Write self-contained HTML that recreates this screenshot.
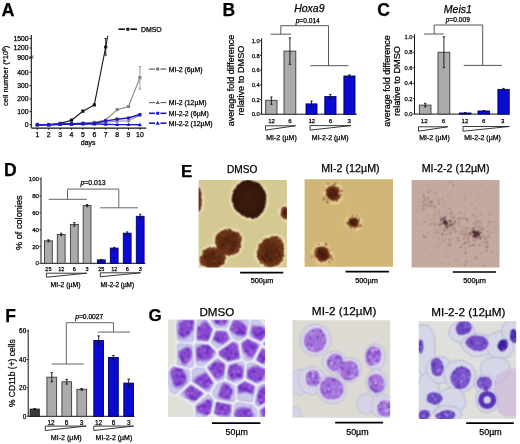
<!DOCTYPE html>
<html><head><meta charset="utf-8"><style>
html,body{margin:0;padding:0;background:#fff;width:520px;height:444px;overflow:hidden}
svg{display:block;will-change:transform}
text{font-family:"Liberation Sans", sans-serif;stroke:#000;stroke-width:0.25px;stroke-linejoin:round}
</style></head><body>
<svg width="520" height="444" viewBox="0 0 520 444" font-family="Liberation Sans, sans-serif">
<rect width="520" height="444" fill="#fff"/>
<defs>
<filter id="soft" x="-5%" y="-5%" width="110%" height="110%" color-interpolation-filters="sRGB"><feConvolveMatrix order="3" kernelMatrix="1 2 1 2 4 2 1 2 1" divisor="16" edgeMode="duplicate"/></filter>
<filter id="halo" x="-20%" y="-20%" width="140%" height="140%"><feGaussianBlur stdDeviation="0.85"/></filter>
<radialGradient id="colA" cx="50%" cy="48%" r="52%"><stop offset="0" stop-color="#3e1c0e"/><stop offset="0.7" stop-color="#36170a"/><stop offset="1" stop-color="#321408"/></radialGradient>
<radialGradient id="colB" cx="50%" cy="50%" r="52%"><stop offset="0" stop-color="#54260f"/><stop offset="0.65" stop-color="#5e2c14"/><stop offset="1" stop-color="#7a4020"/></radialGradient>
<radialGradient id="colC" cx="50%" cy="50%" r="52%"><stop offset="0" stop-color="#40160a"/><stop offset="0.55" stop-color="#5a2410"/><stop offset="1" stop-color="#9a5a2c"/></radialGradient>
<clipPath id="clip0"><rect x="198.6" y="179.9" width="88.3" height="87.5"/></clipPath>
<clipPath id="clip1"><rect x="304.6" y="179.2" width="88.4" height="87.5"/></clipPath>
<clipPath id="clip2"><rect x="411.6" y="179.9" width="87.9" height="87.5"/></clipPath>
<clipPath id="clip3"><rect x="168.0" y="319.4" width="97.1" height="97.7"/></clipPath>
<clipPath id="clip4"><rect x="292.4" y="320.2" width="97.8" height="97.5"/></clipPath>
<clipPath id="clip5"><rect x="418.7" y="321.2" width="97.5" height="97.9"/></clipPath>
</defs>
<g clip-path="url(#clip0)"><g filter="url(#soft)">
<rect x="196.6" y="177.9" width="92.3" height="91.5" fill="#d4c893"/>
<g filter="url(#halo)">
<path d="M268.2,199.0 L267.9,202.8 L267.2,206.6 L265.4,210.0 L263.4,213.4 L261.0,216.8 L257.5,219.1 L253.4,219.9 L249.4,220.2 L245.5,219.1 L242.1,217.2 L238.8,215.3 L236.2,212.6 L233.4,210.0 L231.3,206.7 L230.4,202.9 L230.2,199.0 L230.9,195.2 L231.7,191.4 L233.2,187.8 L235.3,184.5 L238.2,181.7 L241.7,179.9 L245.4,178.2 L249.4,178.3 L253.4,178.4 L257.0,180.1 L259.9,182.7 L263.0,185.0 L265.0,188.2 L267.1,191.5 L268.0,195.2 Z" fill="#f8ebbe"/>
<path d="M203.5,199.2 L203.4,202.0 L203.4,205.0 L202.8,207.6 L202.1,210.1 L201.0,211.3 L199.9,212.6 L198.7,213.0 L197.6,212.1 L196.5,212.1 L195.5,211.4 L194.6,210.1 L193.6,208.9 L192.6,207.3 L191.9,204.9 L191.7,202.0 L191.7,199.2 L191.6,196.3 L192.0,193.6 L192.5,191.0 L193.3,188.8 L194.3,187.4 L195.5,186.7 L196.5,186.2 L197.6,185.8 L198.7,185.6 L199.8,186.4 L200.8,187.8 L201.8,189.2 L202.4,191.5 L203.0,193.9 L203.2,196.5 Z" fill="#f8ebbe"/>
<path d="M292.1,213.2 L292.7,214.9 L292.7,216.7 L291.8,218.2 L290.9,219.6 L289.6,220.4 L288.3,221.2 L286.9,221.7 L285.5,221.5 L284.2,220.7 L283.2,219.8 L282.3,218.9 L281.6,217.8 L280.8,216.9 L279.8,216.0 L279.3,214.6 L279.0,213.2 L278.6,211.6 L279.0,210.0 L279.5,208.5 L280.5,207.3 L281.7,206.4 L282.8,205.4 L284.1,205.1 L285.5,204.6 L287.0,204.4 L288.2,205.6 L288.9,207.3 L289.7,208.3 L289.9,209.7 L290.4,210.8 L291.3,211.8 Z" fill="#f8ebbe"/>
<path d="M243.5,242.2 L242.7,245.3 L242.5,248.6 L240.5,251.1 L239.0,253.8 L236.3,255.1 L233.8,256.2 L231.1,256.0 L228.6,256.8 L226.0,257.0 L223.5,256.0 L220.9,255.0 L218.8,253.1 L217.5,250.5 L215.0,248.5 L213.6,245.5 L213.1,242.2 L213.6,238.9 L214.0,235.5 L216.5,233.2 L218.6,231.1 L220.9,229.3 L223.4,228.2 L225.9,227.2 L228.6,227.9 L231.1,227.9 L233.4,229.2 L236.2,229.5 L238.9,230.8 L240.7,233.2 L242.6,235.7 L243.6,238.9 Z" fill="#f8ebbe"/>
<path d="M228.1,258.5 L227.0,261.3 L225.8,263.8 L223.6,265.7 L221.6,267.3 L219.7,268.8 L217.7,270.3 L215.3,271.9 L212.6,271.7 L210.0,271.0 L207.6,270.1 L205.6,268.7 L202.9,267.9 L200.3,266.5 L198.5,264.2 L197.8,261.4 L198.2,258.5 L199.9,256.1 L200.3,253.6 L201.3,251.2 L202.9,249.1 L205.1,247.5 L207.3,246.0 L210.0,245.8 L212.6,244.8 L215.3,245.4 L217.6,246.7 L219.6,248.3 L222.0,249.4 L223.6,251.3 L225.9,253.2 L227.5,255.6 Z" fill="#f8ebbe"/>
<path d="M285.8,252.0 L285.4,254.9 L285.2,257.9 L283.5,260.3 L282.2,263.2 L279.9,265.4 L277.4,267.6 L274.4,268.9 L271.0,268.8 L267.7,268.6 L264.6,267.5 L261.5,266.3 L259.0,264.0 L257.5,261.1 L255.2,258.5 L255.2,255.1 L254.8,252.0 L256.2,249.1 L257.6,246.4 L258.2,243.4 L260.6,241.6 L262.6,239.5 L264.8,237.0 L267.8,235.8 L271.0,235.5 L274.5,234.2 L278.1,235.0 L281.5,236.3 L283.7,239.3 L285.7,242.2 L285.8,245.9 L286.0,249.0 Z" fill="#f8ebbe"/>
</g>
<g>
<path d="M265.6,199.0 L265.4,201.6 L265.1,204.3 L264.0,206.7 L262.8,209.1 L261.7,211.7 L259.8,213.9 L257.5,215.5 L255.1,217.1 L252.3,217.7 L249.4,217.3 L246.7,216.6 L244.4,215.1 L242.0,214.1 L239.8,212.7 L237.9,211.0 L236.2,209.0 L234.9,206.6 L233.7,204.3 L232.9,201.7 L232.6,199.0 L232.8,196.3 L233.7,193.7 L234.4,191.1 L236.0,188.9 L237.3,186.5 L239.3,184.7 L241.7,183.4 L244.0,181.7 L246.7,181.2 L249.4,180.6 L252.1,181.1 L254.6,182.4 L257.1,183.4 L259.3,184.9 L260.9,187.1 L262.5,189.2 L264.1,191.2 L264.6,193.9 L265.5,196.4 Z" fill="url(#colA)"/>
<circle cx="265.4" cy="199.0" r="1.1" fill="#33140a"/>
<circle cx="265.6" cy="201.2" r="0.9" fill="#33140a"/>
<circle cx="265.0" cy="203.5" r="1.1" fill="#33140a"/>
<circle cx="264.3" cy="205.6" r="1.2" fill="#33140a"/>
<circle cx="263.8" cy="207.3" r="1.3" fill="#33140a"/>
<circle cx="262.7" cy="209.6" r="1.4" fill="#33140a"/>
<circle cx="261.8" cy="211.5" r="1.3" fill="#33140a"/>
<circle cx="260.0" cy="213.2" r="1.3" fill="#33140a"/>
<circle cx="258.7" cy="214.8" r="1.4" fill="#33140a"/>
<circle cx="256.8" cy="216.6" r="1.4" fill="#33140a"/>
<circle cx="254.7" cy="217.4" r="1.1" fill="#33140a"/>
<circle cx="252.5" cy="217.6" r="1.5" fill="#33140a"/>
<circle cx="250.2" cy="216.8" r="1.0" fill="#33140a"/>
<circle cx="247.6" cy="217.1" r="1.2" fill="#33140a"/>
<circle cx="245.7" cy="216.0" r="1.2" fill="#33140a"/>
<circle cx="243.6" cy="214.9" r="1.3" fill="#33140a"/>
<circle cx="242.0" cy="214.1" r="1.3" fill="#33140a"/>
<circle cx="240.6" cy="212.6" r="1.5" fill="#33140a"/>
<circle cx="238.7" cy="211.1" r="1.4" fill="#33140a"/>
<circle cx="237.2" cy="210.2" r="1.2" fill="#33140a"/>
<circle cx="235.5" cy="208.3" r="1.4" fill="#33140a"/>
<circle cx="234.2" cy="206.4" r="0.9" fill="#33140a"/>
<circle cx="233.9" cy="204.7" r="1.0" fill="#33140a"/>
<circle cx="233.0" cy="202.3" r="1.0" fill="#33140a"/>
<circle cx="232.9" cy="200.2" r="1.4" fill="#33140a"/>
<circle cx="232.4" cy="198.0" r="0.9" fill="#33140a"/>
<circle cx="233.3" cy="195.6" r="1.4" fill="#33140a"/>
<circle cx="234.3" cy="193.7" r="1.5" fill="#33140a"/>
<circle cx="234.2" cy="191.2" r="1.3" fill="#33140a"/>
<circle cx="235.2" cy="189.4" r="1.1" fill="#33140a"/>
<circle cx="236.5" cy="187.3" r="0.9" fill="#33140a"/>
<circle cx="238.1" cy="185.8" r="1.5" fill="#33140a"/>
<circle cx="240.1" cy="184.7" r="1.2" fill="#33140a"/>
<circle cx="241.4" cy="183.3" r="1.3" fill="#33140a"/>
<circle cx="243.4" cy="182.0" r="1.5" fill="#33140a"/>
<circle cx="245.6" cy="181.5" r="1.3" fill="#33140a"/>
<circle cx="247.6" cy="181.0" r="1.5" fill="#33140a"/>
<circle cx="250.0" cy="180.6" r="0.9" fill="#33140a"/>
<circle cx="252.1" cy="181.5" r="0.9" fill="#33140a"/>
<circle cx="254.4" cy="181.9" r="0.9" fill="#33140a"/>
<circle cx="256.3" cy="183.0" r="1.3" fill="#33140a"/>
<circle cx="258.2" cy="184.0" r="1.3" fill="#33140a"/>
<circle cx="259.6" cy="185.2" r="1.3" fill="#33140a"/>
<circle cx="261.4" cy="187.1" r="1.2" fill="#33140a"/>
<circle cx="262.3" cy="189.0" r="1.1" fill="#33140a"/>
<circle cx="263.3" cy="190.7" r="1.3" fill="#33140a"/>
<circle cx="264.3" cy="192.6" r="1.4" fill="#33140a"/>
<circle cx="265.1" cy="194.7" r="1.3" fill="#33140a"/>
<circle cx="265.1" cy="196.7" r="1.4" fill="#33140a"/>
</g>
<g>
<path d="M200.8,199.2 L200.8,200.7 L200.8,202.3 L200.7,203.8 L200.6,205.4 L200.2,206.5 L200.1,208.1 L199.6,208.8 L199.3,209.6 L198.9,210.2 L198.4,210.5 L198.0,209.6 L197.6,209.7 L197.2,209.3 L196.8,209.4 L196.5,208.5 L196.1,208.7 L195.7,208.0 L195.4,207.0 L195.0,206.3 L194.8,205.0 L194.5,203.8 L194.6,202.1 L194.3,200.7 L194.4,199.2 L194.3,197.6 L194.3,196.0 L194.5,194.5 L194.7,193.1 L194.9,191.7 L195.3,190.9 L195.7,190.3 L196.0,189.4 L196.4,188.9 L196.9,189.2 L197.2,188.2 L197.6,188.2 L198.0,187.8 L198.4,188.0 L198.8,189.0 L199.2,189.3 L199.5,190.2 L199.8,191.3 L200.0,192.5 L200.4,193.5 L200.6,194.7 L200.7,196.2 L200.7,197.7 Z" fill="url(#colB)"/>
<path d="M199.1,190.1 L198.3,190.2 L197.9,190.9 L198.0,191.3 L198.8,191.8 L199.2,191.7 L199.6,191.2 Z M196.0,191.8 L195.5,191.9 L195.2,192.2 L195.0,192.7 L195.2,193.2 L195.5,193.5 L196.0,193.7 L196.5,193.5 L196.8,193.2 L196.9,192.7 L196.8,192.2 L196.5,191.9 Z M196.6,205.3 L196.1,205.5 L195.7,205.8 L195.6,206.3 L195.7,206.8 L196.1,207.1 L196.6,207.2 L197.0,207.1 L197.4,206.8 L197.5,206.3 L197.4,205.8 L197.0,205.5 Z" fill="#42190a"/>
<path d="M199.7,191.7 L199.4,191.8 L199.1,192.3 L199.2,192.7 L199.7,193.0 L200.0,192.9 Z" fill="#84482a"/>
<circle cx="200.9" cy="199.4" r="1.2" fill="#6a3018"/>
<circle cx="200.6" cy="201.2" r="1.2" fill="#6a3018"/>
<circle cx="200.6" cy="204.1" r="1.4" fill="#6a3018"/>
<circle cx="200.2" cy="205.8" r="1.4" fill="#6a3018"/>
<circle cx="200.1" cy="208.2" r="1.1" fill="#6a3018"/>
<circle cx="199.2" cy="208.9" r="1.4" fill="#6a3018"/>
<circle cx="198.7" cy="210.0" r="1.2" fill="#6a3018"/>
<circle cx="198.2" cy="210.3" r="1.5" fill="#6a3018"/>
<circle cx="197.4" cy="209.4" r="1.5" fill="#6a3018"/>
<circle cx="197.3" cy="209.9" r="1.2" fill="#6a3018"/>
<circle cx="196.7" cy="209.4" r="1.0" fill="#6a3018"/>
<circle cx="196.1" cy="208.2" r="1.3" fill="#6a3018"/>
<circle cx="195.4" cy="206.9" r="1.1" fill="#6a3018"/>
<circle cx="194.7" cy="205.5" r="1.3" fill="#6a3018"/>
<circle cx="194.4" cy="204.0" r="0.9" fill="#6a3018"/>
<circle cx="194.7" cy="201.6" r="1.5" fill="#6a3018"/>
<circle cx="194.6" cy="199.4" r="1.2" fill="#6a3018"/>
<circle cx="194.1" cy="197.0" r="1.0" fill="#6a3018"/>
<circle cx="194.4" cy="194.8" r="1.2" fill="#6a3018"/>
<circle cx="194.8" cy="192.8" r="1.3" fill="#6a3018"/>
<circle cx="195.2" cy="190.6" r="1.4" fill="#6a3018"/>
<circle cx="195.8" cy="189.8" r="1.1" fill="#6a3018"/>
<circle cx="196.3" cy="189.1" r="1.4" fill="#6a3018"/>
<circle cx="196.8" cy="188.8" r="1.5" fill="#6a3018"/>
<circle cx="197.8" cy="188.6" r="0.9" fill="#6a3018"/>
<circle cx="198.3" cy="188.4" r="0.9" fill="#6a3018"/>
<circle cx="198.7" cy="188.7" r="1.2" fill="#6a3018"/>
<circle cx="199.3" cy="190.0" r="1.4" fill="#6a3018"/>
<circle cx="199.6" cy="190.8" r="1.0" fill="#6a3018"/>
<circle cx="200.0" cy="192.7" r="1.5" fill="#6a3018"/>
<circle cx="200.7" cy="194.6" r="1.2" fill="#6a3018"/>
<circle cx="200.5" cy="196.9" r="1.1" fill="#6a3018"/>
</g>
<g>
<path d="M289.5,213.2 L289.6,213.9 L289.9,214.7 L289.7,215.5 L289.4,216.2 L289.3,217.0 L288.9,217.6 L288.4,218.0 L287.8,218.3 L287.2,218.5 L286.6,218.4 L286.0,218.4 L285.5,218.2 L285.0,217.8 L284.5,218.0 L284.1,217.6 L283.7,217.3 L283.2,217.1 L283.0,216.5 L282.6,216.1 L282.5,215.4 L282.3,214.9 L281.8,214.5 L281.7,213.9 L281.7,213.2 L281.2,212.5 L281.4,211.8 L281.8,211.2 L281.8,210.4 L281.9,209.6 L282.4,209.2 L282.7,208.5 L283.3,208.3 L283.8,207.8 L284.4,207.9 L284.9,207.4 L285.5,207.4 L286.0,208.0 L286.7,207.6 L287.1,208.1 L287.4,209.0 L287.7,209.4 L287.9,210.1 L288.1,210.6 L288.2,211.1 L288.6,211.6 L288.6,212.1 L289.3,212.6 Z" fill="url(#colC)"/>
<path d="M283.4,210.7 L282.7,210.7 L282.5,210.9 L282.4,211.3 L282.7,211.9 L283.4,211.9 L283.7,211.6 L283.8,211.3 Z M287.2,213.3 L286.3,213.3 L286.0,213.6 L285.9,214.1 L286.3,214.8 L287.2,214.8 L287.5,214.5 L287.6,214.1 Z" fill="#42190a"/>
<path d="M286.6,215.1 L286.0,214.8 L285.7,214.9 L285.4,215.1 L285.4,215.8 L286.0,216.1 L286.4,216.1 L286.6,215.8 Z" fill="#84482a"/>
<circle cx="289.2" cy="213.0" r="1.1" fill="#6a3018"/>
<circle cx="289.8" cy="216.0" r="1.1" fill="#6a3018"/>
<circle cx="288.5" cy="217.9" r="1.2" fill="#6a3018"/>
<circle cx="286.3" cy="218.3" r="1.3" fill="#6a3018"/>
<circle cx="284.6" cy="218.1" r="1.2" fill="#6a3018"/>
<circle cx="283.2" cy="216.8" r="1.3" fill="#6a3018"/>
<circle cx="281.8" cy="215.3" r="1.2" fill="#6a3018"/>
<circle cx="281.6" cy="213.5" r="1.1" fill="#6a3018"/>
<circle cx="281.8" cy="210.9" r="1.1" fill="#6a3018"/>
<circle cx="282.8" cy="208.6" r="1.4" fill="#6a3018"/>
<circle cx="284.6" cy="208.0" r="1.4" fill="#6a3018"/>
<circle cx="286.5" cy="208.0" r="1.2" fill="#6a3018"/>
<circle cx="287.4" cy="209.8" r="0.9" fill="#6a3018"/>
<circle cx="287.8" cy="211.8" r="0.9" fill="#6a3018"/>
</g>
<g>
<path d="M240.6,242.2 L240.2,243.9 L240.2,245.8 L239.1,247.2 L239.0,249.0 L237.9,250.3 L236.9,251.7 L235.4,252.4 L234.2,253.3 L232.8,253.7 L231.3,253.7 L230.0,254.6 L228.6,254.3 L227.3,253.7 L225.7,254.4 L224.3,253.9 L223.4,252.5 L222.2,251.7 L220.4,251.5 L219.5,250.2 L218.7,248.7 L217.2,247.6 L216.5,245.9 L215.8,244.1 L215.9,242.2 L215.2,240.2 L216.4,238.5 L216.9,236.7 L217.7,235.0 L220.0,234.7 L220.8,233.3 L222.0,232.4 L223.0,231.2 L224.4,230.5 L225.8,230.1 L227.3,230.7 L228.6,230.3 L230.0,230.2 L231.1,231.5 L232.6,231.1 L233.9,231.8 L235.6,231.8 L237.0,232.6 L238.1,233.9 L239.6,235.0 L240.7,236.5 L241.0,238.4 L241.0,240.3 Z" fill="url(#colB)"/>
<path d="M218.1,237.0 L217.3,237.4 L217.2,238.5 L217.6,238.9 L218.1,239.1 L218.6,238.9 L219.0,238.5 L219.1,238.0 L219.0,237.5 L218.6,237.1 Z M225.1,238.6 L225.0,239.0 L225.1,239.5 L225.4,239.8 L225.9,239.9 L226.3,239.8 L226.7,239.5 L226.8,239.0 L226.7,238.6 L226.3,238.2 L225.9,238.1 L225.4,238.2 Z M224.3,239.9 L224.2,240.2 L224.5,240.8 L224.9,240.9 L225.4,240.5 L225.5,240.2 L225.2,239.6 L224.9,239.5 Z M221.5,244.2 L221.3,244.8 L221.5,245.5 L221.9,245.9 L222.5,246.1 L223.1,245.9 L223.6,245.5 L223.7,244.8 L223.6,244.2 L223.1,243.8 L222.5,243.6 L221.9,243.8 Z M218.1,247.1 L220.1,248.9 L220.3,248.6 L220.5,248.0 L220.3,247.3 L219.8,246.8 L219.2,246.6 L218.5,246.8 Z M229.7,248.8 L229.7,249.5 L229.9,249.7 L230.5,249.7 L230.8,249.5 L230.8,248.8 L230.5,248.6 L229.9,248.6 Z M227.6,252.8 L227.5,253.2 L227.7,253.8 L229.2,253.5 L229.2,252.8 L228.9,252.4 L228.4,252.3 L227.9,252.4 Z M235.1,233.2 L235.3,233.9 L235.7,234.3 L236.7,234.4 L236.8,234.9 L237.0,235.1 L237.3,235.2 L237.8,234.9 L236.5,233.2 L235.3,232.6 Z M233.2,233.6 L233.0,234.2 L233.2,234.7 L233.6,235.2 L234.2,235.3 L234.8,235.2 L235.2,234.7 L235.3,234.2 L235.2,233.6 L234.8,233.2 L234.2,233.0 L233.6,233.2 Z M235.4,235.7 L235.4,236.5 L235.7,236.7 L236.4,236.7 L236.7,236.5 L236.7,235.7 L236.4,235.4 L235.7,235.4 Z M233.6,241.8 L233.5,242.4 L233.6,243.0 L234.1,243.4 L234.6,243.6 L235.2,243.4 L235.7,243.0 L235.8,242.4 L235.7,241.8 L235.2,241.4 L234.6,241.2 L234.1,241.4 Z M233.5,245.7 L233.4,246.2 L233.5,246.7 L233.9,247.1 L234.4,247.2 L234.9,247.1 L235.3,246.7 L235.4,246.2 L235.3,245.7 L234.9,245.3 L234.4,245.2 L233.9,245.3 Z M231.3,249.3 L231.1,250.0 L231.3,250.7 L231.8,251.2 L232.4,251.4 L233.1,251.2 L233.6,250.7 L233.8,250.0 L233.6,249.3 L233.1,248.8 L232.4,248.7 L231.8,248.8 Z" fill="#42190a"/>
<path d="M222.9,234.2 L222.2,234.7 L222.2,235.5 L222.5,235.8 L223.1,235.8 L223.3,236.3 L223.6,236.6 L224.0,236.8 L224.5,236.6 L224.8,236.3 L224.9,235.8 L224.8,235.4 L224.5,235.1 L223.7,235.0 L223.3,234.4 Z M238.9,236.5 L238.2,236.9 L238.1,237.3 L238.2,237.8 L238.6,238.1 L239.0,238.3 L239.5,238.1 L239.6,238.0 L239.4,237.1 Z M227.5,244.6 L227.1,245.0 L226.9,245.5 L227.1,246.0 L227.5,246.4 L228.0,246.5 L228.5,246.4 L228.9,246.0 L229.0,245.5 L228.9,245.0 L228.5,244.6 L228.0,244.4 Z M226.8,246.8 L226.5,247.3 L226.6,247.5 L227.0,247.8 L227.3,247.7 L227.6,247.3 L227.5,247.0 L227.0,246.7 Z M225.9,249.7 L225.5,250.4 L225.6,250.8 L226.3,251.3 L226.8,251.1 L227.2,250.4 L227.1,250.0 L226.3,249.6 Z M233.8,251.2 L233.4,251.9 L233.8,252.6 L234.9,252.2 L234.9,251.5 L234.6,251.2 Z" fill="#84482a"/>
<circle cx="240.5" cy="242.0" r="0.9" fill="#6a3018"/>
<circle cx="240.1" cy="244.4" r="1.0" fill="#6a3018"/>
<circle cx="240.0" cy="246.8" r="1.4" fill="#6a3018"/>
<circle cx="238.4" cy="249.1" r="1.2" fill="#6a3018"/>
<circle cx="237.8" cy="250.9" r="1.4" fill="#6a3018"/>
<circle cx="236.2" cy="252.2" r="1.2" fill="#6a3018"/>
<circle cx="234.4" cy="253.6" r="1.1" fill="#6a3018"/>
<circle cx="232.3" cy="253.7" r="1.2" fill="#6a3018"/>
<circle cx="230.3" cy="254.0" r="1.3" fill="#6a3018"/>
<circle cx="228.7" cy="254.8" r="1.4" fill="#6a3018"/>
<circle cx="226.6" cy="253.9" r="1.1" fill="#6a3018"/>
<circle cx="224.6" cy="254.1" r="1.4" fill="#6a3018"/>
<circle cx="223.3" cy="253.0" r="1.4" fill="#6a3018"/>
<circle cx="221.7" cy="251.4" r="1.3" fill="#6a3018"/>
<circle cx="219.6" cy="250.3" r="1.4" fill="#6a3018"/>
<circle cx="218.6" cy="248.6" r="1.2" fill="#6a3018"/>
<circle cx="217.8" cy="246.4" r="1.1" fill="#6a3018"/>
<circle cx="216.9" cy="244.5" r="1.0" fill="#6a3018"/>
<circle cx="215.5" cy="242.5" r="1.1" fill="#6a3018"/>
<circle cx="216.0" cy="239.4" r="1.1" fill="#6a3018"/>
<circle cx="216.7" cy="237.0" r="1.4" fill="#6a3018"/>
<circle cx="218.1" cy="234.9" r="1.5" fill="#6a3018"/>
<circle cx="219.6" cy="233.8" r="1.4" fill="#6a3018"/>
<circle cx="221.1" cy="232.3" r="1.3" fill="#6a3018"/>
<circle cx="223.4" cy="231.5" r="1.4" fill="#6a3018"/>
<circle cx="225.1" cy="230.5" r="1.2" fill="#6a3018"/>
<circle cx="226.5" cy="230.3" r="1.1" fill="#6a3018"/>
<circle cx="228.7" cy="229.8" r="1.2" fill="#6a3018"/>
<circle cx="230.3" cy="230.3" r="1.3" fill="#6a3018"/>
<circle cx="231.8" cy="231.9" r="1.3" fill="#6a3018"/>
<circle cx="233.4" cy="232.5" r="1.0" fill="#6a3018"/>
<circle cx="235.4" cy="232.9" r="1.3" fill="#6a3018"/>
<circle cx="238.0" cy="233.3" r="1.2" fill="#6a3018"/>
<circle cx="239.2" cy="235.0" r="0.9" fill="#6a3018"/>
<circle cx="240.7" cy="237.4" r="1.2" fill="#6a3018"/>
<circle cx="240.9" cy="239.7" r="1.1" fill="#6a3018"/>
</g>
<g>
<path d="M225.0,258.5 L224.3,260.0 L224.2,261.5 L222.9,262.6 L221.9,263.7 L220.5,264.4 L219.8,265.4 L219.3,266.9 L218.1,267.7 L216.7,268.1 L215.5,268.8 L214.0,268.5 L212.6,268.9 L211.2,268.7 L209.8,268.5 L208.7,267.5 L207.4,267.2 L206.3,266.4 L204.9,265.9 L203.4,265.3 L202.2,264.3 L202.1,262.7 L201.2,261.4 L201.8,259.9 L201.2,258.5 L201.2,257.0 L202.3,255.9 L203.1,254.7 L202.8,253.0 L203.7,251.9 L204.7,250.9 L205.6,249.8 L207.1,249.3 L208.3,248.4 L209.7,248.1 L211.1,247.8 L212.6,248.1 L214.0,248.6 L215.4,248.6 L216.5,249.4 L217.7,250.0 L218.8,250.8 L219.9,251.4 L220.7,252.5 L221.8,253.4 L222.9,254.4 L224.0,255.5 L224.2,257.0 Z" fill="url(#colB)"/>
<path d="M207.0,250.5 L207.6,250.9 L207.9,250.8 L208.2,250.2 L208.1,249.8 L207.8,249.5 L206.9,250.2 Z M209.0,254.2 L208.7,254.5 L208.6,254.9 L208.7,255.4 L209.0,255.7 L209.5,255.9 L209.9,255.7 L210.3,255.4 L210.4,254.9 L210.3,254.5 L209.9,254.2 L209.5,254.0 Z M204.0,255.9 L204.0,256.7 L204.6,257.0 L205.1,257.7 L205.7,257.9 L206.3,257.7 L206.7,257.3 L206.9,256.7 L206.7,256.1 L206.3,255.6 L205.7,255.5 L205.1,255.6 L204.7,255.5 Z M206.8,263.6 L206.5,264.2 L206.8,264.7 L207.4,264.7 L207.6,264.5 L207.7,264.2 L207.4,263.6 Z M209.8,265.5 L209.6,265.7 L209.6,266.3 L209.8,266.6 L210.5,266.6 L210.7,266.3 L210.7,265.7 L210.5,265.5 Z M211.9,252.6 L211.7,253.2 L211.9,253.8 L212.4,254.2 L213.0,254.4 L213.6,254.2 L214.0,253.8 L214.2,253.2 L214.0,252.6 L213.6,252.1 L213.0,252.0 L212.4,252.1 Z M212.8,259.4 L212.7,259.8 L213.1,260.4 L213.5,260.5 L214.1,260.2 L214.2,259.8 L213.9,259.1 L213.5,259.0 Z M218.6,262.7 L218.6,263.4 L219.1,263.8 L219.6,264.4 L220.2,264.5 L221.1,263.8 L221.1,263.0 L220.7,262.6 L219.3,262.3 Z M213.4,263.2 L212.9,264.0 L213.4,264.7 L214.3,264.7 L214.6,264.4 L214.7,264.0 L214.3,263.2 Z" fill="#42190a"/>
<path d="M217.2,253.2 L216.6,253.4 L216.3,253.8 L216.1,254.3 L216.3,254.8 L216.6,255.1 L217.2,255.3 L217.7,255.1 L218.0,254.8 L218.2,254.3 L218.0,253.8 L217.7,253.4 Z M223.2,255.2 L222.5,255.6 L222.5,256.4 L222.8,256.7 L223.6,256.7 L223.9,256.3 Z M216.6,257.4 L216.2,257.5 L215.8,258.2 L215.9,258.6 L216.6,259.0 L217.0,258.9 L217.4,258.2 L217.3,257.8 Z M212.0,259.7 L211.7,260.0 L211.6,260.5 L211.7,260.9 L212.0,261.3 L212.5,261.4 L212.9,261.3 L213.3,260.9 L213.4,260.5 L213.3,260.0 L212.9,259.7 L212.5,259.5 Z M214.2,260.2 L213.8,260.6 L213.7,261.1 L213.8,261.7 L214.2,262.1 L214.8,262.2 L215.3,262.1 L215.7,261.7 L215.9,261.1 L215.7,260.6 L215.3,260.2 L214.8,260.0 Z" fill="#84482a"/>
<circle cx="225.0" cy="258.3" r="1.2" fill="#6a3018"/>
<circle cx="223.8" cy="260.8" r="1.3" fill="#6a3018"/>
<circle cx="223.1" cy="262.9" r="1.5" fill="#6a3018"/>
<circle cx="221.5" cy="264.1" r="1.4" fill="#6a3018"/>
<circle cx="219.7" cy="265.4" r="1.1" fill="#6a3018"/>
<circle cx="217.9" cy="266.7" r="1.2" fill="#6a3018"/>
<circle cx="216.5" cy="268.0" r="1.4" fill="#6a3018"/>
<circle cx="214.4" cy="269.0" r="1.4" fill="#6a3018"/>
<circle cx="212.1" cy="269.2" r="1.3" fill="#6a3018"/>
<circle cx="210.1" cy="268.2" r="1.4" fill="#6a3018"/>
<circle cx="208.2" cy="267.8" r="1.2" fill="#6a3018"/>
<circle cx="206.4" cy="266.4" r="1.0" fill="#6a3018"/>
<circle cx="203.8" cy="265.3" r="1.0" fill="#6a3018"/>
<circle cx="201.8" cy="264.2" r="1.3" fill="#6a3018"/>
<circle cx="201.0" cy="262.0" r="1.3" fill="#6a3018"/>
<circle cx="200.7" cy="259.6" r="1.4" fill="#6a3018"/>
<circle cx="201.3" cy="257.2" r="1.4" fill="#6a3018"/>
<circle cx="203.0" cy="255.5" r="1.1" fill="#6a3018"/>
<circle cx="203.2" cy="253.5" r="1.0" fill="#6a3018"/>
<circle cx="203.9" cy="251.4" r="1.4" fill="#6a3018"/>
<circle cx="205.6" cy="250.0" r="1.0" fill="#6a3018"/>
<circle cx="207.6" cy="248.9" r="1.1" fill="#6a3018"/>
<circle cx="209.6" cy="247.8" r="1.0" fill="#6a3018"/>
<circle cx="211.9" cy="248.3" r="0.9" fill="#6a3018"/>
<circle cx="214.0" cy="247.8" r="1.1" fill="#6a3018"/>
<circle cx="216.5" cy="248.4" r="1.1" fill="#6a3018"/>
<circle cx="218.0" cy="249.7" r="1.5" fill="#6a3018"/>
<circle cx="219.4" cy="251.2" r="1.2" fill="#6a3018"/>
<circle cx="221.4" cy="252.6" r="1.1" fill="#6a3018"/>
<circle cx="222.7" cy="254.0" r="1.3" fill="#6a3018"/>
<circle cx="224.4" cy="256.3" r="1.2" fill="#6a3018"/>
</g>
<g>
<path d="M283.3,252.0 L283.5,253.6 L283.2,255.3 L282.3,256.7 L282.0,258.4 L280.9,259.6 L280.6,261.6 L279.5,263.0 L277.5,263.3 L276.3,264.8 L274.7,265.7 L273.0,266.9 L271.0,267.0 L269.1,266.3 L267.3,266.0 L265.7,264.8 L263.8,264.4 L263.0,262.5 L261.9,261.1 L260.0,260.5 L258.9,259.0 L258.5,257.2 L257.3,255.7 L257.4,253.8 L258.2,252.0 L257.1,250.2 L259.0,248.8 L258.8,246.9 L260.4,245.9 L260.9,244.3 L262.3,243.3 L262.8,241.3 L264.4,240.6 L265.9,239.7 L267.7,239.7 L269.2,238.5 L271.0,238.2 L272.9,237.8 L274.8,237.8 L277.0,237.5 L278.5,239.0 L280.4,239.7 L281.4,241.6 L282.5,243.2 L283.5,244.8 L282.8,247.1 L282.7,248.9 L283.4,250.4 Z" fill="url(#colB)"/>
<path d="M265.7,241.0 L266.1,241.5 L266.7,241.6 L267.3,241.5 L267.7,241.0 L267.8,240.5 L267.7,239.9 L267.4,239.6 L266.1,240.1 L265.6,240.7 Z M266.7,248.6 L266.4,249.3 L266.7,250.0 L267.5,250.0 L267.8,249.7 L267.9,249.3 L267.5,248.6 Z M264.5,253.9 L264.3,254.6 L264.5,255.3 L265.3,255.9 L265.1,256.6 L265.3,257.3 L265.8,257.8 L266.4,257.9 L267.1,257.8 L267.6,257.3 L267.8,256.6 L267.6,255.9 L266.8,255.4 L267.1,254.6 L266.9,253.9 L266.4,253.4 L265.7,253.2 L265.0,253.4 Z M258.5,255.1 L258.5,256.7 L258.8,257.0 L259.5,257.2 L260.2,257.0 L260.6,256.6 L260.8,255.9 L260.6,255.2 L260.2,254.7 L259.5,254.6 L258.8,254.7 Z M261.4,257.2 L261.3,257.7 L261.5,258.8 L261.9,259.3 L262.5,259.4 L263.1,259.3 L263.5,258.8 L263.7,258.2 L263.3,257.2 L262.9,256.8 L262.4,256.6 L261.8,256.8 Z M263.6,260.3 L263.8,260.9 L264.2,261.3 L264.7,261.4 L265.3,261.3 L265.7,260.9 L265.8,260.3 L265.7,259.8 L265.3,259.3 L264.7,259.2 L264.2,259.3 L263.8,259.8 Z M278.4,240.6 L278.3,241.0 L278.4,241.5 L278.7,241.8 L279.2,242.0 L279.7,241.8 L280.0,241.5 L280.1,241.0 L280.0,240.6 L279.7,240.3 L279.2,240.1 L278.7,240.3 Z M280.6,245.8 L280.6,246.6 L280.8,246.8 L281.6,246.8 L281.9,246.6 L281.9,245.8 L281.6,245.5 L280.8,245.5 Z M274.9,248.0 L274.8,248.5 L274.9,249.0 L275.3,249.4 L275.7,249.5 L276.2,249.4 L276.6,249.0 L276.7,248.5 L276.6,248.0 L276.2,247.7 L275.7,247.5 L275.3,247.7 Z M276.7,250.7 L276.6,251.1 L277.0,251.8 L277.5,251.9 L278.2,251.5 L278.3,251.1 L277.9,250.4 L277.5,250.3 Z M277.7,252.4 L277.5,253.1 L277.7,253.8 L278.2,254.3 L278.6,254.4 L277.9,254.9 L277.7,255.6 L277.9,256.2 L278.4,256.7 L279.0,256.9 L279.7,256.7 L280.2,256.2 L280.3,255.6 L280.2,254.9 L279.7,254.4 L279.3,254.3 L280.0,253.8 L280.2,253.1 L280.0,252.4 L279.5,252.0 L278.8,251.8 L278.2,252.0 Z M281.6,253.9 L281.6,254.5 L281.8,254.7 L282.4,254.7 L282.5,253.7 L282.1,253.6 Z M268.6,258.8 L268.8,259.4 L268.6,260.0 L268.8,260.7 L269.3,261.2 L270.0,261.3 L270.6,261.2 L271.1,260.7 L271.3,260.0 L271.1,259.3 L270.8,259.0 L270.7,258.2 L270.3,257.8 L269.7,257.6 L269.1,257.8 L268.7,258.2 Z" fill="#42190a"/>
<path d="M271.1,242.6 L270.9,243.1 L270.9,243.3 L271.1,243.5 L271.7,243.5 L272.0,243.1 L271.9,242.8 L271.7,242.6 Z M276.3,246.4 L275.7,246.7 L275.7,247.4 L276.3,247.7 L276.6,247.7 L276.9,247.4 L276.9,246.7 Z M259.3,249.7 L259.9,250.0 L260.5,249.8 L260.9,249.4 L261.0,248.9 L260.9,248.3 L260.5,247.9 L260.2,247.9 Z M279.2,249.4 L278.8,249.7 L278.7,250.3 L278.8,250.8 L279.2,251.2 L279.7,251.3 L280.3,251.2 L280.7,250.8 L280.8,250.3 L280.7,249.7 L280.3,249.4 L279.7,249.2 Z M263.3,252.7 L262.9,253.4 L263.0,253.7 L263.3,254.0 L264.0,254.0 L264.3,253.4 L264.2,253.0 L264.0,252.7 Z M260.5,253.1 L260.3,253.5 L260.3,253.8 L260.8,254.0 L261.0,254.0 L261.3,253.5 L261.2,253.3 L260.8,253.0 Z M273.9,253.6 L273.7,254.2 L274.3,254.4 L274.5,253.8 Z M276.7,254.0 L276.5,254.5 L276.7,255.0 L277.0,255.4 L277.5,255.5 L278.0,255.4 L278.3,255.0 L278.5,254.5 L278.3,254.0 L278.0,253.7 L277.5,253.5 L277.0,253.7 Z M259.9,255.2 L259.6,255.8 L259.9,256.3 L260.5,256.3 L260.7,256.0 L260.8,255.8 L260.5,255.2 Z" fill="#84482a"/>
<circle cx="283.1" cy="252.2" r="1.0" fill="#6a3018"/>
<circle cx="282.7" cy="254.3" r="1.0" fill="#6a3018"/>
<circle cx="283.3" cy="255.9" r="1.2" fill="#6a3018"/>
<circle cx="281.7" cy="258.1" r="1.3" fill="#6a3018"/>
<circle cx="281.4" cy="260.2" r="1.4" fill="#6a3018"/>
<circle cx="279.8" cy="261.7" r="1.2" fill="#6a3018"/>
<circle cx="278.3" cy="263.7" r="1.3" fill="#6a3018"/>
<circle cx="276.8" cy="264.7" r="1.2" fill="#6a3018"/>
<circle cx="274.4" cy="265.5" r="0.9" fill="#6a3018"/>
<circle cx="272.1" cy="266.1" r="0.9" fill="#6a3018"/>
<circle cx="269.9" cy="266.3" r="1.2" fill="#6a3018"/>
<circle cx="267.5" cy="266.4" r="1.0" fill="#6a3018"/>
<circle cx="265.1" cy="265.5" r="1.1" fill="#6a3018"/>
<circle cx="263.5" cy="263.2" r="1.0" fill="#6a3018"/>
<circle cx="261.2" cy="262.7" r="1.3" fill="#6a3018"/>
<circle cx="260.5" cy="260.6" r="1.3" fill="#6a3018"/>
<circle cx="258.9" cy="258.7" r="1.2" fill="#6a3018"/>
<circle cx="258.4" cy="256.6" r="1.5" fill="#6a3018"/>
<circle cx="257.9" cy="254.3" r="1.1" fill="#6a3018"/>
<circle cx="257.5" cy="252.3" r="1.1" fill="#6a3018"/>
<circle cx="258.7" cy="249.7" r="1.0" fill="#6a3018"/>
<circle cx="259.4" cy="247.8" r="1.2" fill="#6a3018"/>
<circle cx="259.7" cy="245.6" r="1.3" fill="#6a3018"/>
<circle cx="260.7" cy="244.1" r="1.1" fill="#6a3018"/>
<circle cx="262.7" cy="243.0" r="1.1" fill="#6a3018"/>
<circle cx="263.5" cy="240.8" r="1.1" fill="#6a3018"/>
<circle cx="265.5" cy="239.8" r="1.4" fill="#6a3018"/>
<circle cx="267.8" cy="239.2" r="1.5" fill="#6a3018"/>
<circle cx="270.1" cy="238.5" r="1.0" fill="#6a3018"/>
<circle cx="272.1" cy="237.3" r="1.2" fill="#6a3018"/>
<circle cx="274.7" cy="237.3" r="1.4" fill="#6a3018"/>
<circle cx="277.2" cy="237.5" r="1.4" fill="#6a3018"/>
<circle cx="279.9" cy="238.5" r="1.0" fill="#6a3018"/>
<circle cx="281.4" cy="240.6" r="1.0" fill="#6a3018"/>
<circle cx="282.5" cy="243.1" r="1.0" fill="#6a3018"/>
<circle cx="282.6" cy="245.4" r="1.4" fill="#6a3018"/>
<circle cx="282.8" cy="248.2" r="1.4" fill="#6a3018"/>
<circle cx="283.0" cy="249.8" r="1.0" fill="#6a3018"/>
</g>
</g></g>
<g clip-path="url(#clip1)"><g filter="url(#soft)">
<rect x="302.6" y="177.2" width="92.4" height="91.5" fill="#d0b677"/>
<g filter="url(#halo)">
<path d="M341.7,193.3 L341.8,194.9 L342.5,196.8 L343.0,199.1 L341.4,200.5 L340.3,202.1 L338.9,203.7 L336.8,203.9 L334.8,203.9 L332.9,204.0 L331.0,204.1 L329.5,202.6 L328.1,201.6 L326.8,200.6 L325.4,199.6 L324.6,198.1 L324.1,196.5 L322.9,195.1 L323.2,193.3 L323.1,191.6 L323.3,189.8 L323.3,187.7 L324.5,186.2 L325.5,184.4 L327.5,183.9 L329.4,183.7 L331.2,183.9 L332.9,183.3 L334.7,183.1 L336.4,183.7 L338.3,184.0 L339.8,185.1 L341.4,186.2 L341.5,188.4 L341.2,190.3 L341.6,191.8 Z" fill="#e9d29a"/>
<path d="M361.9,222.5 L361.3,223.8 L360.9,225.0 L361.0,226.6 L360.7,228.2 L359.6,229.3 L358.6,230.7 L356.8,230.5 L355.3,230.2 L353.9,229.6 L352.6,229.9 L351.4,229.3 L350.1,229.1 L348.9,228.5 L348.1,227.4 L346.9,226.6 L346.0,225.4 L345.7,223.9 L344.6,222.5 L345.1,220.9 L345.6,219.5 L345.9,217.9 L347.6,217.2 L348.4,215.9 L350.0,215.7 L351.3,215.3 L352.6,215.3 L353.9,215.1 L355.2,215.4 L356.4,215.6 L358.0,215.3 L359.1,216.3 L360.7,216.8 L361.3,218.2 L362.4,219.4 L362.5,221.0 Z" fill="#e9d29a"/>
<path d="M333.5,254.0 L333.4,255.9 L334.0,258.2 L332.4,259.7 L331.1,261.3 L329.6,262.6 L327.7,263.2 L326.1,264.3 L324.3,264.7 L322.4,264.4 L320.4,265.2 L318.7,264.2 L317.3,262.9 L316.1,261.5 L314.5,260.6 L313.8,259.0 L312.6,257.6 L312.2,255.8 L311.6,254.0 L312.0,252.2 L312.1,250.2 L312.7,248.4 L313.9,246.9 L314.7,244.9 L316.8,244.4 L318.5,243.3 L320.4,242.7 L322.4,243.0 L324.2,243.8 L326.2,243.7 L327.7,244.8 L328.6,246.6 L329.3,248.2 L330.5,249.3 L330.7,251.0 L332.7,252.2 Z" fill="#e9d29a"/>
</g>
<g>
<path d="M338.5,193.3 L338.7,193.9 L340.2,194.8 L340.2,195.7 L340.5,196.7 L340.6,197.7 L339.5,198.1 L339.6,199.3 L338.2,199.2 L337.7,199.9 L337.1,200.5 L336.0,200.3 L335.2,200.4 L334.7,201.6 L333.7,201.4 L332.9,200.7 L332.1,200.6 L331.2,201.4 L330.6,200.3 L330.1,199.6 L329.2,199.7 L328.7,199.0 L328.3,198.4 L328.1,197.6 L327.5,197.2 L327.3,196.6 L326.7,196.0 L326.0,195.6 L324.7,195.0 L326.5,194.0 L326.0,193.3 L326.5,192.6 L325.6,191.7 L325.2,190.8 L326.0,190.2 L325.6,189.1 L326.8,188.9 L326.5,187.5 L327.9,187.8 L328.1,186.6 L329.0,186.5 L329.7,186.1 L330.6,186.3 L331.3,185.5 L332.0,185.1 L332.9,186.0 L333.6,186.4 L334.6,185.5 L335.4,185.7 L335.7,187.0 L337.0,186.3 L337.3,187.3 L338.8,186.7 L339.4,187.5 L339.3,188.7 L338.3,190.2 L339.9,190.2 L339.5,191.2 L340.1,191.8 L338.8,192.7 Z" fill="url(#colC)"/>
<path d="M330.6,187.7 L330.2,188.5 L330.3,188.9 L330.6,189.2 L331.5,189.2 L332.0,188.5 L331.9,188.0 L331.5,187.7 Z M332.2,188.6 L331.8,189.4 L332.2,190.1 L333.1,190.1 L333.4,189.8 L333.5,189.4 L333.1,188.6 Z M326.2,191.6 L326.8,191.6 L327.1,191.0 L326.8,190.4 L326.4,190.3 L326.2,190.4 Z M332.0,193.7 L331.7,194.3 L332.0,194.8 L332.6,194.8 L332.8,194.6 L332.9,194.3 L332.6,193.7 Z M330.7,194.5 L330.9,195.1 L331.5,195.0 L331.3,194.4 Z M327.6,195.9 L327.6,196.7 L327.9,196.9 L328.6,196.9 L328.9,196.7 L328.9,195.9 L328.6,195.6 L327.9,195.6 Z M332.3,197.8 L332.1,198.3 L332.3,198.7 L332.9,198.7 L333.0,198.5 L333.1,198.3 L332.9,197.8 Z M336.5,189.6 L336.8,190.1 L337.3,190.1 L338.0,190.5 L338.5,190.4 L338.8,189.9 L338.8,189.2 L338.0,188.8 L337.3,189.2 L336.8,189.1 Z M336.6,193.3 L336.5,193.7 L336.9,194.3 L337.2,194.4 L337.8,194.0 L337.9,193.7 L337.6,193.1 L337.2,193.0 Z M333.6,196.6 L333.6,197.1 L333.8,197.3 L334.3,197.3 L334.5,197.1 L334.5,196.6 L334.3,196.4 L333.8,196.4 Z M337.7,196.8 L337.7,197.6 L338.0,198.0 L338.9,198.0 L339.2,197.6 L339.2,196.8 L338.9,196.5 L338.0,196.5 Z M335.6,198.6 L335.5,199.0 L335.9,199.6 L336.6,199.6 L336.9,199.4 L337.0,199.0 L336.6,198.3 L336.3,198.2 Z" fill="#3a1408"/>
<path d="M336.4,188.9 L336.1,188.9 L335.8,189.5 L335.9,189.7 L336.4,190.0 L336.7,190.0 L337.0,189.5 L336.9,189.2 Z M331.7,191.0 L331.4,191.1 L331.1,191.5 L331.2,191.8 L331.7,192.1 L331.9,192.0 L332.2,191.5 L332.1,191.3 Z M332.9,192.8 L332.6,192.9 L332.3,193.4 L332.4,193.7 L332.9,193.9 L333.2,193.9 L333.4,193.4 L333.4,193.1 Z M327.6,196.0 L326.9,196.0 L327.6,197.4 L327.9,197.1 L328.0,196.7 Z" fill="#9a5a30"/>
<circle cx="323.9" cy="190.0" r="0.5" fill="#6a3014"/>
<circle cx="337.0" cy="200.8" r="0.9" fill="#6a3014"/>
<circle cx="327.5" cy="201.1" r="0.6" fill="#6a3014"/>
<circle cx="338.9" cy="197.8" r="0.8" fill="#6a3014"/>
<circle cx="334.4" cy="184.8" r="0.7" fill="#6a3014"/>
<circle cx="328.1" cy="183.8" r="0.9" fill="#6a3014"/>
<circle cx="323.7" cy="199.4" r="0.9" fill="#6a3014"/>
<circle cx="324.0" cy="187.6" r="0.6" fill="#6a3014"/>
<circle cx="327.1" cy="199.0" r="0.8" fill="#6a3014"/>
<circle cx="336.8" cy="199.7" r="0.8" fill="#6a3014"/>
<circle cx="334.3" cy="184.3" r="0.8" fill="#6a3014"/>
<circle cx="340.7" cy="195.9" r="0.5" fill="#6a3014"/>
<circle cx="326.0" cy="197.1" r="0.4" fill="#6a3014"/>
<circle cx="327.3" cy="202.3" r="0.9" fill="#6a3014"/>
<circle cx="332.7" cy="184.3" r="0.5" fill="#6a3014"/>
<circle cx="341.8" cy="190.9" r="0.8" fill="#6a3014"/>
<circle cx="340.8" cy="194.7" r="0.8" fill="#6a3014"/>
<circle cx="335.9" cy="183.2" r="0.7" fill="#6a3014"/>
<circle cx="324.5" cy="197.5" r="0.8" fill="#6a3014"/>
<circle cx="329.6" cy="201.9" r="0.5" fill="#6a3014"/>
<circle cx="333.7" cy="186.1" r="0.7" fill="#6a3014"/>
<circle cx="339.9" cy="191.2" r="0.7" fill="#6a3014"/>
</g>
<g>
<path d="M358.6,222.5 L358.8,223.0 L358.5,223.5 L358.3,223.9 L359.1,224.8 L358.5,225.2 L358.5,225.8 L358.2,226.4 L357.7,226.7 L357.2,227.0 L357.0,227.9 L356.3,228.0 L355.5,227.6 L355.1,228.2 L354.4,227.0 L353.9,227.4 L353.5,226.7 L353.1,226.4 L352.3,227.5 L352.0,226.8 L351.5,226.6 L351.3,226.1 L350.7,226.0 L350.1,225.9 L350.0,225.3 L348.7,225.5 L348.6,224.9 L348.1,224.4 L348.9,223.6 L348.6,223.1 L347.4,222.5 L348.1,221.9 L348.3,221.3 L348.9,220.9 L348.2,220.0 L348.5,219.4 L349.5,219.3 L349.1,218.2 L349.8,218.0 L350.4,217.7 L351.6,218.5 L351.9,218.0 L352.2,217.2 L353.0,218.3 L353.4,217.6 L353.9,217.9 L354.4,217.8 L354.9,217.9 L355.3,218.2 L355.8,218.3 L357.0,217.2 L357.1,218.1 L357.1,218.9 L357.8,219.0 L358.8,219.0 L359.6,219.2 L359.5,220.0 L359.7,220.6 L359.4,221.3 L359.8,221.9 Z" fill="url(#colC)"/>
<path d="M355.4,218.4 L354.8,218.7 L354.7,219.1 L354.8,219.4 L355.4,219.8 L356.0,219.4 L356.1,219.1 L356.0,218.7 Z M357.8,218.9 L357.8,219.4 L358.4,219.5 L358.2,218.9 Z M352.6,218.4 L352.3,218.8 L352.2,219.2 L352.3,219.7 L352.6,220.0 L353.1,220.1 L353.5,220.0 L353.9,219.7 L354.0,219.2 L353.9,218.8 L353.5,218.4 L353.1,218.3 Z M349.3,219.6 L349.6,220.2 L350.0,220.3 L350.3,220.2 L350.6,219.6 L350.5,219.3 L350.0,219.0 L349.4,219.4 Z M350.5,221.0 L350.1,221.3 L350.0,221.8 L350.1,222.3 L350.5,222.7 L351.2,222.7 L351.5,223.1 L352.0,223.1 L352.3,222.7 L351.8,222.2 L351.8,221.3 L351.5,221.0 L351.0,220.8 Z M354.9,225.5 L354.6,225.8 L354.6,226.6 L354.9,226.8 L355.7,226.8 L355.9,226.6 L355.9,225.8 L355.7,225.5 Z" fill="#3a1408"/>
<path d="M356.2,223.0 L355.8,223.1 L355.9,223.5 L356.3,223.4 Z M356.4,225.8 L355.7,225.8 L355.4,226.1 L355.4,226.7 L355.7,227.0 L356.4,227.0 L356.6,226.7 L356.6,226.1 Z" fill="#9a5a30"/>
<circle cx="355.2" cy="217.5" r="0.6" fill="#6a3014"/>
<circle cx="360.5" cy="225.3" r="0.5" fill="#6a3014"/>
<circle cx="352.5" cy="216.9" r="0.7" fill="#6a3014"/>
<circle cx="351.9" cy="227.3" r="0.6" fill="#6a3014"/>
<circle cx="351.1" cy="229.5" r="0.5" fill="#6a3014"/>
<circle cx="347.3" cy="222.4" r="0.9" fill="#6a3014"/>
<circle cx="359.4" cy="226.4" r="0.7" fill="#6a3014"/>
<circle cx="353.2" cy="214.8" r="0.6" fill="#6a3014"/>
<circle cx="351.9" cy="216.3" r="0.7" fill="#6a3014"/>
<circle cx="360.6" cy="225.4" r="0.9" fill="#6a3014"/>
<circle cx="350.2" cy="227.2" r="0.9" fill="#6a3014"/>
<circle cx="358.1" cy="225.8" r="0.4" fill="#6a3014"/>
<circle cx="356.7" cy="215.9" r="0.6" fill="#6a3014"/>
<circle cx="350.2" cy="218.9" r="0.7" fill="#6a3014"/>
<circle cx="347.8" cy="224.8" r="0.6" fill="#6a3014"/>
<circle cx="349.2" cy="225.8" r="0.4" fill="#6a3014"/>
<circle cx="348.6" cy="224.8" r="0.8" fill="#6a3014"/>
<circle cx="356.8" cy="216.0" r="0.6" fill="#6a3014"/>
<circle cx="354.4" cy="228.6" r="0.6" fill="#6a3014"/>
<circle cx="348.7" cy="216.8" r="0.4" fill="#6a3014"/>
<circle cx="347.5" cy="223.3" r="0.8" fill="#6a3014"/>
<circle cx="359.5" cy="217.9" r="0.7" fill="#6a3014"/>
</g>
<g>
<path d="M330.7,254.0 L329.8,254.8 L330.6,255.7 L330.0,256.5 L330.3,257.5 L330.0,258.4 L329.2,259.0 L328.2,259.2 L328.3,260.5 L326.5,259.7 L326.3,260.8 L325.7,261.4 L325.0,261.9 L323.8,260.5 L323.3,262.4 L322.4,261.5 L321.5,262.5 L320.7,261.8 L320.1,261.2 L319.3,261.0 L318.6,260.6 L317.5,260.8 L317.7,259.2 L317.3,258.6 L317.2,257.8 L316.0,257.7 L314.6,257.5 L314.5,256.6 L314.7,255.6 L315.5,254.7 L314.7,254.0 L315.5,253.3 L314.6,252.3 L314.3,251.4 L314.9,250.6 L314.3,249.3 L315.4,248.9 L315.6,247.8 L317.4,248.5 L317.5,247.2 L318.5,247.2 L319.2,246.8 L319.8,246.0 L320.8,246.4 L321.7,247.0 L322.4,246.8 L323.2,246.3 L323.9,246.9 L325.0,246.1 L325.5,247.0 L325.6,248.5 L327.5,247.0 L326.7,249.2 L327.9,249.0 L328.1,249.9 L328.8,250.3 L328.3,251.4 L329.7,251.6 L329.5,252.5 L328.9,253.3 Z" fill="url(#colC)"/>
<path d="M321.6,247.0 L321.2,247.3 L321.1,247.8 L321.2,248.3 L321.6,248.7 L322.1,248.8 L322.6,248.7 L322.9,248.3 L323.1,247.8 L322.9,247.3 L322.6,247.0 L322.1,246.9 Z M318.3,248.6 L318.2,249.1 L318.3,249.6 L318.6,249.9 L319.1,250.1 L319.6,249.9 L320.0,249.6 L320.1,249.1 L320.0,248.6 L319.6,248.2 L319.1,248.1 L318.6,248.2 Z M319.2,250.7 L319.1,251.1 L318.7,251.2 L318.4,251.6 L318.2,252.1 L318.4,252.6 L318.7,252.9 L319.2,253.0 L319.7,252.9 L320.0,252.6 L320.2,252.1 L320.0,251.6 L320.4,251.0 L320.1,250.5 L319.8,250.4 Z M316.8,254.6 L316.9,255.2 L317.5,255.0 L317.4,254.4 Z M318.4,259.1 L318.4,259.4 L318.6,259.8 L318.8,259.9 L319.3,259.6 L319.3,259.4 L319.1,259.0 L318.8,258.9 Z M319.0,260.4 L319.8,261.1 L320.3,261.4 L320.4,260.9 L320.0,260.2 L319.6,260.1 Z M324.8,248.9 L324.8,249.6 L325.1,249.9 L325.9,250.0 L326.4,249.7 L326.4,249.1 L325.9,248.6 L325.1,248.6 Z M321.8,252.3 L321.4,253.0 L321.8,253.6 L322.5,253.6 L322.8,253.4 L322.9,253.0 L322.5,252.3 Z M326.3,255.8 L325.4,256.5 L324.9,256.3 L324.6,256.3 L324.4,256.5 L324.4,257.1 L324.9,257.4 L325.3,257.1 L325.5,257.3 L326.1,257.3 L326.7,257.5 L327.2,257.4 L327.5,257.1 L327.6,256.6 L327.5,256.2 L327.2,255.8 L326.7,255.7 Z M323.6,258.6 L323.5,259.1 L323.6,259.6 L324.0,259.9 L324.5,260.0 L325.0,259.9 L325.3,259.6 L325.4,259.1 L325.3,258.6 L325.0,258.2 L324.5,258.1 L324.0,258.2 Z" fill="#3a1408"/>
<path d="M322.2,246.4 L322.2,247.0 L322.4,247.3 L323.0,247.3 L323.2,247.0 L323.3,246.7 L322.4,246.3 Z M323.4,247.2 L322.9,247.6 L323.4,248.0 L323.8,247.6 Z M325.8,249.6 L325.5,249.9 L325.8,250.2 L326.1,249.9 Z M329.5,256.9 L329.2,257.2 L329.5,257.5 L329.8,257.2 Z" fill="#9a5a30"/>
<circle cx="312.0" cy="257.1" r="0.6" fill="#6a3014"/>
<circle cx="329.3" cy="261.9" r="0.8" fill="#6a3014"/>
<circle cx="314.9" cy="252.6" r="0.5" fill="#6a3014"/>
<circle cx="314.6" cy="259.5" r="0.5" fill="#6a3014"/>
<circle cx="325.9" cy="243.9" r="0.9" fill="#6a3014"/>
<circle cx="328.0" cy="249.0" r="0.7" fill="#6a3014"/>
<circle cx="332.0" cy="259.3" r="0.8" fill="#6a3014"/>
<circle cx="322.9" cy="245.9" r="0.4" fill="#6a3014"/>
<circle cx="326.3" cy="245.0" r="0.7" fill="#6a3014"/>
<circle cx="312.0" cy="255.9" r="0.6" fill="#6a3014"/>
<circle cx="321.3" cy="262.7" r="0.5" fill="#6a3014"/>
<circle cx="314.8" cy="246.2" r="0.4" fill="#6a3014"/>
<circle cx="331.0" cy="257.9" r="0.7" fill="#6a3014"/>
<circle cx="325.5" cy="261.9" r="0.4" fill="#6a3014"/>
<circle cx="331.5" cy="256.2" r="0.7" fill="#6a3014"/>
<circle cx="317.8" cy="247.4" r="0.5" fill="#6a3014"/>
<circle cx="331.0" cy="250.0" r="0.6" fill="#6a3014"/>
<circle cx="318.7" cy="244.5" r="0.7" fill="#6a3014"/>
<circle cx="331.8" cy="259.0" r="0.5" fill="#6a3014"/>
<circle cx="330.9" cy="256.2" r="0.7" fill="#6a3014"/>
<circle cx="316.8" cy="248.2" r="0.8" fill="#6a3014"/>
<circle cx="314.4" cy="254.3" r="0.8" fill="#6a3014"/>
</g>
</g></g>
<g clip-path="url(#clip2)"><g filter="url(#soft)">
<rect x="409.6" y="177.9" width="91.9" height="91.5" fill="#c3a99f"/>
<circle cx="447.1" cy="197.4" r="0.34" fill="#8a6068"/>
<circle cx="433.4" cy="246.4" r="0.36" fill="#8a6068"/>
<circle cx="445.3" cy="239.8" r="0.43" fill="#8a6068"/>
<circle cx="494.1" cy="222.7" r="0.41" fill="#8a6068"/>
<circle cx="465.5" cy="198.9" r="0.53" fill="#8a6068"/>
<circle cx="444.5" cy="213.9" r="0.47" fill="#8a6068"/>
<circle cx="425.0" cy="237.7" r="0.51" fill="#8a6068"/>
<circle cx="441.4" cy="262.8" r="0.43" fill="#8a6068"/>
<circle cx="479.7" cy="220.9" r="0.40" fill="#8a6068"/>
<circle cx="435.3" cy="180.6" r="0.35" fill="#8a6068"/>
<circle cx="498.6" cy="226.7" r="0.42" fill="#8a6068"/>
<circle cx="490.7" cy="232.9" r="0.54" fill="#8a6068"/>
<circle cx="443.0" cy="198.8" r="0.53" fill="#8a6068"/>
<circle cx="425.7" cy="249.2" r="0.45" fill="#8a6068"/>
<circle cx="498.0" cy="262.5" r="0.47" fill="#8a6068"/>
<circle cx="414.9" cy="181.9" r="0.42" fill="#8a6068"/>
<circle cx="483.6" cy="187.0" r="0.41" fill="#8a6068"/>
<circle cx="419.2" cy="207.0" r="0.30" fill="#8a6068"/>
<circle cx="440.6" cy="225.7" r="0.35" fill="#8a6068"/>
<circle cx="480.8" cy="184.7" r="0.35" fill="#8a6068"/>
<circle cx="434.2" cy="215.3" r="0.49" fill="#8a6068"/>
<circle cx="442.7" cy="240.7" r="0.53" fill="#8a6068"/>
<circle cx="423.1" cy="255.5" r="0.45" fill="#8a6068"/>
<circle cx="477.3" cy="233.1" r="0.40" fill="#8a6068"/>
<circle cx="420.1" cy="192.5" r="0.34" fill="#8a6068"/>
<circle cx="427.2" cy="192.6" r="0.35" fill="#8a6068"/>
<circle cx="460.9" cy="247.3" r="0.50" fill="#8a6068"/>
<circle cx="486.0" cy="190.2" r="0.51" fill="#8a6068"/>
<circle cx="427.9" cy="186.2" r="0.37" fill="#8a6068"/>
<circle cx="463.1" cy="184.1" r="0.35" fill="#8a6068"/>
<circle cx="446.7" cy="251.9" r="0.40" fill="#8a6068"/>
<circle cx="448.0" cy="212.4" r="0.32" fill="#8a6068"/>
<circle cx="488.9" cy="260.7" r="0.48" fill="#8a6068"/>
<circle cx="446.6" cy="218.7" r="0.38" fill="#8a6068"/>
<circle cx="469.1" cy="237.1" r="0.38" fill="#8a6068"/>
<circle cx="488.4" cy="243.0" r="0.35" fill="#8a6068"/>
<circle cx="482.7" cy="238.9" r="0.36" fill="#8a6068"/>
<circle cx="437.7" cy="245.7" r="0.32" fill="#8a6068"/>
<circle cx="450.1" cy="264.2" r="0.36" fill="#8a6068"/>
<circle cx="455.8" cy="259.3" r="0.52" fill="#8a6068"/>
<circle cx="480.9" cy="226.6" r="0.53" fill="#8a6068"/>
<circle cx="434.2" cy="257.0" r="0.40" fill="#8a6068"/>
<circle cx="469.5" cy="233.4" r="0.37" fill="#8a6068"/>
<circle cx="471.2" cy="232.8" r="0.55" fill="#8a6068"/>
<circle cx="470.2" cy="218.4" r="0.39" fill="#8a6068"/>
<circle cx="489.6" cy="210.1" r="0.47" fill="#8a6068"/>
<circle cx="472.6" cy="264.3" r="0.35" fill="#8a6068"/>
<circle cx="470.1" cy="194.9" r="0.46" fill="#8a6068"/>
<circle cx="469.4" cy="244.9" r="0.52" fill="#8a6068"/>
<circle cx="431.9" cy="255.2" r="0.39" fill="#8a6068"/>
<circle cx="446.8" cy="189.7" r="0.43" fill="#8a6068"/>
<circle cx="411.7" cy="207.1" r="0.47" fill="#8a6068"/>
<circle cx="477.3" cy="194.5" r="0.50" fill="#8a6068"/>
<circle cx="450.6" cy="197.9" r="0.49" fill="#8a6068"/>
<circle cx="476.6" cy="220.9" r="0.43" fill="#8a6068"/>
<circle cx="466.1" cy="235.2" r="0.49" fill="#8a6068"/>
<circle cx="479.2" cy="197.4" r="0.31" fill="#8a6068"/>
<circle cx="420.8" cy="206.8" r="0.45" fill="#8a6068"/>
<circle cx="496.1" cy="216.4" r="0.39" fill="#8a6068"/>
<circle cx="460.6" cy="262.9" r="0.45" fill="#8a6068"/>
<circle cx="437.5" cy="246.1" r="0.55" fill="#8a6068"/>
<circle cx="481.4" cy="214.8" r="0.34" fill="#8a6068"/>
<circle cx="452.1" cy="191.1" r="0.33" fill="#8a6068"/>
<circle cx="450.9" cy="254.3" r="0.48" fill="#8a6068"/>
<circle cx="448.4" cy="263.4" r="0.34" fill="#8a6068"/>
<circle cx="433.6" cy="203.8" r="0.44" fill="#8a6068"/>
<circle cx="489.8" cy="213.4" r="0.51" fill="#8a6068"/>
<circle cx="494.0" cy="221.8" r="0.52" fill="#8a6068"/>
<circle cx="489.8" cy="221.6" r="0.34" fill="#8a6068"/>
<circle cx="418.2" cy="200.9" r="0.41" fill="#8a6068"/>
<circle cx="454.2" cy="216.4" r="0.45" fill="#6a4048"/>
<circle cx="426.6" cy="237.3" r="0.47" fill="#6a4048"/>
<circle cx="417.8" cy="210.3" r="0.47" fill="#6a4048"/>
<circle cx="431.7" cy="220.0" r="0.48" fill="#6a4048"/>
<circle cx="444.1" cy="216.3" r="0.40" fill="#6a4048"/>
<circle cx="443.4" cy="241.6" r="0.35" fill="#6a4048"/>
<circle cx="417.1" cy="224.2" r="0.43" fill="#6a4048"/>
<circle cx="442.7" cy="207.5" r="0.35" fill="#6a4048"/>
<circle cx="437.6" cy="230.1" r="0.47" fill="#6a4048"/>
<circle cx="446.5" cy="234.4" r="0.51" fill="#6a4048"/>
<circle cx="423.1" cy="190.9" r="0.32" fill="#6a4048"/>
<circle cx="428.7" cy="191.9" r="0.55" fill="#6a4048"/>
<circle cx="444.0" cy="220.5" r="0.53" fill="#6a4048"/>
<circle cx="434.2" cy="207.3" r="0.56" fill="#6a4048"/>
<circle cx="435.4" cy="193.4" r="0.53" fill="#6a4048"/>
<circle cx="428.8" cy="205.6" r="0.32" fill="#6a4048"/>
<circle cx="427.7" cy="233.7" r="0.36" fill="#6a4048"/>
<circle cx="443.3" cy="222.0" r="0.45" fill="#6a4048"/>
<circle cx="465.3" cy="209.6" r="0.30" fill="#6a4048"/>
<circle cx="422.7" cy="231.9" r="0.33" fill="#6a4048"/>
<circle cx="443.3" cy="203.7" r="0.43" fill="#6a4048"/>
<circle cx="448.7" cy="183.6" r="0.32" fill="#6a4048"/>
<circle cx="453.4" cy="185.2" r="0.55" fill="#6a4048"/>
<circle cx="442.3" cy="199.7" r="0.39" fill="#6a4048"/>
<circle cx="455.4" cy="219.5" r="0.39" fill="#6a4048"/>
<circle cx="460.8" cy="247.2" r="0.56" fill="#6a4048"/>
<circle cx="444.9" cy="202.5" r="0.34" fill="#6a4048"/>
<circle cx="434.4" cy="217.7" r="0.41" fill="#6a4048"/>
<circle cx="429.0" cy="206.3" r="0.40" fill="#6a4048"/>
<circle cx="426.0" cy="241.6" r="0.31" fill="#6a4048"/>
<circle cx="448.6" cy="194.8" r="0.46" fill="#6a4048"/>
<circle cx="438.9" cy="212.1" r="0.56" fill="#6a4048"/>
<circle cx="436.1" cy="230.7" r="0.45" fill="#6a4048"/>
<circle cx="449.4" cy="208.3" r="0.46" fill="#6a4048"/>
<circle cx="451.0" cy="214.4" r="0.49" fill="#6a4048"/>
<circle cx="450.7" cy="232.7" r="0.43" fill="#6a4048"/>
<circle cx="436.5" cy="213.5" r="0.36" fill="#6a4048"/>
<circle cx="448.2" cy="209.1" r="0.39" fill="#6a4048"/>
<circle cx="452.2" cy="214.2" r="0.47" fill="#6a4048"/>
<circle cx="438.8" cy="215.5" r="0.49" fill="#6a4048"/>
<circle cx="402.4" cy="214.3" r="0.59" fill="#6a4048"/>
<circle cx="459.1" cy="224.6" r="0.40" fill="#6a4048"/>
<circle cx="464.1" cy="241.3" r="0.33" fill="#6a4048"/>
<circle cx="428.4" cy="214.9" r="0.47" fill="#6a4048"/>
<circle cx="448.1" cy="245.4" r="0.43" fill="#6a4048"/>
<circle cx="448.6" cy="242.4" r="0.34" fill="#6a4048"/>
<circle cx="439.1" cy="202.9" r="0.55" fill="#6a4048"/>
<circle cx="439.0" cy="238.2" r="0.50" fill="#6a4048"/>
<circle cx="407.7" cy="214.1" r="0.46" fill="#6a4048"/>
<circle cx="441.9" cy="234.4" r="0.51" fill="#6a4048"/>
<circle cx="422.8" cy="224.3" r="0.32" fill="#6a4048"/>
<circle cx="439.9" cy="242.3" r="0.40" fill="#6a4048"/>
<circle cx="450.6" cy="241.4" r="0.31" fill="#6a4048"/>
<circle cx="445.6" cy="216.4" r="0.36" fill="#6a4048"/>
<circle cx="452.7" cy="219.1" r="0.38" fill="#6a4048"/>
<circle cx="450.9" cy="209.3" r="0.47" fill="#6a4048"/>
<circle cx="432.8" cy="239.7" r="0.33" fill="#6a4048"/>
<circle cx="435.0" cy="222.3" r="0.39" fill="#6a4048"/>
<circle cx="438.9" cy="232.5" r="0.58" fill="#6a4048"/>
<circle cx="451.4" cy="217.0" r="0.48" fill="#6a4048"/>
<circle cx="479.9" cy="221.5" r="0.41" fill="#6a4048"/>
<circle cx="465.6" cy="249.1" r="0.46" fill="#6a4048"/>
<circle cx="472.6" cy="231.7" r="0.35" fill="#6a4048"/>
<circle cx="475.9" cy="256.9" r="0.53" fill="#6a4048"/>
<circle cx="472.6" cy="235.3" r="0.33" fill="#6a4048"/>
<circle cx="449.4" cy="244.6" r="0.59" fill="#6a4048"/>
<circle cx="460.5" cy="247.3" r="0.56" fill="#6a4048"/>
<circle cx="475.8" cy="200.6" r="0.38" fill="#6a4048"/>
<circle cx="465.1" cy="206.7" r="0.38" fill="#6a4048"/>
<circle cx="473.5" cy="271.9" r="0.37" fill="#6a4048"/>
<circle cx="468.6" cy="241.6" r="0.56" fill="#6a4048"/>
<circle cx="463.4" cy="226.8" r="0.43" fill="#6a4048"/>
<circle cx="469.2" cy="236.0" r="0.52" fill="#6a4048"/>
<circle cx="485.9" cy="242.4" r="0.52" fill="#6a4048"/>
<circle cx="466.5" cy="261.7" r="0.57" fill="#6a4048"/>
<circle cx="467.2" cy="218.8" r="0.58" fill="#6a4048"/>
<circle cx="448.9" cy="283.4" r="0.48" fill="#6a4048"/>
<circle cx="440.3" cy="228.0" r="0.33" fill="#6a4048"/>
<circle cx="465.7" cy="261.9" r="0.32" fill="#6a4048"/>
<circle cx="487.7" cy="227.0" r="0.45" fill="#6a4048"/>
<circle cx="478.7" cy="234.8" r="0.31" fill="#6a4048"/>
<circle cx="451.1" cy="226.2" r="0.56" fill="#6a4048"/>
<circle cx="483.7" cy="266.0" r="0.50" fill="#6a4048"/>
<circle cx="469.2" cy="233.5" r="0.54" fill="#6a4048"/>
<circle cx="476.7" cy="258.3" r="0.60" fill="#6a4048"/>
<circle cx="488.9" cy="236.4" r="0.58" fill="#6a4048"/>
<circle cx="465.0" cy="264.7" r="0.55" fill="#6a4048"/>
<circle cx="451.2" cy="181.7" r="0.51" fill="#6a4048"/>
<circle cx="496.3" cy="253.8" r="0.53" fill="#6a4048"/>
<circle cx="466.6" cy="239.7" r="0.38" fill="#6a4048"/>
<circle cx="460.0" cy="233.0" r="0.60" fill="#6a4048"/>
<circle cx="479.0" cy="245.7" r="0.34" fill="#6a4048"/>
<circle cx="471.7" cy="205.0" r="0.38" fill="#6a4048"/>
<circle cx="446.0" cy="256.2" r="0.48" fill="#6a4048"/>
<circle cx="483.0" cy="288.1" r="0.53" fill="#6a4048"/>
<circle cx="465.9" cy="251.3" r="0.45" fill="#6a4048"/>
<circle cx="460.2" cy="221.7" r="0.34" fill="#6a4048"/>
<circle cx="468.0" cy="242.4" r="0.45" fill="#6a4048"/>
<circle cx="455.6" cy="220.8" r="0.32" fill="#6a4048"/>
<circle cx="445.8" cy="225.4" r="0.47" fill="#6a4048"/>
<circle cx="457.3" cy="258.9" r="0.42" fill="#6a4048"/>
<circle cx="472.6" cy="232.8" r="0.33" fill="#6a4048"/>
<circle cx="465.5" cy="236.7" r="0.36" fill="#6a4048"/>
<circle cx="497.3" cy="223.7" r="0.39" fill="#6a4048"/>
<circle cx="491.5" cy="252.1" r="0.51" fill="#6a4048"/>
<circle cx="481.4" cy="253.0" r="0.49" fill="#6a4048"/>
<circle cx="478.6" cy="239.1" r="0.31" fill="#6a4048"/>
<circle cx="479.0" cy="223.5" r="0.40" fill="#6a4048"/>
<circle cx="494.3" cy="241.2" r="0.38" fill="#6a4048"/>
<circle cx="457.7" cy="231.1" r="0.40" fill="#6a4048"/>
<circle cx="485.7" cy="238.8" r="0.57" fill="#6a4048"/>
<circle cx="505.2" cy="222.6" r="0.56" fill="#6a4048"/>
<circle cx="480.4" cy="214.1" r="0.48" fill="#6a4048"/>
<circle cx="464.0" cy="195.1" r="0.48" fill="#6a4048"/>
<circle cx="447.8" cy="225.9" r="0.55" fill="#6a4048"/>
<circle cx="468.8" cy="234.3" r="0.48" fill="#6a4048"/>
<circle cx="467.3" cy="242.0" r="0.31" fill="#6a4048"/>
<circle cx="433.1" cy="226.6" r="0.47" fill="#6a4048"/>
<circle cx="477.0" cy="226.5" r="0.40" fill="#6a4048"/>
<circle cx="495.5" cy="228.2" r="0.52" fill="#6a4048"/>
<circle cx="425.9" cy="209.6" r="0.45" fill="#5e3038"/>
<circle cx="428.6" cy="205.7" r="0.40" fill="#5e3038"/>
<circle cx="431.5" cy="205.7" r="0.61" fill="#5e3038"/>
<circle cx="423.6" cy="202.0" r="0.54" fill="#5e3038"/>
<circle cx="430.9" cy="201.6" r="0.63" fill="#5e3038"/>
<circle cx="432.0" cy="202.7" r="0.37" fill="#5e3038"/>
<circle cx="423.6" cy="194.0" r="0.46" fill="#5e3038"/>
<circle cx="426.5" cy="206.2" r="0.39" fill="#5e3038"/>
<circle cx="425.9" cy="200.0" r="0.63" fill="#5e3038"/>
<circle cx="425.8" cy="204.5" r="0.55" fill="#5e3038"/>
<circle cx="430.2" cy="202.9" r="0.64" fill="#5e3038"/>
<circle cx="423.7" cy="196.7" r="0.63" fill="#5e3038"/>
<circle cx="422.5" cy="201.5" r="0.39" fill="#5e3038"/>
<circle cx="423.0" cy="206.2" r="0.43" fill="#5e3038"/>
<circle cx="423.7" cy="205.0" r="0.60" fill="#5e3038"/>
<circle cx="422.4" cy="211.1" r="0.42" fill="#5e3038"/>
<circle cx="424.7" cy="198.9" r="0.44" fill="#5e3038"/>
<circle cx="430.3" cy="189.9" r="0.39" fill="#5e3038"/>
<circle cx="428.4" cy="201.6" r="0.46" fill="#5e3038"/>
<circle cx="439.0" cy="200.1" r="0.63" fill="#5e3038"/>
<circle cx="423.3" cy="209.0" r="0.64" fill="#5e3038"/>
<circle cx="435.6" cy="206.5" r="0.57" fill="#5e3038"/>
<circle cx="432.3" cy="201.2" r="0.54" fill="#5e3038"/>
<circle cx="428.2" cy="197.9" r="0.57" fill="#5e3038"/>
<circle cx="428.1" cy="204.5" r="0.42" fill="#5e3038"/>
<circle cx="454.6" cy="221.8" r="0.61" fill="#5e3038"/>
<circle cx="464.2" cy="219.1" r="0.49" fill="#5e3038"/>
<circle cx="442.8" cy="233.9" r="0.57" fill="#5e3038"/>
<circle cx="445.2" cy="220.4" r="0.32" fill="#5e3038"/>
<circle cx="451.9" cy="223.9" r="0.44" fill="#5e3038"/>
<circle cx="435.7" cy="233.0" r="0.57" fill="#5e3038"/>
<circle cx="443.9" cy="230.3" r="0.61" fill="#5e3038"/>
<circle cx="444.8" cy="220.6" r="0.42" fill="#5e3038"/>
<circle cx="450.3" cy="213.2" r="0.37" fill="#5e3038"/>
<circle cx="434.6" cy="229.1" r="0.36" fill="#5e3038"/>
<circle cx="445.2" cy="238.9" r="0.44" fill="#5e3038"/>
<circle cx="423.7" cy="236.0" r="0.64" fill="#5e3038"/>
<circle cx="445.6" cy="222.7" r="0.36" fill="#5e3038"/>
<circle cx="458.7" cy="220.6" r="0.38" fill="#5e3038"/>
<circle cx="459.9" cy="212.8" r="0.55" fill="#5e3038"/>
<circle cx="456.0" cy="223.8" r="0.38" fill="#5e3038"/>
<circle cx="445.3" cy="231.1" r="0.44" fill="#5e3038"/>
<circle cx="451.8" cy="217.1" r="0.36" fill="#5e3038"/>
<circle cx="450.9" cy="230.5" r="0.40" fill="#5e3038"/>
<circle cx="452.0" cy="212.5" r="0.56" fill="#5e3038"/>
<circle cx="450.4" cy="232.5" r="0.54" fill="#5e3038"/>
<circle cx="453.8" cy="225.2" r="0.53" fill="#5e3038"/>
<circle cx="457.8" cy="240.1" r="0.37" fill="#5e3038"/>
<circle cx="455.2" cy="231.3" r="0.64" fill="#5e3038"/>
<circle cx="447.1" cy="212.2" r="0.41" fill="#5e3038"/>
<circle cx="446.3" cy="225.6" r="0.38" fill="#5e3038"/>
<circle cx="441.2" cy="218.0" r="0.65" fill="#5e3038"/>
<circle cx="449.1" cy="227.9" r="0.44" fill="#5e3038"/>
<circle cx="453.0" cy="220.4" r="0.36" fill="#5e3038"/>
<circle cx="445.0" cy="219.0" r="0.46" fill="#5e3038"/>
<circle cx="450.6" cy="245.3" r="0.45" fill="#5e3038"/>
<circle cx="424.4" cy="221.8" r="0.53" fill="#5e3038"/>
<circle cx="454.6" cy="222.2" r="0.61" fill="#5e3038"/>
<circle cx="439.3" cy="225.3" r="0.64" fill="#5e3038"/>
<circle cx="442.2" cy="219.3" r="0.50" fill="#5e3038"/>
<circle cx="443.9" cy="218.3" r="0.47" fill="#5e3038"/>
<circle cx="440.5" cy="224.5" r="0.54" fill="#5e3038"/>
<circle cx="434.2" cy="223.5" r="0.49" fill="#5e3038"/>
<circle cx="434.5" cy="212.9" r="0.47" fill="#5e3038"/>
<circle cx="463.5" cy="218.6" r="0.46" fill="#5e3038"/>
<circle cx="452.7" cy="229.4" r="0.43" fill="#5e3038"/>
<circle cx="451.3" cy="217.8" r="0.32" fill="#5e3038"/>
<circle cx="451.5" cy="239.0" r="0.34" fill="#5e3038"/>
<circle cx="453.2" cy="217.8" r="0.49" fill="#5e3038"/>
<circle cx="446.1" cy="205.5" r="0.34" fill="#5e3038"/>
<circle cx="440.9" cy="219.7" r="0.63" fill="#5e3038"/>
<circle cx="446.5" cy="216.2" r="0.42" fill="#5e3038"/>
<circle cx="466.8" cy="219.4" r="0.57" fill="#5e3038"/>
<circle cx="451.4" cy="224.1" r="0.51" fill="#5e3038"/>
<circle cx="448.4" cy="232.5" r="0.30" fill="#5e3038"/>
<circle cx="436.2" cy="224.9" r="0.59" fill="#5e3038"/>
<circle cx="435.2" cy="237.6" r="0.39" fill="#5e3038"/>
<circle cx="454.9" cy="223.6" r="0.36" fill="#5e3038"/>
<circle cx="460.8" cy="218.2" r="0.63" fill="#5e3038"/>
<circle cx="449.5" cy="239.5" r="0.62" fill="#5e3038"/>
<circle cx="442.4" cy="237.9" r="0.43" fill="#5e3038"/>
<circle cx="450.6" cy="234.4" r="0.42" fill="#5e3038"/>
<circle cx="441.7" cy="234.2" r="0.53" fill="#5e3038"/>
<circle cx="447.6" cy="222.8" r="0.49" fill="#5e3038"/>
<circle cx="449.0" cy="224.8" r="0.63" fill="#5e3038"/>
<circle cx="458.4" cy="218.6" r="0.62" fill="#5e3038"/>
<circle cx="438.5" cy="204.5" r="0.30" fill="#5e3038"/>
<circle cx="440.0" cy="228.4" r="0.42" fill="#5e3038"/>
<circle cx="444.7" cy="230.0" r="0.56" fill="#5e3038"/>
<circle cx="463.8" cy="216.6" r="0.44" fill="#5e3038"/>
<circle cx="440.7" cy="218.9" r="0.41" fill="#5e3038"/>
<circle cx="454.6" cy="217.0" r="0.33" fill="#5e3038"/>
<circle cx="430.7" cy="224.3" r="0.54" fill="#5e3038"/>
<circle cx="452.0" cy="228.0" r="0.41" fill="#5e3038"/>
<circle cx="446.8" cy="228.9" r="0.59" fill="#5e3038"/>
<circle cx="441.3" cy="221.1" r="0.63" fill="#3e1a24"/>
<circle cx="445.8" cy="222.3" r="0.60" fill="#3e1a24"/>
<circle cx="446.3" cy="224.4" r="0.78" fill="#3e1a24"/>
<circle cx="447.8" cy="227.2" r="0.71" fill="#3e1a24"/>
<circle cx="446.0" cy="222.2" r="0.48" fill="#3e1a24"/>
<circle cx="452.8" cy="224.1" r="0.66" fill="#3e1a24"/>
<circle cx="447.5" cy="223.4" r="0.61" fill="#3e1a24"/>
<circle cx="445.5" cy="224.8" r="0.56" fill="#3e1a24"/>
<circle cx="445.6" cy="225.3" r="0.50" fill="#3e1a24"/>
<circle cx="441.9" cy="220.0" r="0.53" fill="#3e1a24"/>
<circle cx="443.1" cy="219.7" r="0.59" fill="#3e1a24"/>
<circle cx="444.6" cy="223.5" r="0.73" fill="#3e1a24"/>
<circle cx="449.9" cy="222.0" r="0.55" fill="#3e1a24"/>
<circle cx="442.9" cy="223.9" r="0.58" fill="#3e1a24"/>
<circle cx="450.6" cy="221.4" r="0.65" fill="#3e1a24"/>
<circle cx="446.2" cy="226.7" r="0.68" fill="#3e1a24"/>
<circle cx="444.5" cy="217.6" r="0.89" fill="#3e1a24"/>
<circle cx="446.0" cy="220.9" r="0.70" fill="#3e1a24"/>
<circle cx="445.3" cy="221.1" r="0.90" fill="#3e1a24"/>
<circle cx="444.9" cy="227.4" r="0.46" fill="#3e1a24"/>
<circle cx="446.0" cy="222.8" r="0.49" fill="#3e1a24"/>
<circle cx="446.5" cy="223.1" r="0.78" fill="#3e1a24"/>
<circle cx="449.5" cy="220.5" r="0.82" fill="#3e1a24"/>
<circle cx="445.9" cy="221.1" r="0.62" fill="#3e1a24"/>
<circle cx="447.1" cy="223.1" r="0.54" fill="#3e1a24"/>
<circle cx="440.1" cy="223.9" r="0.61" fill="#3e1a24"/>
<circle cx="444.2" cy="219.2" r="0.59" fill="#3e1a24"/>
<circle cx="447.3" cy="223.1" r="0.54" fill="#3e1a24"/>
<circle cx="443.4" cy="222.4" r="0.74" fill="#3e1a24"/>
<circle cx="444.7" cy="221.8" r="0.84" fill="#3e1a24"/>
<circle cx="444.1" cy="223.5" r="0.47" fill="#3e1a24"/>
<circle cx="444.3" cy="222.8" r="0.79" fill="#3e1a24"/>
<circle cx="446.1" cy="224.1" r="0.64" fill="#3e1a24"/>
<circle cx="450.4" cy="225.2" r="0.84" fill="#3e1a24"/>
<circle cx="447.2" cy="223.5" r="0.82" fill="#3e1a24"/>
<circle cx="477.3" cy="221.8" r="0.54" fill="#5e3038"/>
<circle cx="463.9" cy="238.2" r="0.52" fill="#5e3038"/>
<circle cx="475.1" cy="208.1" r="0.48" fill="#5e3038"/>
<circle cx="487.2" cy="245.4" r="0.64" fill="#5e3038"/>
<circle cx="454.5" cy="228.4" r="0.56" fill="#5e3038"/>
<circle cx="476.1" cy="216.6" r="0.51" fill="#5e3038"/>
<circle cx="480.0" cy="236.7" r="0.60" fill="#5e3038"/>
<circle cx="472.4" cy="229.0" r="0.38" fill="#5e3038"/>
<circle cx="479.5" cy="230.0" r="0.50" fill="#5e3038"/>
<circle cx="476.5" cy="225.6" r="0.31" fill="#5e3038"/>
<circle cx="465.4" cy="242.9" r="0.61" fill="#5e3038"/>
<circle cx="473.0" cy="231.4" r="0.37" fill="#5e3038"/>
<circle cx="468.8" cy="233.1" r="0.35" fill="#5e3038"/>
<circle cx="485.3" cy="247.2" r="0.42" fill="#5e3038"/>
<circle cx="490.2" cy="214.4" r="0.42" fill="#5e3038"/>
<circle cx="473.0" cy="227.7" r="0.40" fill="#5e3038"/>
<circle cx="478.0" cy="244.6" r="0.34" fill="#5e3038"/>
<circle cx="481.1" cy="219.7" r="0.34" fill="#5e3038"/>
<circle cx="474.7" cy="240.7" r="0.63" fill="#5e3038"/>
<circle cx="481.3" cy="229.6" r="0.52" fill="#5e3038"/>
<circle cx="476.1" cy="222.0" r="0.40" fill="#5e3038"/>
<circle cx="476.9" cy="232.2" r="0.63" fill="#5e3038"/>
<circle cx="476.3" cy="220.3" r="0.40" fill="#5e3038"/>
<circle cx="484.0" cy="238.6" r="0.48" fill="#5e3038"/>
<circle cx="470.6" cy="230.8" r="0.43" fill="#5e3038"/>
<circle cx="477.2" cy="235.2" r="0.48" fill="#5e3038"/>
<circle cx="463.1" cy="235.0" r="0.45" fill="#5e3038"/>
<circle cx="464.4" cy="213.9" r="0.44" fill="#5e3038"/>
<circle cx="466.1" cy="227.7" r="0.47" fill="#5e3038"/>
<circle cx="480.0" cy="233.6" r="0.50" fill="#5e3038"/>
<circle cx="468.2" cy="228.7" r="0.42" fill="#5e3038"/>
<circle cx="487.4" cy="242.1" r="0.53" fill="#5e3038"/>
<circle cx="480.1" cy="237.3" r="0.39" fill="#5e3038"/>
<circle cx="473.4" cy="245.4" r="0.58" fill="#5e3038"/>
<circle cx="460.7" cy="226.7" r="0.41" fill="#5e3038"/>
<circle cx="465.5" cy="243.0" r="0.59" fill="#5e3038"/>
<circle cx="489.0" cy="225.7" r="0.36" fill="#5e3038"/>
<circle cx="472.6" cy="231.4" r="0.36" fill="#5e3038"/>
<circle cx="463.7" cy="238.6" r="0.37" fill="#5e3038"/>
<circle cx="468.8" cy="237.0" r="0.34" fill="#5e3038"/>
<circle cx="489.7" cy="222.1" r="0.57" fill="#5e3038"/>
<circle cx="487.0" cy="247.5" r="0.63" fill="#5e3038"/>
<circle cx="482.5" cy="236.5" r="0.40" fill="#5e3038"/>
<circle cx="479.8" cy="245.1" r="0.56" fill="#5e3038"/>
<circle cx="458.7" cy="223.0" r="0.51" fill="#5e3038"/>
<circle cx="474.9" cy="223.2" r="0.56" fill="#5e3038"/>
<circle cx="482.7" cy="241.8" r="0.39" fill="#5e3038"/>
<circle cx="469.5" cy="240.1" r="0.33" fill="#5e3038"/>
<circle cx="469.4" cy="232.9" r="0.48" fill="#5e3038"/>
<circle cx="466.0" cy="231.3" r="0.61" fill="#5e3038"/>
<circle cx="462.0" cy="230.7" r="0.63" fill="#5e3038"/>
<circle cx="458.3" cy="240.3" r="0.44" fill="#5e3038"/>
<circle cx="482.7" cy="234.3" r="0.39" fill="#5e3038"/>
<circle cx="472.5" cy="228.8" r="0.53" fill="#5e3038"/>
<circle cx="470.7" cy="246.2" r="0.62" fill="#5e3038"/>
<circle cx="468.0" cy="221.2" r="0.50" fill="#5e3038"/>
<circle cx="466.3" cy="228.7" r="0.56" fill="#5e3038"/>
<circle cx="467.8" cy="238.5" r="0.58" fill="#5e3038"/>
<circle cx="476.0" cy="232.1" r="0.41" fill="#5e3038"/>
<circle cx="472.7" cy="240.3" r="0.34" fill="#5e3038"/>
<circle cx="465.6" cy="235.3" r="0.52" fill="#5e3038"/>
<circle cx="463.1" cy="244.1" r="0.56" fill="#5e3038"/>
<circle cx="478.1" cy="232.6" r="0.59" fill="#5e3038"/>
<circle cx="487.2" cy="231.2" r="0.48" fill="#5e3038"/>
<circle cx="482.9" cy="228.9" r="0.59" fill="#5e3038"/>
<circle cx="457.9" cy="237.8" r="0.56" fill="#5e3038"/>
<circle cx="470.5" cy="234.4" r="0.40" fill="#5e3038"/>
<circle cx="470.3" cy="227.2" r="0.37" fill="#5e3038"/>
<circle cx="474.7" cy="244.3" r="0.50" fill="#5e3038"/>
<circle cx="475.7" cy="231.0" r="0.51" fill="#5e3038"/>
<circle cx="486.0" cy="239.6" r="0.38" fill="#5e3038"/>
<circle cx="473.7" cy="223.0" r="0.34" fill="#5e3038"/>
<circle cx="465.6" cy="233.5" r="0.55" fill="#5e3038"/>
<circle cx="504.2" cy="212.9" r="0.64" fill="#5e3038"/>
<circle cx="486.9" cy="237.7" r="0.44" fill="#5e3038"/>
<circle cx="478.9" cy="226.8" r="0.62" fill="#5e3038"/>
<circle cx="479.5" cy="237.5" r="0.39" fill="#5e3038"/>
<circle cx="466.1" cy="247.6" r="0.43" fill="#5e3038"/>
<circle cx="458.9" cy="225.9" r="0.33" fill="#5e3038"/>
<circle cx="462.5" cy="233.5" r="0.55" fill="#5e3038"/>
<circle cx="484.6" cy="236.5" r="0.53" fill="#5e3038"/>
<circle cx="477.0" cy="234.5" r="0.58" fill="#5e3038"/>
<circle cx="483.7" cy="241.9" r="0.42" fill="#5e3038"/>
<circle cx="459.2" cy="240.8" r="0.57" fill="#5e3038"/>
<circle cx="472.5" cy="215.5" r="0.60" fill="#5e3038"/>
<circle cx="476.4" cy="230.0" r="0.50" fill="#5e3038"/>
<circle cx="486.5" cy="251.0" r="0.57" fill="#5e3038"/>
<circle cx="480.4" cy="222.4" r="0.44" fill="#5e3038"/>
<circle cx="465.6" cy="253.3" r="0.61" fill="#5e3038"/>
<circle cx="478.3" cy="236.6" r="0.53" fill="#5e3038"/>
<circle cx="475.3" cy="236.6" r="0.73" fill="#3a1620"/>
<circle cx="474.9" cy="234.0" r="0.68" fill="#3a1620"/>
<circle cx="478.4" cy="231.8" r="0.52" fill="#3a1620"/>
<circle cx="480.4" cy="238.6" r="0.76" fill="#3a1620"/>
<circle cx="474.6" cy="236.3" r="0.85" fill="#3a1620"/>
<circle cx="474.4" cy="234.3" r="0.82" fill="#3a1620"/>
<circle cx="473.4" cy="231.9" r="0.53" fill="#3a1620"/>
<circle cx="474.0" cy="231.0" r="0.57" fill="#3a1620"/>
<circle cx="479.0" cy="233.5" r="0.73" fill="#3a1620"/>
<circle cx="474.8" cy="232.6" r="0.47" fill="#3a1620"/>
<circle cx="477.7" cy="231.8" r="0.65" fill="#3a1620"/>
<circle cx="476.7" cy="236.9" r="0.79" fill="#3a1620"/>
<circle cx="473.9" cy="235.4" r="0.54" fill="#3a1620"/>
<circle cx="474.2" cy="232.1" r="0.80" fill="#3a1620"/>
<circle cx="476.1" cy="233.4" r="0.72" fill="#3a1620"/>
<circle cx="474.9" cy="235.2" r="0.56" fill="#3a1620"/>
<circle cx="475.6" cy="234.6" r="0.51" fill="#3a1620"/>
<circle cx="478.2" cy="234.2" r="0.87" fill="#3a1620"/>
<circle cx="473.3" cy="237.8" r="0.53" fill="#3a1620"/>
<circle cx="474.5" cy="227.2" r="0.54" fill="#3a1620"/>
<circle cx="472.4" cy="231.4" r="0.45" fill="#3a1620"/>
<circle cx="478.7" cy="234.0" r="0.57" fill="#3a1620"/>
<circle cx="473.8" cy="235.8" r="0.80" fill="#3a1620"/>
<circle cx="476.1" cy="238.5" r="0.57" fill="#3a1620"/>
<circle cx="473.3" cy="228.8" r="0.50" fill="#3a1620"/>
<circle cx="476.1" cy="233.5" r="0.49" fill="#3a1620"/>
<circle cx="473.3" cy="231.3" r="0.86" fill="#3a1620"/>
<circle cx="475.1" cy="232.1" r="0.69" fill="#3a1620"/>
<circle cx="480.7" cy="232.5" r="0.77" fill="#3a1620"/>
<circle cx="476.0" cy="236.3" r="0.71" fill="#3a1620"/>
<circle cx="477.9" cy="235.4" r="0.65" fill="#3a1620"/>
<circle cx="472.7" cy="236.5" r="0.57" fill="#3a1620"/>
<circle cx="469.7" cy="233.9" r="0.72" fill="#3a1620"/>
<circle cx="471.8" cy="233.0" r="0.76" fill="#3a1620"/>
<circle cx="473.6" cy="232.7" r="0.71" fill="#3a1620"/>
<circle cx="478.4" cy="232.3" r="0.75" fill="#3a1620"/>
<circle cx="475.7" cy="236.6" r="0.59" fill="#3a1620"/>
<circle cx="475.4" cy="235.1" r="0.53" fill="#3a1620"/>
<circle cx="476.7" cy="234.0" r="0.88" fill="#3a1620"/>
<circle cx="475.2" cy="232.0" r="0.65" fill="#3a1620"/>
<circle cx="476.7" cy="232.4" r="0.53" fill="#3a1620"/>
<circle cx="478.4" cy="235.1" r="0.66" fill="#3a1620"/>
<circle cx="479.2" cy="234.6" r="0.71" fill="#3a1620"/>
<circle cx="474.6" cy="230.2" r="0.47" fill="#3a1620"/>
<circle cx="478.8" cy="234.6" r="0.55" fill="#3a1620"/>
</g></g>
<g clip-path="url(#clip3)"><g filter="url(#soft)">
<rect x="166.0" y="317.4" width="101.1" height="101.7" fill="#e0dfd9"/>
<path d="M169.9,394.0 L170.6,394.5 L171.8,395.1 L174.9,396.0 L175.8,396.0 L176.6,395.8 L177.9,394.7 L178.0,395.7 L178.3,396.5 L178.8,397.1 L179.4,397.7 L187.7,401.4 L191.6,404.6 L192.6,404.9 L193.7,404.9 L193.5,406.2 L194.4,417.8 L194.7,418.7 L195.2,419.4 L196.0,420.0 L196.8,420.4 L197.7,420.5 L202.1,420.5 L203.3,420.3 L211.2,415.5 L212.3,414.4 L212.9,415.2 L213.7,415.8 L222.3,420.1 L223.4,420.5 L229.0,420.5 L229.9,420.4 L231.3,419.6 L232.2,418.3 L233.0,419.1 L233.9,419.5 L238.7,420.5 L255.9,420.5 L256.7,420.3 L257.5,420.0 L258.6,418.8 L259.7,420.0 L261.1,420.5 L265.5,420.5 L266.3,420.3 L267.1,419.9 L268.1,418.8 L268.5,417.5 L268.5,407.7 L268.3,406.7 L267.8,405.8 L267.0,405.1 L266.0,404.6 L267.1,404.0 L267.7,403.4 L268.2,402.6 L268.5,401.6 L268.5,385.1 L268.4,384.2 L268.0,383.3 L267.3,382.6 L266.4,382.0 L267.2,381.6 L267.8,381.0 L268.2,380.3 L268.4,379.4 L268.5,370.4 L268.3,369.3 L267.9,368.4 L267.2,367.7 L266.1,367.1 L266.9,366.7 L267.7,366.1 L268.2,365.2 L268.5,364.4 L268.5,351.3 L268.3,350.2 L267.8,349.3 L265.5,347.3 L266.8,346.9 L267.8,346.0 L268.4,344.8 L268.5,343.5 L268.2,342.2 L267.4,341.1 L266.3,340.4 L265.0,340.2 L267.7,337.3 L268.4,335.8 L268.5,329.1 L268.3,328.2 L268.0,327.5 L260.4,318.5 L259.5,317.9 L258.4,317.5 L252.4,317.6 L251.2,318.1 L250.3,319.2 L249.2,318.1 L247.7,317.5 L233.9,317.5 L232.9,317.7 L232.1,318.1 L231.4,318.8 L231.0,319.6 L230.5,318.8 L229.9,318.2 L229.1,317.7 L228.3,317.5 L212.2,317.5 L211.1,317.8 L210.2,318.3 L209.5,319.3 L209.1,320.3 L207.6,318.3 L206.6,317.7 L205.6,317.5 L198.2,317.6 L197.0,318.1 L195.9,319.1 L194.8,318.0 L193.3,317.5 L178.5,317.5 L177.6,317.7 L176.7,318.1 L175.8,319.1 L175.3,320.1 L174.5,327.9 L175.5,340.0 L176.0,341.4 L177.1,342.4 L176.5,342.9 L176.0,343.6 L175.5,345.1 L175.5,360.8 L174.9,361.8 L174.6,362.9 L174.7,363.9 L175.1,364.9 L173.8,364.5 L172.7,364.5 L171.7,364.8 L170.9,365.4 L167.0,371.1 L166.7,371.8 L166.5,372.6 L166.5,385.0 L169.1,392.7 Z M193.0,343.3 L194.2,342.6 L195.0,341.4 L195.4,341.9 L194.3,342.6 L193.4,343.8 Z M262.3,345.9 L261.5,346.1 L261.6,344.6 L261.1,343.2 L261.6,343.1 L261.6,344.6 Z M195.2,366.0 L195.2,366.0 L195.2,366.0 Z M205.2,367.0 L205.2,367.0 L205.2,367.0 Z M241.7,359.7 L241.7,359.6 L241.8,359.7 Z M254.0,360.8 L254.0,360.7 L254.0,360.9 Z M206.1,393.4 L205.6,393.9 L205.5,393.0 L205.9,393.2 Z M215.1,400.5 L215.1,400.3 L215.3,400.4 L215.3,400.4 Z M233.2,403.7 L233.3,403.7 L233.3,403.8 Z M253.2,403.3 L253.1,403.2 L253.1,403.1 Z M257.9,408.4 L258.0,408.4 L258.0,408.5 Z" fill="#f6f5fa"/>
<path d="M177.3,339.7 L177.7,340.6 L178.6,341.1 L191.8,341.7 L192.4,341.6 L193.0,341.2 L193.4,340.2 L194.6,321.0 L194.5,320.2 L194.0,319.6 L193.0,319.3 L178.6,319.3 L178.0,319.4 L177.4,319.9 L177.0,320.7 L176.3,328.0 Z" fill="#cbcaea" stroke="#9c9ad2" stroke-width="0.6"/>
<path d="M177.7,337.1 L181.8,339.4 L184.7,339.4 L187.3,337.9 L191.1,335.3 L191.5,333.0 L193.4,331.4 L194.0,321.0 L193.9,320.5 L193.6,320.1 L193.0,319.9 L181.4,319.9 L181.2,320.2 L179.1,320.8 L177.8,322.4 L177.4,322.8 L177.2,325.4 L177.5,326.1 L177.2,327.7 L177.3,329.3 L177.1,329.8 Z" fill="#aa90dc"/>
<path d="M183.4,320.5 L182.2,321.9 L180.6,322.4 L178.6,324.8 L179.3,326.4 L179.1,327.7 L179.2,329.0 L178.2,330.8 L178.9,334.7 L182.7,336.8 L185.0,336.8 L187.1,335.7 L190.0,333.6 L190.4,331.8 L193.1,329.4 L193.5,322.3 L192.9,321.1 L191.9,320.3 L183.8,320.3 Z" fill="#8a4ad0"/>
<path d="M191.0,320.8 L191.2,321.2 L190.9,321.5 L190.7,322.2 L191.0,322.9 L190.7,323.2 L190.5,323.8 L190.7,324.3 L191.0,324.7 L191.6,324.8 L192.1,324.7 L192.5,324.3 L192.6,323.8 L192.5,323.4 L193.2,322.8 L193.3,322.2 L192.9,321.1 L191.9,320.3 L191.2,320.3 Z M187.3,321.7 L187.0,322.0 L187.0,322.8 L187.3,323.1 L188.1,323.1 L188.4,322.8 L188.4,322.0 L188.1,321.7 Z M181.3,328.0 L180.7,328.6 L180.5,329.3 L180.7,330.0 L181.3,330.5 L182.0,330.7 L182.7,330.5 L183.2,330.0 L183.4,329.3 L183.2,328.6 L182.7,328.0 L182.0,327.9 Z M186.9,331.1 L186.3,331.7 L186.1,332.6 L186.3,333.4 L186.9,334.0 L187.8,334.2 L188.6,334.0 L189.2,333.4 L189.4,332.6 L189.2,331.7 L188.6,331.1 L187.8,330.9 Z M180.2,332.7 L179.8,333.0 L179.7,333.5 L179.8,334.0 L180.2,334.3 L180.6,334.4 L181.1,334.3 L181.5,334.0 L181.6,333.5 L181.5,333.0 L181.1,332.7 L180.6,332.5 Z M181.1,334.6 L180.8,335.4 L180.9,335.8 L182.7,336.8 L183.9,336.8 L184.1,335.4 L183.9,334.6 L183.3,334.0 L182.5,333.8 L181.7,334.0 Z" fill="#6a2ec0"/>
<path d="M180.2,322.9 L180.4,323.2 L181.0,323.2 L181.4,322.7 L181.3,322.4 L181.1,322.2 L180.6,322.4 Z M188.6,322.2 L187.9,322.4 L187.3,323.0 L187.1,323.7 L187.3,324.4 L187.9,325.0 L188.4,325.1 L187.9,325.5 L187.7,325.9 L188.2,326.6 L188.6,326.7 L189.0,326.6 L189.5,325.9 L189.3,325.5 L188.8,325.1 L189.3,325.0 L189.9,324.4 L190.1,323.7 L189.9,323.0 L189.3,322.4 Z M191.9,324.3 L191.5,324.5 L191.1,324.8 L191.0,325.2 L191.1,325.7 L191.5,326.0 L191.9,326.1 L192.4,326.0 L192.7,325.7 L192.8,325.2 L192.7,324.8 L192.4,324.5 Z M182.5,329.8 L182.3,330.3 L182.3,330.6 L182.5,330.8 L183.1,330.8 L183.4,330.3 L183.3,330.0 L183.1,329.8 Z" fill="#a468de"/>
<path d="M207.3,341.6 L208.2,341.3 L208.9,340.5 L212.9,330.1 L213.0,329.4 L212.9,328.8 L206.7,320.0 L206.3,319.6 L205.4,319.3 L198.8,319.3 L198.2,319.4 L197.6,319.9 L197.2,320.8 L196.1,339.3 L196.2,340.1 L196.7,340.7 L197.5,341.0 Z" fill="#cbcaea" stroke="#9c9ad2" stroke-width="0.6"/>
<path d="M203.5,320.8 L201.7,321.5 L200.3,323.0 L199.7,325.3 L197.6,325.4 L196.7,339.7 L197.0,340.2 L197.5,340.4 L207.6,340.9 L208.1,340.7 L208.4,340.3 L212.3,329.9 L212.4,329.3 L206.1,320.2 L205.6,319.9 L204.6,319.9 Z" fill="#aa90dc"/>
<path d="M197.5,338.1 L198.9,339.4 L201.0,339.2 L202.3,340.0 L203.8,339.8 L205.2,339.9 L206.2,340.5 L207.5,340.5 L208.0,340.2 L212.0,329.4 L207.6,323.0 L206.8,323.0 L205.4,321.7 L203.8,323.1 L202.3,323.7 L201.2,324.8 L200.7,326.7 L198.8,326.8 L197.8,327.4 L197.2,337.7 Z" fill="#8a4ad0"/>
<path d="M197.8,329.4 L198.6,329.6 L199.3,329.4 L199.8,328.8 L200.0,328.1 L199.8,327.4 L199.3,326.8 L198.8,326.8 L197.8,327.4 Z M210.5,327.2 L210.1,327.8 L209.6,327.3 L208.9,327.1 L208.2,327.3 L207.6,327.9 L207.4,328.6 L207.6,329.3 L208.2,329.8 L208.6,329.9 L208.2,330.7 L208.3,331.3 L208.8,331.7 L209.3,331.9 L209.9,331.7 L210.3,331.3 L210.5,330.7 L210.3,330.2 L209.7,329.7 L210.1,329.3 L210.2,328.9 L210.6,329.2 L211.2,329.4 L211.9,329.1 Z M203.9,334.2 L203.5,335.0 L203.6,335.4 L204.2,335.8 L204.1,336.3 L204.2,336.8 L204.5,337.1 L205.0,337.2 L205.4,337.1 L205.8,336.8 L205.9,336.3 L205.8,335.9 L205.1,335.4 L205.2,335.0 L205.1,334.5 L204.8,334.2 Z M199.2,334.4 L198.5,335.0 L198.3,335.9 L198.5,336.9 L199.2,337.5 L200.1,337.8 L201.0,337.5 L201.7,336.9 L201.9,335.9 L201.7,335.0 L201.0,334.4 L200.1,334.1 Z M206.8,335.9 L206.5,336.7 L206.8,337.6 L207.4,338.2 L208.3,338.5 L208.7,338.4 L209.7,335.7 L209.2,335.2 L208.3,335.0 L207.4,335.2 Z" fill="#6a2ec0"/>
<path d="M203.2,325.0 L202.7,325.2 L202.2,325.6 L202.1,326.2 L202.2,326.7 L202.7,327.1 L203.2,327.3 L203.8,327.1 L204.2,326.7 L204.3,326.2 L204.2,325.6 L203.8,325.2 Z M205.3,326.7 L204.5,327.1 L204.4,327.6 L204.8,328.3 L205.3,328.4 L206.0,328.0 L206.1,327.6 L205.7,326.8 Z M210.3,326.8 L209.6,327.4 L209.4,328.1 L209.6,328.8 L210.1,329.3 L210.8,329.5 L211.5,329.3 L211.8,329.0 Z M209.0,329.4 L208.6,329.8 L208.5,330.3 L208.6,330.8 L209.0,331.1 L209.4,331.2 L209.9,331.1 L210.3,330.8 L210.4,330.3 L210.3,329.8 L209.9,329.4 L209.4,329.3 Z M198.7,333.4 L198.1,333.9 L197.9,334.7 L198.1,335.4 L198.7,336.0 L199.4,336.2 L200.2,336.0 L200.7,335.4 L200.9,334.7 L200.7,333.9 L200.2,333.4 L199.4,333.2 Z" fill="#a468de"/>
<path d="M225.5,328.1 L226.3,327.9 L227.0,327.3 L229.3,321.5 L229.4,320.9 L229.3,320.3 L228.6,319.5 L227.8,319.3 L212.5,319.3 L211.7,319.5 L211.1,320.2 L210.9,320.9 L211.1,321.7 L214.9,327.1 L215.4,327.6 L216.2,327.8 Z" fill="#cbcaea" stroke="#9c9ad2" stroke-width="0.6"/>
<path d="M213.1,321.0 L213.0,322.0 L214.1,322.8 L214.2,323.8 L215.3,324.6 L219.6,326.1 L221.3,325.9 L223.1,326.1 L226.5,325.2 L226.7,323.8 L227.8,323.0 L227.5,321.9 L228.4,321.0 L228.6,320.2 L227.8,319.9 L212.3,319.9 Z" fill="#aa90dc"/>
<path d="M214.8,321.0 L214.8,321.7 L215.6,322.3 L215.7,323.0 L216.6,323.5 L219.8,324.6 L221.1,324.5 L222.5,324.6 L225.1,324.0 L225.2,323.0 L226.1,322.4 L225.8,321.7 L226.5,321.0 L226.7,320.3 L214.3,320.3 Z" fill="#8a4ad0"/>
<path d="M223.0,321.4 L223.9,322.3 L224.7,322.5 L225.5,322.3 L225.9,321.9 L225.8,321.7 L226.2,321.3 L226.3,320.9 L226.2,320.3 L222.9,320.3 L222.8,320.8 Z M219.6,320.5 L219.2,320.9 L218.9,320.6 L218.0,320.4 L217.3,320.5 L217.1,320.3 L215.2,320.3 L214.7,320.8 L214.8,321.0 L214.8,321.7 L215.6,322.3 L215.7,323.0 L216.6,323.5 L219.8,324.6 L220.2,324.6 L220.4,323.9 L220.7,323.8 L221.3,323.2 L221.5,322.4 L221.5,321.6 L221.3,320.9 L220.9,320.5 L220.3,320.3 Z" fill="#6a2ec0"/>
<path d="M221.6,320.3 L220.5,320.3 L220.1,320.8 L219.9,321.4 L220.1,322.0 L220.5,322.4 L221.1,322.6 L221.7,322.4 L222.1,322.0 L222.3,321.4 L222.1,320.8 Z M222.9,321.9 L222.3,322.0 L221.8,322.5 L221.6,323.2 L221.8,323.8 L222.3,324.3 L222.9,324.5 L223.6,324.3 L224.0,323.8 L224.2,323.2 L224.0,322.5 L223.6,322.0 Z M218.1,322.9 L218.1,323.8 L218.4,324.1 L219.2,324.1 L219.8,324.6 L221.2,324.5 L221.4,324.2 L221.6,323.6 L221.4,323.0 L220.9,322.6 L220.3,322.4 L219.7,322.6 L219.5,322.8 L218.8,322.5 Z" fill="#a468de"/>
<path d="M245.7,336.5 L246.2,336.1 L246.5,335.4 L248.9,321.2 L248.9,320.6 L248.6,320.0 L248.1,319.5 L247.3,319.3 L234.1,319.3 L233.2,319.6 L232.6,320.3 L229.2,328.7 L229.1,329.3 L229.2,330.1 L233.5,338.4 L234.2,339.0 L238.3,340.4 L239.1,340.4 L239.6,340.2 Z" fill="#cbcaea" stroke="#9c9ad2" stroke-width="0.6"/>
<path d="M231.3,332.8 L232.8,333.7 L234.1,334.8 L237.4,336.6 L241.8,337.4 L243.6,337.1 L245.5,335.9 L245.8,335.5 L247.5,326.0 L246.5,325.2 L244.9,324.2 L244.2,322.7 L243.0,321.3 L241.2,320.8 L240.2,319.9 L233.7,320.0 L233.2,320.5 L229.7,329.2 L229.8,329.8 Z" fill="#aa90dc"/>
<path d="M231.8,330.8 L235.1,333.3 L237.6,334.7 L241.0,335.3 L242.9,335.0 L244.6,334.2 L245.8,333.3 L246.7,328.1 L246.0,326.9 L244.7,325.9 L243.5,325.1 L242.9,324.0 L242.0,322.9 L240.6,322.5 L239.2,321.4 L237.5,320.9 L235.6,320.8 L233.1,321.8 L230.1,329.1 L230.1,329.5 L230.4,330.2 Z" fill="#8a4ad0"/>
<path d="M242.6,324.5 L242.0,325.1 L241.8,325.8 L242.0,326.6 L242.6,327.1 L243.3,327.3 L244.1,327.1 L244.6,326.6 L244.8,326.0 L243.5,325.1 L243.1,324.4 Z M238.2,327.6 L237.8,328.0 L237.7,328.5 L237.8,329.0 L238.2,329.3 L238.7,329.5 L239.2,329.3 L239.5,329.0 L239.7,328.5 L239.5,328.0 L239.2,327.6 L238.7,327.5 Z M239.1,329.4 L238.6,329.8 L238.5,330.5 L238.6,331.1 L239.1,331.5 L239.0,331.8 L238.5,331.4 L237.8,331.1 L237.0,331.4 L236.5,331.9 L236.3,332.7 L236.5,333.4 L237.0,334.0 L237.8,334.2 L238.5,334.0 L239.1,333.4 L239.2,332.9 L239.7,333.3 L240.4,333.6 L241.3,333.3 L241.7,333.9 L242.7,333.9 L242.8,335.0 L244.6,334.2 L245.6,333.4 L245.4,332.7 L244.9,332.1 L244.1,331.9 L243.3,332.1 L243.0,331.9 L243.2,331.2 L243.0,330.4 L242.4,329.9 L241.6,329.6 L240.8,329.8 L240.4,329.4 L239.7,329.2 Z" fill="#6a2ec0"/>
<path d="M235.3,322.7 L234.7,323.0 L234.6,323.4 L234.7,323.8 L235.3,324.2 L236.0,323.8 L236.1,323.4 L236.0,323.0 Z M232.7,326.0 L232.1,326.2 L231.7,326.6 L231.5,327.2 L231.7,327.8 L232.1,328.2 L232.7,328.4 L233.3,328.2 L233.8,327.8 L233.9,327.2 L233.8,326.6 L233.3,326.2 Z M231.0,326.9 L230.4,328.3 L231.2,328.3 L231.4,328.0 L231.4,327.3 Z M235.8,328.7 L235.4,329.1 L235.3,329.7 L235.4,330.2 L235.8,330.7 L236.4,330.8 L237.0,330.7 L237.4,330.2 L237.5,329.7 L237.4,329.1 L237.0,328.7 L236.4,328.6 Z M233.1,329.7 L232.7,330.2 L232.5,330.8 L232.7,331.3 L233.1,331.8 L233.7,331.9 L234.3,331.8 L234.7,331.3 L234.9,330.8 L234.7,330.2 L234.3,329.7 L233.7,329.6 Z" fill="#a468de"/>
<path d="M260.0,341.3 L260.9,341.4 L261.7,341.0 L266.5,335.9 L266.7,335.1 L266.6,328.9 L266.3,328.3 L258.9,319.6 L258.0,319.3 L252.7,319.4 L252.0,319.8 L251.6,320.6 L249.2,335.0 L249.2,335.8 L249.6,336.3 L250.1,336.7 Z" fill="#cbcaea" stroke="#9c9ad2" stroke-width="0.6"/>
<path d="M250.2,332.7 L251.2,335.3 L251.4,336.6 L260.2,340.7 L260.9,340.8 L261.4,340.5 L266.0,335.5 L266.1,329.0 L264.6,327.2 L264.3,327.2 L263.2,325.7 L261.3,325.9 L258.2,324.9 L256.6,325.5 L254.3,324.7 L251.9,325.0 L251.4,325.6 Z" fill="#aa90dc"/>
<path d="M261.0,340.3 L265.7,335.3 L265.7,329.6 L264.9,328.9 L263.1,328.6 L262.2,327.4 L260.8,327.6 L258.4,326.8 L257.1,327.3 L255.4,326.6 L253.5,326.9 L252.4,328.3 L251.6,329.9 L251.6,331.8 L252.5,333.5 L253.2,336.3 L253.9,337.3 L260.1,340.3 Z" fill="#8a4ad0"/>
<path d="M259.1,327.1 L258.8,327.9 L259.0,328.6 L259.5,329.2 L260.2,329.3 L260.9,329.2 L261.5,328.6 L261.6,327.9 L261.5,327.5 L260.8,327.6 Z M260.2,330.9 L259.8,331.2 L259.7,331.7 L259.8,332.2 L260.2,332.5 L260.6,332.7 L261.1,332.5 L261.5,332.2 L261.6,331.7 L261.5,331.2 L261.1,330.9 L260.6,330.7 Z M255.0,331.5 L254.7,331.8 L254.6,332.3 L254.7,332.7 L255.3,333.1 L254.8,333.7 L254.6,334.4 L254.4,333.7 L253.8,333.1 L253.1,332.9 L252.3,333.1 L253.1,335.9 L253.8,335.7 L254.4,335.1 L254.5,334.6 L254.8,335.5 L255.4,336.2 L256.4,336.5 L257.3,336.2 L258.0,335.5 L258.2,334.6 L258.4,335.3 L259.1,336.0 L260.0,336.2 L260.9,336.0 L261.6,335.3 L261.8,334.4 L261.6,333.4 L260.9,332.8 L260.0,332.5 L259.1,332.8 L258.4,333.4 L258.1,334.3 L258.0,333.7 L257.3,333.0 L256.3,332.8 L256.4,332.3 L256.3,331.8 L256.0,331.5 L255.5,331.3 Z M262.3,330.9 L261.7,331.5 L261.4,332.4 L261.7,333.2 L262.3,333.8 L263.1,334.1 L264.0,333.8 L264.6,333.2 L264.8,332.4 L264.6,331.5 L264.0,330.9 L263.1,330.7 Z M264.2,334.4 L264.1,335.0 L264.2,335.6 L265.0,336.1 L265.7,335.3 L265.7,333.9 L265.2,333.8 L264.7,334.0 Z" fill="#6a2ec0"/>
<path d="M258.5,329.5 L258.0,329.7 L257.6,330.1 L257.5,330.6 L257.6,331.1 L258.0,331.4 L258.5,331.6 L259.0,331.4 L259.4,331.1 L259.5,330.6 L259.4,330.1 L259.0,329.7 Z M256.9,331.8 L256.5,331.9 L256.1,332.6 L256.2,332.9 L256.9,333.3 L257.3,333.2 L257.7,332.6 L257.6,332.2 Z M265.7,332.6 L265.0,332.6 L264.6,333.0 L264.5,333.4 L264.7,334.1 L264.1,334.1 L263.8,334.4 L263.7,334.8 L264.1,335.5 L264.9,335.5 L265.3,334.8 L265.1,334.3 L265.7,334.3 Z M253.6,333.9 L252.7,334.2 L253.2,336.3 L253.6,336.7 L254.3,336.5 L254.8,336.0 L255.0,335.3 L254.8,334.6 L254.3,334.0 Z" fill="#a468de"/>
<path d="M227.1,331.6 L226.5,330.9 L225.7,330.7 L216.5,330.4 L215.8,330.7 L215.3,331.2 L211.3,341.7 L211.2,342.4 L211.6,343.4 L216.5,348.2 L217.4,348.4 L218.1,348.2 L229.9,340.2 L230.3,339.8 L230.5,339.1 L230.4,338.3 Z" fill="#cbcaea" stroke="#9c9ad2" stroke-width="0.6"/>
<path d="M229.1,340.0 L229.8,338.3 L226.6,331.9 L226.2,331.5 L225.7,331.3 L216.6,331.0 L216.1,331.2 L215.8,331.6 L212.4,340.3 L214.9,342.1 L216.5,342.9 L217.8,344.3 L219.7,344.3 L221.4,345.3 Z" fill="#aa90dc"/>
<path d="M226.4,341.3 L228.3,336.2 L226.1,331.9 L225.7,331.7 L216.7,331.4 L216.2,331.7 L213.5,338.6 L213.7,338.9 L216.2,340.7 L217.4,341.3 L218.4,342.4 L219.9,342.4 L221.4,343.3 L222.9,343.8 Z" fill="#8a4ad0"/>
<path d="M224.5,333.5 L224.1,333.9 L223.9,334.5 L224.1,335.0 L224.5,335.4 L225.0,335.6 L225.6,335.4 L226.0,335.0 L226.1,334.5 L226.0,333.9 L225.6,333.5 L225.0,333.4 Z M217.2,336.8 L216.7,337.3 L216.5,338.9 L216.4,338.5 L215.9,338.0 L215.3,337.8 L214.6,338.0 L214.2,338.5 L214.0,339.1 L215.6,340.3 L216.4,339.8 L216.6,339.2 L216.8,339.8 L216.3,340.2 L216.2,340.7 L217.4,341.3 L218.4,342.4 L218.8,342.4 L220.1,341.4 L220.3,340.6 L220.1,339.9 L219.5,339.4 L219.1,339.3 L219.2,338.0 L219.0,337.3 L218.5,336.8 L217.9,336.7 Z M226.6,337.4 L225.9,337.8 L225.9,338.6 L226.6,339.0 L227.0,338.9 L227.3,338.6 L227.3,337.8 Z M222.2,337.5 L221.6,338.1 L221.4,338.9 L221.6,339.7 L222.2,340.3 L223.0,340.5 L223.8,340.3 L224.4,339.7 L224.6,338.9 L224.4,338.1 L223.8,337.5 L223.0,337.3 Z" fill="#6a2ec0"/>
<path d="M224.4,332.3 L224.6,332.9 L225.3,333.5 L225.3,334.3 L225.7,334.6 L226.5,334.6 L226.8,334.3 L226.9,333.9 L226.6,333.3 L226.7,333.1 L226.1,331.9 L224.5,331.7 Z M227.0,335.3 L226.5,335.4 L226.2,335.7 L226.0,336.2 L226.2,336.7 L226.5,337.0 L227.0,337.1 L227.4,337.0 L227.8,336.7 L227.9,336.2 L227.8,335.7 L227.4,335.4 Z M224.4,335.8 L224.0,336.2 L223.9,336.7 L224.0,337.3 L224.4,337.7 L225.0,337.8 L225.5,337.7 L226.0,337.3 L226.1,336.7 L226.0,336.2 L225.5,335.8 L225.0,335.6 Z M223.4,338.4 L223.1,338.7 L222.9,339.2 L223.1,339.8 L223.4,340.1 L224.0,340.3 L224.5,340.1 L224.8,339.8 L225.0,339.2 L224.8,338.7 L224.5,338.4 L224.0,338.2 Z" fill="#a468de"/>
<path d="M192.9,366.3 L193.4,365.7 L193.5,364.9 L192.3,345.8 L192.1,345.0 L191.5,344.5 L190.8,344.3 L179.0,343.7 L178.0,344.0 L177.6,344.4 L177.3,345.2 L177.3,361.0 L177.2,361.6 L176.5,362.8 L176.4,363.4 L176.7,363.9 L177.1,364.4 L177.6,364.6 L190.3,367.7 L191.2,367.5 Z" fill="#cbcaea" stroke="#9c9ad2" stroke-width="0.6"/>
<path d="M186.3,365.4 L187.8,364.5 L188.6,362.2 L190.1,362.0 L190.5,360.0 L192.2,359.2 L192.1,357.2 L192.4,356.8 L191.9,348.6 L191.2,347.3 L187.9,346.1 L186.3,346.0 L184.8,347.0 L183.4,347.3 L181.1,349.2 L179.5,349.8 L178.1,351.2 L177.9,351.6 L177.9,357.5 L179.2,359.0 L179.5,361.0 L180.7,362.2 L181.3,364.7 L181.7,365.0 L185.4,365.9 Z" fill="#aa90dc"/>
<path d="M190.6,350.5 L189.8,349.1 L187.3,348.1 L186.1,348.1 L185.0,348.9 L183.9,349.1 L182.2,350.6 L181.0,351.1 L179.9,352.1 L179.2,353.6 L179.0,355.4 L179.7,357.0 L180.7,358.2 L180.9,359.8 L181.9,360.7 L182.3,362.6 L183.5,363.5 L184.8,363.8 L186.1,363.2 L187.2,362.5 L187.8,360.7 L189.0,360.5 L189.3,359.0 L190.6,358.4 L190.5,356.8 L191.5,355.4 L191.7,352.3 L191.7,351.7 Z" fill="#8a4ad0"/>
<path d="M185.9,348.5 L186.1,349.3 L187.0,350.3 L187.1,350.8 L187.5,351.2 L188.1,351.3 L188.6,351.2 L189.0,350.8 L189.1,350.0 L189.4,349.7 L189.6,349.0 L187.3,348.1 L186.1,348.1 Z M184.9,352.5 L184.5,352.8 L184.4,353.3 L184.5,353.8 L184.9,354.1 L185.3,354.3 L185.8,354.1 L186.2,353.8 L186.3,353.3 L186.2,352.8 L185.8,352.5 L185.3,352.3 Z M187.3,353.9 L186.9,354.3 L186.7,354.9 L186.9,355.5 L187.3,355.9 L187.8,356.0 L188.4,355.9 L188.8,355.5 L189.0,354.9 L188.8,354.3 L188.4,353.9 L187.8,353.8 Z M180.1,354.4 L179.6,354.9 L179.4,355.6 L179.6,356.3 L180.1,356.8 L180.6,356.9 L180.1,357.5 L180.7,358.2 L180.9,359.8 L181.9,360.7 L182.3,362.5 L182.8,362.4 L183.4,361.8 L183.6,361.0 L183.4,360.1 L182.9,359.7 L183.4,359.2 L183.6,358.2 L183.4,357.3 L182.7,356.6 L181.9,356.4 L182.2,355.6 L182.0,354.9 L181.5,354.4 L180.8,354.2 Z M185.7,360.4 L185.7,361.3 L186.0,361.6 L186.5,361.7 L187.2,361.3 L187.2,360.4 L186.9,360.1 L186.5,360.0 Z" fill="#6a2ec0"/>
<path d="M186.9,348.1 L186.4,348.5 L186.3,348.8 L186.4,349.1 L186.9,349.5 L187.5,349.1 L187.6,348.8 L187.5,348.5 Z M183.5,349.8 L184.1,349.8 L184.4,349.6 L184.4,349.0 L183.9,349.1 L183.3,349.6 Z M186.8,353.9 L186.2,354.2 L186.1,354.6 L186.2,355.0 L186.8,355.3 L187.4,355.0 L187.5,354.6 L187.4,354.2 Z M180.3,354.1 L180.0,354.5 L180.0,355.3 L180.3,355.6 L181.2,355.6 L181.5,355.3 L181.5,354.5 L181.2,354.1 Z M185.6,358.5 L185.1,359.1 L184.9,359.8 L185.1,360.5 L185.6,361.0 L186.3,361.2 L187.0,361.0 L187.5,360.5 L187.7,359.8 L187.5,359.1 L187.0,358.5 L186.3,358.3 Z" fill="#a468de"/>
<path d="M196.6,343.6 L196.0,343.7 L195.4,344.0 L195.0,344.5 L194.9,345.1 L196.1,364.2 L196.6,364.9 L197.4,365.2 L203.6,365.5 L204.2,365.4 L204.7,365.1 L215.5,355.8 L215.9,354.9 L215.7,351.3 L215.3,350.7 L209.2,344.7 L208.7,344.3 Z" fill="#cbcaea" stroke="#9c9ad2" stroke-width="0.6"/>
<path d="M213.6,355.4 L215.2,352.4 L215.1,351.4 L208.6,344.9 L200.2,344.4 L198.7,345.2 L197.0,346.5 L195.6,347.0 L196.5,360.9 L197.3,361.5 L200.4,361.6 L203.1,362.4 L205.8,361.8 L207.9,361.6 L213.8,356.6 Z" fill="#aa90dc"/>
<path d="M197.1,358.3 L198.8,359.4 L201.3,359.5 L203.4,360.1 L205.6,359.6 L207.7,359.5 L209.7,358.8 L211.1,357.7 L212.0,356.3 L211.7,354.7 L212.9,352.5 L214.4,351.2 L209.6,346.5 L207.8,345.4 L206.6,345.1 L203.2,344.9 L199.9,346.9 L198.6,347.9 L196.7,348.5 L196.6,350.0 L196.3,351.5 L196.7,357.5 Z" fill="#8a4ad0"/>
<path d="M201.7,346.6 L202.3,347.1 L203.1,347.3 L203.8,347.1 L204.4,346.6 L204.6,345.8 L204.4,345.0 L203.2,344.9 L201.6,346.0 Z M207.0,345.2 L206.6,346.2 L206.8,346.9 L206.2,347.0 L205.5,347.7 L205.3,348.6 L205.5,349.4 L206.2,350.1 L207.5,350.3 L208.2,350.1 L208.7,349.6 L208.9,349.0 L209.6,349.2 L210.4,349.0 L211.0,348.4 L211.1,348.0 L209.6,346.5 L207.8,345.4 Z M197.6,348.2 L197.7,349.1 L198.1,349.5 L198.7,349.7 L199.3,349.5 L199.8,349.1 L199.9,348.5 L199.8,347.9 L199.2,347.4 L198.6,347.9 Z M206.2,350.8 L205.6,351.4 L205.3,352.4 L205.6,353.3 L206.2,353.9 L207.2,354.2 L208.1,353.9 L208.7,353.3 L209.0,352.4 L208.7,351.4 L208.1,350.8 L207.2,350.5 Z M197.9,353.8 L197.7,354.5 L197.9,355.2 L198.3,355.7 L199.0,355.9 L199.7,355.7 L199.5,356.3 L199.7,357.0 L200.2,357.5 L200.9,357.7 L201.6,357.5 L202.1,357.0 L202.3,356.3 L202.1,355.6 L201.6,355.1 L200.9,354.9 L200.2,355.1 L200.4,354.5 L200.2,353.8 L199.7,353.3 L199.0,353.2 L198.3,353.3 Z" fill="#6a2ec0"/>
<path d="M199.6,348.0 L200.3,348.2 L201.1,348.0 L201.6,347.4 L201.8,346.7 L201.6,345.9 L199.1,347.5 Z M205.0,348.5 L204.3,348.7 L203.8,349.2 L203.7,349.8 L203.8,350.5 L204.3,351.0 L205.0,351.2 L205.6,351.0 L206.1,350.5 L206.3,349.8 L206.1,349.2 L205.6,348.7 Z M197.1,355.4 L196.5,355.4 L196.6,356.5 L196.8,356.5 L197.1,356.5 L197.4,355.9 Z M208.0,356.8 L207.7,357.0 L207.7,357.7 L208.0,358.0 L208.7,358.0 L208.9,357.7 L208.9,357.0 L208.7,356.8 Z M198.4,358.3 L197.9,358.9 L198.8,359.4 L200.2,359.5 L200.1,358.8 L199.6,358.3 L199.0,358.2 Z" fill="#a468de"/>
<path d="M227.0,361.7 L227.5,361.9 L228.3,361.9 L239.3,359.3 L239.8,359.1 L240.3,358.6 L240.5,357.5 L238.2,343.9 L237.9,343.2 L237.4,342.8 L233.5,341.5 L232.5,341.6 L219.1,350.8 L218.5,351.4 L218.4,352.0 L218.5,354.7 L218.8,355.6 Z" fill="#cbcaea" stroke="#9c9ad2" stroke-width="0.6"/>
<path d="M227.4,361.2 L228.2,361.3 L239.1,358.8 L239.8,358.3 L239.9,357.6 L237.6,344.1 L237.1,343.3 L233.5,342.1 L232.7,342.1 L219.4,351.2 L219.1,351.6 L219.0,352.1 L219.1,354.7 L219.3,355.3 Z" fill="#aa90dc"/>
<path d="M234.5,359.4 L238.6,358.1 L239.3,356.3 L237.5,345.9 L235.9,344.4 L234.4,343.3 L232.7,342.6 L219.6,351.6 L219.4,354.0 L221.2,356.2 L223.3,357.7 L224.9,358.0 L226.3,359.1 L229.1,360.7 Z" fill="#8a4ad0"/>
<path d="M231.3,348.1 L230.9,348.5 L230.8,349.0 L230.9,349.5 L231.3,349.9 L231.8,350.1 L232.3,349.9 L232.7,349.5 L232.9,349.0 L232.7,348.5 L232.3,348.1 L231.8,347.9 Z M226.0,348.0 L225.3,348.7 L225.1,349.6 L225.3,350.5 L226.0,351.1 L227.1,351.3 L227.5,351.8 L227.9,351.9 L228.4,351.8 L228.7,351.5 L228.8,351.0 L228.4,350.3 L228.6,349.6 L228.4,348.7 L227.7,348.0 L226.9,347.8 Z M230.4,351.6 L229.8,352.2 L229.6,353.0 L229.8,353.8 L230.4,354.4 L231.2,354.6 L232.0,354.4 L232.6,353.8 L232.8,353.0 L232.6,352.2 L232.0,351.6 L231.2,351.4 Z M225.4,352.7 L225.0,353.1 L224.8,353.7 L225.0,354.3 L225.4,354.7 L226.0,354.9 L226.6,354.7 L227.1,354.3 L227.2,353.7 L227.1,353.1 L226.6,352.7 L226.0,352.5 Z M235.1,352.9 L234.5,353.5 L234.2,354.3 L234.5,355.2 L235.1,355.8 L235.9,356.0 L236.8,355.8 L237.4,355.2 L237.6,354.3 L237.4,353.5 L236.8,352.9 L235.9,352.6 Z M229.0,355.6 L228.3,356.0 L228.3,356.7 L227.3,356.8 L226.8,357.3 L226.6,358.0 L226.8,358.7 L227.5,359.4 L228.0,360.0 L228.7,360.2 L229.5,360.0 L230.0,359.4 L230.2,358.7 L230.0,358.0 L229.0,357.1 L229.7,356.8 L229.7,356.0 Z" fill="#6a2ec0"/>
<path d="M233.9,344.8 L233.2,345.2 L233.1,345.5 L233.2,345.9 L233.9,346.3 L234.5,345.9 L234.6,345.5 L234.5,345.2 Z M232.7,346.6 L232.1,346.8 L231.6,347.3 L231.5,347.9 L231.6,348.5 L232.1,348.9 L232.7,349.1 L233.3,348.9 L233.7,348.5 L233.9,347.9 L233.7,347.3 L233.3,346.8 Z M237.8,347.8 L237.0,348.0 L236.5,348.5 L236.3,349.3 L236.5,350.0 L237.0,350.5 L237.8,350.7 L238.3,350.6 Z M225.2,350.3 L224.8,351.1 L224.9,351.5 L225.2,351.8 L226.0,351.8 L226.4,351.1 L226.3,350.6 L226.0,350.3 Z M232.6,353.9 L232.2,354.3 L232.1,354.8 L232.2,355.3 L232.6,355.7 L233.1,355.8 L233.6,355.7 L233.9,355.3 L234.1,354.8 L233.9,354.3 L233.6,353.9 L233.1,353.8 Z" fill="#a468de"/>
<path d="M251.7,360.0 L252.4,359.7 L252.8,359.2 L259.7,345.8 L259.8,344.7 L259.5,344.2 L258.9,343.7 L248.4,338.8 L247.5,338.6 L246.9,338.8 L241.5,342.1 L241.1,342.5 L240.8,343.1 L240.8,343.7 L243.3,358.6 L243.8,359.5 L246.1,361.0 L246.7,361.0 Z" fill="#cbcaea" stroke="#9c9ad2" stroke-width="0.6"/>
<path d="M242.9,352.5 L245.2,354.6 L246.1,356.8 L247.6,358.6 L249.6,358.2 L251.5,359.3 L252.2,359.1 L259.1,345.6 L259.2,345.1 L259.1,344.6 L258.7,344.2 L248.1,339.3 L247.7,339.2 L247.2,339.4 L241.9,342.6 L241.4,343.2 Z" fill="#aa90dc"/>
<path d="M242.8,349.9 L246.4,353.0 L247.1,354.8 L248.3,356.2 L249.8,355.9 L251.3,356.7 L252.8,356.3 L253.8,355.2 L258.1,346.6 L256.5,343.7 L248.0,339.7 L247.6,339.6 L245.0,341.2 L243.7,342.6 L242.4,344.3 L242.1,345.7 Z" fill="#8a4ad0"/>
<path d="M247.9,339.7 L247.6,340.1 L247.4,340.6 L247.6,341.2 L247.9,341.6 L248.5,341.7 L249.0,341.6 L249.4,341.2 L249.5,340.4 Z M248.2,344.1 L247.8,344.8 L247.9,345.3 L248.7,345.7 L249.1,345.6 L249.5,344.8 L249.4,344.4 L248.7,344.0 Z M250.0,344.8 L249.7,345.1 L249.5,345.6 L249.7,346.0 L250.0,346.4 L250.7,346.4 L250.6,347.0 L250.8,347.9 L251.5,348.6 L252.5,348.8 L253.4,348.6 L254.1,347.9 L254.2,347.4 L255.0,347.4 L255.3,347.0 L255.3,346.2 L255.0,345.9 L254.6,345.8 L254.1,346.0 L253.4,345.3 L252.5,345.1 L251.3,345.5 L250.9,344.8 L250.4,344.7 Z M244.4,347.2 L243.9,347.7 L243.8,348.3 L243.9,348.9 L244.4,349.4 L245.0,349.5 L244.4,350.2 L244.2,351.0 L246.2,352.9 L246.9,352.7 L247.6,352.0 L247.8,351.1 L247.6,350.2 L246.9,349.5 L246.0,349.3 L245.6,349.3 L246.1,348.9 L246.2,348.3 L246.1,347.7 L245.6,347.2 L245.0,347.1 Z M253.0,351.4 L252.9,351.9 L253.0,352.4 L253.4,352.7 L253.9,352.9 L254.3,352.7 L254.7,352.4 L254.8,351.9 L254.7,351.4 L254.3,351.0 L253.9,350.9 L253.4,351.0 Z M249.2,355.2 L249.2,356.0 L249.8,355.9 L250.5,356.3 L250.7,356.0 L250.9,355.6 L250.4,354.9 L249.6,354.9 Z" fill="#6a2ec0"/>
<path d="M249.9,340.6 L249.8,341.1 L250.2,341.8 L251.1,341.8 L251.4,341.5 L251.4,341.3 Z M243.9,347.4 L243.1,347.6 L242.6,348.3 L242.8,349.8 L243.2,350.1 L243.9,350.3 L244.6,350.1 L245.1,349.6 L245.3,348.9 L245.1,348.1 L244.6,347.6 Z M249.9,348.5 L249.5,348.6 L249.1,348.9 L249.0,349.4 L249.1,349.8 L249.5,350.2 L249.9,350.3 L250.4,350.2 L250.7,349.8 L250.8,349.4 L250.7,348.9 L250.4,348.6 Z M251.4,350.8 L250.9,351.3 L250.7,352.0 L250.9,352.7 L251.4,353.3 L252.1,353.4 L252.9,353.3 L253.4,352.7 L253.6,352.0 L253.4,351.3 L252.9,350.8 L252.1,350.6 Z M251.3,353.6 L251.0,353.9 L251.0,354.6 L251.3,354.9 L252.1,354.9 L252.4,354.6 L252.4,353.9 L252.1,353.6 Z" fill="#a468de"/>
<path d="M255.8,359.1 L255.7,359.7 L255.7,360.3 L256.4,361.1 L264.5,365.3 L265.4,365.4 L266.1,365.1 L266.6,364.5 L266.7,363.8 L266.7,351.3 L266.3,350.2 L263.3,347.9 L262.4,347.7 L261.6,348.1 L261.2,348.6 Z" fill="#cbcaea" stroke="#9c9ad2" stroke-width="0.6"/>
<path d="M264.3,364.5 L265.3,362.9 L265.9,361.0 L266.1,360.9 L266.1,351.2 L265.7,350.5 L263.1,348.5 L262.5,348.3 L262.0,348.5 L261.7,348.9 L256.4,359.3 L256.3,359.9 L256.4,360.4 L256.8,360.7 Z" fill="#aa90dc"/>
<path d="M263.0,363.5 L264.5,361.2 L265.0,359.7 L265.7,359.5 L265.7,351.2 L265.4,350.8 L262.9,348.8 L262.5,348.7 L262.1,349.1 L256.7,359.9 L257.0,360.3 Z" fill="#8a4ad0"/>
<path d="M258.6,356.8 L259.5,357.0 L259.6,357.8 L260.0,358.2 L260.5,358.3 L261.1,358.2 L261.5,357.8 L261.6,357.2 L261.5,356.7 L260.9,356.3 L261.1,355.3 L261.0,354.8 L261.9,354.2 L262.1,353.4 L261.9,352.5 L261.3,351.9 L260.7,351.8 L258.3,356.5 Z M262.9,356.1 L262.4,356.6 L262.2,357.2 L262.4,357.7 L262.1,359.1 L262.3,359.6 L262.8,360.0 L262.5,360.7 L261.7,360.4 L260.9,360.6 L260.4,361.2 L260.2,361.9 L262.5,363.2 L263.0,362.7 L263.2,361.8 L263.6,361.9 L264.2,361.8 L264.7,360.6 L264.5,360.1 L264.9,360.0 L265.0,359.7 L265.4,359.6 L265.7,359.1 L265.6,357.5 L264.2,356.1 L263.5,355.9 Z M256.8,359.8 L257.2,359.9 L258.0,359.5 L258.1,359.1 L257.6,358.3 L257.4,358.2 L256.7,359.6 Z" fill="#6a2ec0"/>
<path d="M262.2,351.2 L261.7,351.3 L261.3,351.7 L261.2,352.1 L261.3,352.6 L261.7,353.0 L262.2,353.1 L262.7,353.0 L263.0,352.6 L263.2,352.1 L263.0,351.7 L262.7,351.3 Z M260.0,353.1 L259.5,354.0 L259.9,354.2 L260.2,354.1 L260.5,353.6 L260.4,353.3 Z M264.0,353.7 L263.7,353.8 L263.3,354.4 L263.4,354.7 L264.0,355.1 L264.3,355.0 L264.7,354.4 L264.6,354.0 Z M258.6,358.0 L258.3,358.3 L258.3,359.1 L258.6,359.4 L259.4,359.4 L259.8,359.1 L259.8,358.3 L259.4,358.0 Z M257.0,358.9 L256.7,359.6 L256.7,360.0 L257.9,360.8 L258.3,360.0 L258.2,359.4 L257.8,359.0 Z" fill="#a468de"/>
<path d="M170.7,392.1 L171.3,392.8 L172.6,393.5 L174.9,394.2 L176.0,394.0 L188.9,382.1 L189.3,381.1 L189.7,371.5 L189.6,370.8 L189.2,370.3 L188.5,369.9 L173.6,366.3 L172.6,366.4 L172.0,366.9 L168.6,372.0 L168.3,372.7 L168.3,384.7 Z" fill="#cbcaea" stroke="#9c9ad2" stroke-width="0.6"/>
<path d="M187.2,382.8 L187.3,380.4 L187.6,378.4 L187.3,374.6 L186.5,373.0 L184.1,370.4 L184.0,369.4 L173.5,366.9 L173.0,366.9 L172.5,367.2 L169.6,371.6 L169.9,376.5 L171.0,378.1 L171.1,379.8 L171.8,381.5 L172.0,383.8 L172.9,386.4 L174.9,387.9 L177.3,388.9 L179.8,388.0 L181.8,387.9 Z" fill="#aa90dc"/>
<path d="M173.9,368.4 L172.4,369.6 L171.3,371.2 L171.8,376.5 L172.7,377.8 L172.8,379.1 L173.3,380.4 L173.5,382.2 L174.1,384.2 L175.7,385.4 L177.6,386.2 L179.5,385.5 L181.5,385.4 L183.2,384.4 L185.3,381.4 L185.7,378.0 L185.4,375.1 L184.8,373.8 L182.9,371.8 L182.7,369.6 L175.2,367.8 Z" fill="#8a4ad0"/>
<path d="M175.5,368.7 L175.7,369.7 L176.4,370.3 L177.4,370.6 L178.4,370.3 L179.0,371.1 L179.9,371.4 L180.7,371.1 L181.4,370.5 L181.6,369.7 L181.5,369.3 L175.7,367.9 Z M176.7,374.5 L176.1,375.1 L175.9,375.9 L176.1,376.7 L176.7,377.3 L177.6,377.5 L178.4,377.3 L179.0,376.7 L179.2,375.9 L179.0,375.1 L178.4,374.5 L177.6,374.3 Z M180.6,374.4 L179.9,375.1 L179.7,376.0 L179.9,376.9 L180.6,377.6 L181.5,377.8 L182.4,377.6 L183.1,376.9 L182.9,377.6 L183.1,378.5 L183.8,379.2 L184.8,379.5 L185.5,379.3 L185.7,378.0 L185.4,375.9 L184.8,375.7 L183.8,376.0 L183.2,376.6 L183.3,376.0 L183.1,375.1 L182.4,374.4 L181.5,374.2 Z M172.7,376.6 L172.1,376.8 L172.7,377.8 L172.7,378.5 L173.2,378.4 L173.6,378.0 L173.7,377.5 L173.6,377.1 L173.2,376.7 Z M178.9,381.6 L178.3,382.2 L178.2,382.8 L177.6,383.0 L177.2,383.4 L177.0,384.0 L176.5,383.5 L175.9,383.3 L175.2,383.5 L174.8,384.0 L174.6,384.6 L175.7,385.4 L176.5,385.8 L177.0,385.3 L177.2,384.7 L177.6,385.1 L178.2,385.3 L178.9,385.1 L179.4,384.5 L179.7,384.6 L180.5,384.4 L181.1,383.8 L181.3,383.0 L181.1,382.2 L180.5,381.6 L179.7,381.4 Z" fill="#6a2ec0"/>
<path d="M174.0,368.4 L172.5,369.6 L172.7,370.2 L173.2,370.7 L173.8,370.8 L174.4,370.7 L174.9,370.2 L175.0,369.6 L174.9,369.0 L174.4,368.5 Z M174.4,372.1 L173.8,372.5 L173.7,372.9 L173.8,373.2 L174.4,373.6 L174.0,374.2 L174.1,374.6 L174.8,375.0 L175.2,374.9 L175.6,374.2 L175.5,373.9 L174.9,373.5 L175.2,372.9 L175.1,372.5 Z M178.8,373.2 L178.3,373.7 L178.1,374.3 L178.3,375.0 L178.8,375.5 L179.4,375.6 L180.0,375.5 L180.5,375.0 L180.7,374.3 L180.5,373.7 L180.0,373.2 L179.4,373.1 Z M183.0,378.3 L182.7,378.7 L182.6,379.2 L182.7,379.6 L183.0,380.0 L183.5,380.1 L184.0,380.0 L184.3,379.6 L184.5,379.2 L184.3,378.7 L184.0,378.3 L183.5,378.2 Z" fill="#a468de"/>
<path d="M191.9,380.7 L192.1,381.5 L192.7,382.1 L206.9,391.7 L207.5,392.0 L209.1,391.9 L209.9,391.4 L214.0,384.1 L214.2,383.5 L213.9,382.4 L204.5,368.8 L204.0,368.3 L203.4,368.1 L195.6,367.8 L194.9,368.1 L192.8,369.6 L192.4,370.7 Z" fill="#cbcaea" stroke="#9c9ad2" stroke-width="0.6"/>
<path d="M208.6,389.8 L210.6,388.1 L211.4,386.1 L212.3,384.8 L213.4,384.0 L213.6,383.1 L205.5,371.4 L202.4,372.8 L200.2,374.4 L198.0,375.1 L196.2,376.1 L194.8,377.3 L193.7,378.5 L193.1,379.8 L192.6,380.3 L192.6,381.0 L193.0,381.6 L206.2,390.6 Z" fill="#aa90dc"/>
<path d="M205.3,388.5 L207.7,387.8 L209.3,386.5 L209.9,385.0 L210.6,383.9 L212.7,382.4 L206.6,373.6 L205.3,373.7 L202.7,374.8 L200.9,376.0 L199.2,376.6 L197.7,377.3 L196.6,378.2 L195.8,379.2 L195.3,380.2 L194.1,381.2 L195.1,382.3 L195.1,382.6 L203.6,388.3 Z" fill="#8a4ad0"/>
<path d="M200.9,377.6 L200.6,378.2 L199.9,378.0 L199.3,378.2 L198.8,378.7 L198.6,379.3 L198.8,380.0 L199.3,380.5 L199.9,380.6 L200.6,380.5 L201.1,380.0 L201.2,379.1 L201.8,379.1 L202.1,378.8 L202.1,377.9 L201.4,377.5 Z M208.1,377.1 L207.5,377.8 L207.2,377.7 L206.2,377.9 L205.6,378.6 L205.3,379.6 L205.6,380.5 L205.8,380.8 L205.6,381.4 L205.8,381.9 L206.3,382.4 L205.8,382.9 L205.6,383.6 L205.8,384.3 L206.3,384.8 L207.0,385.0 L207.7,384.8 L208.2,384.3 L208.4,383.6 L208.2,382.9 L207.4,382.3 L207.7,381.9 L207.8,381.3 L208.1,381.2 L208.8,380.4 L209.7,380.3 L210.2,379.7 L210.4,379.1 L208.9,376.9 Z M203.1,381.5 L202.8,381.8 L202.6,382.3 L202.8,382.8 L203.1,383.2 L203.6,383.3 L204.1,383.2 L204.5,382.8 L204.6,382.3 L204.5,381.8 L204.1,381.5 L203.6,381.3 Z M208.7,382.0 L208.5,382.9 L208.7,383.7 L209.3,384.3 L210.2,384.6 L210.6,383.9 L211.8,383.1 L211.6,382.0 L211.0,381.4 L210.1,381.2 L209.3,381.4 Z" fill="#6a2ec0"/>
<path d="M207.4,376.7 L206.7,376.9 L206.1,377.5 L205.9,378.2 L206.1,378.9 L206.7,379.4 L207.4,379.6 L208.1,379.4 L208.6,378.9 L208.8,378.2 L208.6,377.5 L208.1,376.9 Z M200.7,381.0 L200.1,381.1 L199.6,381.6 L199.4,382.2 L199.6,382.9 L200.1,383.4 L200.7,383.5 L201.4,383.4 L201.9,382.9 L202.0,382.2 L201.9,381.6 L201.4,381.1 Z M208.1,382.1 L207.4,382.3 L206.8,382.8 L206.6,383.6 L206.8,384.3 L207.4,384.9 L208.1,385.1 L208.6,384.9 L209.1,385.6 L209.6,385.7 L210.6,383.9 L210.3,383.6 L209.6,383.5 L209.4,382.8 L208.8,382.3 Z M198.9,383.7 L198.7,383.9 L198.7,384.6 L198.9,384.8 L199.5,384.8 L199.8,384.6 L199.8,383.9 L199.5,383.7 Z" fill="#a468de"/>
<path d="M218.3,358.5 L217.5,358.2 L216.4,358.5 L207.6,366.1 L207.2,366.6 L207.0,367.2 L207.3,368.3 L215.8,380.6 L216.3,381.1 L217.0,381.3 L217.7,381.2 L223.0,379.4 L223.8,378.7 L224.0,378.1 L225.8,364.9 L225.7,364.3 L225.2,363.6 Z" fill="#cbcaea" stroke="#9c9ad2" stroke-width="0.6"/>
<path d="M217.8,380.1 L220.1,379.3 L223.6,376.5 L225.2,364.8 L224.8,364.0 L219.1,359.8 L217.8,359.9 L216.3,359.5 L209.6,365.2 L209.3,365.9 L208.4,366.2 L208.0,366.6 L207.7,367.0 L207.6,367.5 L207.8,367.9 L216.0,379.8 Z" fill="#aa90dc"/>
<path d="M214.9,377.6 L217.5,377.9 L219.3,377.3 L222.0,375.2 L223.5,374.7 L224.6,366.3 L223.8,365.9 L223.3,364.0 L219.7,362.1 L217.5,362.2 L215.4,361.7 L213.6,363.0 L212.0,363.9 L210.8,366.8 L209.0,367.5 L208.5,368.2 Z" fill="#8a4ad0"/>
<path d="M221.6,363.6 L221.4,364.4 L221.6,364.9 L220.8,364.4 L220.1,364.9 L220.0,365.3 L220.4,366.1 L221.3,366.1 L221.6,365.7 L221.6,365.1 L222.2,365.7 L222.9,365.9 L223.8,365.6 L223.3,364.0 L222.0,363.2 Z M214.0,363.2 L213.4,363.8 L213.2,364.6 L212.6,364.7 L212.1,365.3 L211.9,366.0 L212.1,366.7 L212.6,367.3 L213.4,367.5 L214.1,367.3 L214.7,366.7 L214.9,366.0 L215.5,365.9 L216.1,365.3 L216.3,364.6 L216.1,363.8 L215.5,363.2 L214.8,363.0 Z M218.4,367.0 L217.7,367.4 L216.8,367.4 L216.5,367.6 L216.4,368.0 L216.8,368.7 L217.2,368.8 L217.8,368.6 L218.4,368.9 L218.8,368.7 L219.2,368.4 L219.3,367.9 L219.2,367.5 L218.8,367.1 Z M210.9,368.5 L210.3,369.2 L210.0,370.0 L210.2,370.8 L210.9,371.6 L211.8,371.8 L212.7,371.6 L213.4,370.9 L213.6,370.0 L213.4,369.2 L212.7,368.5 L211.8,368.3 Z M218.2,369.9 L218.0,370.6 L218.2,371.4 L218.8,372.0 L219.6,372.2 L220.4,372.0 L220.9,371.4 L221.2,370.6 L220.9,369.9 L220.4,369.3 L219.6,369.1 L218.8,369.3 Z M213.6,375.5 L214.6,377.1 L215.0,377.0 L215.4,376.6 L215.5,376.1 L215.4,375.5 L215.0,375.2 L214.5,375.0 L214.0,375.2 Z" fill="#6a2ec0"/>
<path d="M220.2,367.5 L219.7,367.6 L219.4,367.9 L219.2,368.4 L219.4,368.9 L219.7,369.3 L220.2,369.4 L220.7,369.3 L221.0,368.9 L221.2,368.4 L221.0,367.9 L220.7,367.6 Z M210.3,369.7 L209.6,369.9 L210.9,371.8 L211.3,371.4 L211.5,370.8 L211.3,370.2 L210.9,369.8 Z M213.0,370.0 L212.2,370.2 L211.7,370.7 L211.5,371.5 L211.7,372.2 L212.2,372.8 L213.0,373.0 L213.7,372.8 L214.3,372.2 L214.5,371.5 L214.3,370.7 L213.7,370.2 Z M216.9,373.9 L216.4,374.4 L216.2,375.1 L216.4,375.8 L216.1,376.3 L216.3,376.8 L217.0,377.2 L217.4,377.1 L217.8,376.5 L218.3,376.4 L218.8,375.8 L219.0,375.1 L218.8,374.4 L218.3,373.9 L217.6,373.7 Z" fill="#a468de"/>
<path d="M244.4,364.0 L244.3,363.4 L243.8,362.7 L242.4,361.7 L241.5,361.5 L229.5,364.3 L228.8,364.7 L228.3,365.7 L226.6,378.0 L226.7,378.8 L227.1,379.4 L227.6,379.7 L234.8,382.9 L235.5,383.1 L236.2,382.8 L243.1,378.7 L243.5,378.2 L243.7,377.6 Z" fill="#cbcaea" stroke="#9c9ad2" stroke-width="0.6"/>
<path d="M233.3,381.6 L236.3,380.1 L240.4,379.7 L242.7,378.3 L243.1,377.7 L243.6,366.9 L243.1,366.1 L241.4,365.0 L239.6,364.4 L238.1,363.6 L237.5,363.1 L229.6,364.9 L229.1,365.3 L228.9,365.8 L227.4,376.7 L228.1,377.7 L228.8,379.6 Z" fill="#aa90dc"/>
<path d="M228.2,373.9 L229.7,376.5 L230.3,378.1 L231.6,379.1 L233.1,379.8 L236.1,378.3 L238.8,378.1 L240.4,377.8 L242.1,377.1 L242.8,376.1 L243.0,370.8 L242.8,370.4 L242.3,368.8 L241.4,367.4 L240.1,366.6 L238.7,366.1 L237.5,365.4 L236.3,364.3 L235.3,364.0 L233.6,364.4 L231.8,365.2 L230.6,366.2 L229.0,368.0 Z" fill="#8a4ad0"/>
<path d="M234.8,364.7 L234.4,365.1 L234.3,365.6 L234.4,366.1 L234.8,366.4 L235.3,366.6 L235.8,366.4 L236.2,366.1 L236.3,365.6 L236.2,365.1 L235.8,364.7 L235.3,364.6 Z M229.6,367.4 L230.2,368.2 L230.9,368.4 L231.7,368.2 L232.2,367.7 L232.4,367.0 L232.2,366.3 L231.7,365.7 L231.3,365.6 Z M228.7,370.0 L228.3,373.1 L229.1,373.4 L229.7,373.2 L229.6,373.7 L229.7,374.2 L230.0,374.5 L229.9,375.0 L230.1,375.9 L230.7,376.5 L231.6,376.7 L232.5,376.5 L233.1,375.9 L233.3,375.0 L233.1,374.1 L232.5,373.5 L231.6,373.3 L231.3,373.4 L230.9,372.9 L230.3,372.9 L230.6,372.5 L230.8,371.6 L230.6,370.8 L230.0,370.2 L229.1,369.9 Z M239.9,372.6 L239.2,373.3 L239.0,373.9 L238.6,373.5 L237.8,373.3 L237.0,373.5 L236.4,374.1 L236.2,374.9 L236.4,375.7 L237.0,376.3 L238.0,376.4 L238.6,377.1 L239.5,377.3 L241.0,376.8 L242.4,375.1 L242.6,374.2 L242.4,373.3 L241.7,372.6 L240.8,372.4 Z" fill="#6a2ec0"/>
<path d="M233.8,370.0 L233.2,370.2 L232.7,370.6 L232.6,371.2 L232.7,371.8 L233.3,372.3 L233.4,373.0 L233.7,373.4 L234.2,373.5 L234.7,373.4 L235.0,373.0 L235.1,372.6 L234.8,371.9 L235.0,371.2 L234.8,370.6 L234.4,370.2 Z M238.4,370.3 L237.6,370.5 L237.1,371.1 L236.9,371.8 L237.1,372.6 L237.6,373.1 L238.4,373.3 L239.1,373.1 L239.6,372.6 L239.8,371.8 L239.6,371.1 L239.1,370.5 Z M229.5,372.6 L229.2,373.0 L229.0,373.4 L229.2,373.9 L229.5,374.2 L230.0,374.3 L230.4,374.2 L230.8,373.9 L230.9,373.4 L230.8,373.0 L230.4,372.6 L230.0,372.5 Z M241.7,372.6 L241.1,373.1 L240.9,373.9 L241.1,374.6 L241.7,375.2 L242.4,375.3 L242.8,375.2 L242.9,372.5 L242.4,372.4 Z" fill="#a468de"/>
<path d="M248.3,363.3 L247.4,363.9 L247.0,364.8 L246.3,377.4 L246.4,378.2 L246.8,378.7 L256.4,383.5 L257.0,383.7 L257.7,383.6 L265.7,380.3 L266.2,380.0 L266.6,379.5 L266.7,378.9 L266.7,370.4 L266.6,369.8 L266.2,369.2 L253.4,362.5 L252.6,362.5 Z" fill="#cbcaea" stroke="#9c9ad2" stroke-width="0.6"/>
<path d="M263.5,380.6 L265.3,378.1 L266.1,376.4 L266.1,370.3 L265.6,369.5 L256.8,365.0 L254.5,365.1 L252.4,365.6 L250.7,366.9 L248.7,367.5 L247.4,368.3 L246.9,377.5 L247.0,378.0 L247.4,378.3 L257.0,383.1 L257.5,383.0 L258.6,382.4 L258.9,382.5 Z" fill="#aa90dc"/>
<path d="M256.5,381.9 L258.0,380.7 L260.0,381.0 L261.3,379.8 L263.2,377.3 L264.7,374.3 L265.1,372.5 L265.3,370.5 L264.6,369.5 L262.7,368.4 L259.9,367.9 L258.4,366.7 L256.5,367.0 L254.7,367.1 L253.1,367.5 L251.7,368.5 L250.1,369.0 L247.7,370.3 L247.3,377.3 L247.7,378.1 L255.9,382.2 Z" fill="#8a4ad0"/>
<path d="M255.4,367.5 L255.6,368.1 L256.0,368.6 L256.7,368.7 L257.3,368.6 L257.8,368.1 L257.9,367.5 L257.7,366.8 L255.5,367.1 Z M251.0,368.8 L251.5,369.3 L252.2,369.5 L252.9,369.3 L253.3,368.8 L253.5,368.2 L253.3,367.5 L253.1,367.5 Z M253.5,370.0 L253.2,370.3 L252.6,370.2 L251.8,370.4 L251.1,371.0 L250.9,371.9 L251.1,372.8 L251.8,373.4 L252.6,373.6 L253.5,373.4 L254.2,372.5 L254.9,372.3 L255.4,371.9 L255.5,371.2 L255.4,370.5 L254.9,370.0 L254.2,369.8 Z M248.8,373.1 L248.4,373.5 L248.2,374.1 L248.4,374.7 L248.8,375.1 L249.4,375.3 L250.0,375.1 L250.4,374.7 L250.6,374.1 L250.4,373.5 L250.0,373.1 L249.4,372.9 Z M251.1,376.2 L250.8,376.6 L250.8,377.4 L251.1,377.8 L252.0,377.8 L252.4,377.4 L252.4,376.6 L252.0,376.2 Z M260.4,376.9 L260.0,377.5 L259.2,377.6 L258.6,378.2 L258.4,378.9 L258.6,379.6 L259.2,380.1 L259.9,380.3 L260.6,380.1 L261.1,379.6 L261.3,378.9 L262.0,378.4 L262.1,377.8 L262.0,377.3 L261.6,376.9 L261.0,376.7 Z M253.8,380.4 L253.4,380.9 L254.9,381.7 L255.0,381.6 L255.2,381.1 L255.0,380.7 L254.7,380.4 L254.3,380.2 Z" fill="#6a2ec0"/>
<path d="M257.1,366.9 L255.4,367.3 L255.0,368.0 L255.1,368.4 L255.8,368.8 L256.2,368.7 L256.6,368.3 L257.0,368.2 L257.4,367.5 Z M261.1,371.7 L260.8,371.8 L260.5,372.3 L260.6,372.6 L261.1,372.8 L261.4,372.8 L261.7,372.3 L261.6,372.0 Z M251.4,373.0 L251.0,373.3 L250.9,373.8 L251.0,374.2 L251.4,374.6 L251.8,374.7 L252.3,374.6 L252.6,374.2 L252.8,373.8 L252.6,373.3 L252.3,373.0 L251.8,372.8 Z M253.4,378.7 L253.2,378.9 L253.2,379.5 L253.4,379.7 L254.0,379.7 L254.2,379.5 L254.2,378.9 L254.0,378.7 Z" fill="#a468de"/>
<path d="M180.2,393.7 L179.9,394.2 L179.7,395.0 L179.9,395.6 L180.4,396.2 L188.6,399.8 L192.3,402.8 L193.2,403.1 L194.2,402.7 L203.2,394.9 L203.7,394.2 L203.8,393.6 L203.6,392.9 L203.1,392.3 L191.8,384.7 L190.9,384.4 L190.3,384.5 L189.8,384.8 Z" fill="#cbcaea" stroke="#9c9ad2" stroke-width="0.6"/>
<path d="M191.3,401.2 L193.3,401.1 L194.6,401.6 L202.8,394.4 L203.2,393.6 L203.1,393.2 L202.7,392.8 L191.4,385.2 L190.9,385.0 L190.2,385.3 L183.0,391.9 L182.7,393.3 L185.1,397.6 L189.0,399.4 Z" fill="#aa90dc"/>
<path d="M202.8,393.7 L202.2,392.9 L191.6,385.7 L189.0,386.9 L185.7,390.0 L185.6,391.7 L185.2,393.3 L187.6,397.5 L189.0,398.4 L190.6,398.7 L191.9,399.5 L193.5,399.4 L195.0,399.9 L195.6,400.2 L202.6,394.1 Z" fill="#8a4ad0"/>
<path d="M191.9,388.5 L191.4,389.0 L191.3,389.7 L191.4,390.3 L191.9,390.8 L192.6,391.0 L193.2,390.8 L193.7,390.3 L193.9,389.7 L193.7,389.0 L193.2,388.5 L192.6,388.4 Z M198.1,390.2 L197.3,390.9 L197.1,391.9 L197.3,392.8 L198.0,393.5 L198.9,393.7 L199.9,393.5 L200.5,392.8 L200.8,392.0 Z M187.9,391.0 L187.5,391.4 L187.3,392.4 L187.4,392.8 L188.1,393.3 L189.0,392.9 L189.4,392.5 L189.5,392.0 L189.4,391.4 L189.0,391.0 L188.4,390.9 Z M189.7,394.6 L189.4,394.9 L189.3,395.4 L189.4,395.9 L189.7,396.2 L190.2,396.3 L190.7,396.2 L191.0,395.9 L191.1,395.4 L191.0,394.9 L190.7,394.6 L190.2,394.5 Z M191.4,395.9 L191.0,396.4 L190.9,397.3 L190.3,397.8 L190.1,398.6 L191.9,399.5 L193.7,399.5 L194.1,398.4 L193.9,397.5 L193.3,397.0 L193.2,396.4 L192.7,395.9 L192.1,395.7 Z M194.3,398.1 L194.1,398.8 L194.3,399.6 L195.6,400.2 L197.1,398.9 L196.9,398.1 L196.4,397.5 L195.6,397.3 L194.9,397.5 Z" fill="#6a2ec0"/>
<path d="M195.2,388.5 L194.6,388.6 L194.2,389.0 L194.1,389.6 L194.2,390.1 L194.6,390.5 L195.2,390.6 L195.7,390.5 L196.1,390.1 L196.3,389.6 L196.1,389.0 L195.7,388.6 Z M197.8,390.0 L197.3,390.5 L197.1,391.1 L197.3,391.8 L197.8,392.3 L198.4,392.4 L199.1,392.3 L199.6,391.8 L199.7,391.3 Z M191.7,391.5 L191.1,391.7 L190.7,392.1 L190.5,392.7 L190.7,393.2 L191.1,393.6 L191.7,393.8 L192.2,393.6 L192.6,393.2 L192.8,392.7 L192.6,392.1 L192.2,391.7 Z M187.1,392.0 L186.5,392.5 L186.3,393.2 L186.8,394.2 L186.3,394.6 L186.2,395.1 L186.5,395.7 L187.1,396.0 L187.6,395.9 L187.9,395.5 L187.9,394.7 L188.6,394.5 L189.1,394.0 L189.3,393.2 L189.1,392.5 L188.6,392.0 L187.8,391.8 Z" fill="#a468de"/>
<path d="M195.9,404.7 L195.5,405.3 L195.3,406.1 L196.1,417.2 L196.3,417.8 L196.8,418.4 L197.5,418.7 L202.6,418.6 L210.3,414.0 L210.8,413.4 L213.3,400.8 L213.3,400.0 L210.1,395.1 L209.2,394.6 L207.7,394.7 L207.0,395.0 Z" fill="#cbcaea" stroke="#9c9ad2" stroke-width="0.6"/>
<path d="M197.5,413.1 L199.4,414.1 L203.2,415.6 L204.8,416.6 L210.1,413.3 L210.4,412.8 L212.7,400.7 L212.7,400.1 L212.1,399.2 L209.6,398.5 L207.3,398.2 L203.5,400.4 L202.4,401.8 L201.1,402.6 L199.5,403.4 L197.9,403.8 L196.3,405.2 L195.9,405.9 L196.4,412.7 Z" fill="#aa90dc"/>
<path d="M210.6,401.0 L207.1,400.3 L204.1,402.0 L203.2,403.1 L202.2,403.8 L201.0,404.3 L199.0,404.8 L197.9,406.1 L197.0,407.6 L196.8,409.3 L197.2,411.1 L199.4,411.8 L200.9,412.7 L203.9,413.8 L205.3,414.7 L207.1,414.7 L209.8,413.1 L210.0,412.7 L212.1,401.6 Z" fill="#8a4ad0"/>
<path d="M206.2,401.3 L206.8,401.9 L206.7,402.2 L206.8,402.9 L207.3,403.4 L208.0,403.6 L208.7,403.4 L209.1,402.9 L209.3,402.4 L210.1,401.8 L210.3,401.1 L210.2,400.9 L208.8,400.6 L207.1,400.3 L206.1,400.9 Z M210.3,404.5 L209.8,405.0 L209.6,405.7 L209.8,406.4 L210.3,406.9 L211.1,407.0 L211.6,404.4 L211.0,404.3 Z M204.0,404.4 L203.3,405.0 L203.1,406.1 L202.7,406.2 L202.1,405.5 L201.3,405.3 L200.6,405.5 L200.0,406.0 L199.8,406.8 L200.0,407.6 L200.6,408.1 L201.3,408.3 L201.9,408.2 L202.5,408.9 L203.2,409.1 L203.9,408.9 L204.5,408.3 L204.7,407.7 L205.8,407.5 L206.5,406.8 L206.7,405.9 L206.5,405.0 L205.8,404.4 L204.9,404.1 Z M197.0,408.0 L198.0,408.4 L198.8,408.2 L199.4,407.6 L199.6,406.8 L199.4,406.0 L198.8,405.4 L198.5,405.3 L197.9,406.1 L197.0,407.6 Z M206.1,412.9 L205.9,413.8 L206.1,414.7 L207.1,414.7 L209.4,413.3 L209.3,412.9 L208.6,412.2 L207.7,412.0 L206.8,412.2 Z" fill="#6a2ec0"/>
<path d="M205.5,402.3 L205.0,402.4 L204.6,402.8 L204.5,403.3 L204.6,403.8 L205.0,404.2 L205.5,404.3 L206.0,404.2 L206.3,403.8 L206.5,403.3 L206.3,402.8 L206.0,402.4 Z M211.8,403.3 L210.9,403.7 L210.8,404.1 L210.9,404.5 L211.5,404.9 Z M198.4,406.3 L198.9,406.4 L199.4,406.3 L199.8,405.9 L199.9,405.4 L199.6,404.7 L199.0,404.8 L198.0,405.9 Z M200.7,407.1 L200.2,407.6 L200.0,408.3 L200.2,409.0 L200.7,409.4 L201.4,409.6 L202.0,409.4 L202.5,409.0 L202.7,408.3 L202.5,407.6 L202.0,407.1 L201.4,406.9 Z M208.8,410.2 L208.1,410.6 L208.1,411.4 L208.8,411.8 L209.2,411.7 L209.5,411.4 L209.5,410.6 Z" fill="#a468de"/>
<path d="M225.6,381.7 L225.0,381.5 L224.4,381.6 L217.5,384.0 L216.9,384.4 L212.4,392.5 L212.2,393.1 L212.3,393.7 L215.2,398.1 L215.9,398.7 L232.6,401.9 L233.6,401.8 L234.9,400.8 L235.2,399.9 L234.3,386.1 L234.0,385.6 L233.5,385.2 Z" fill="#cbcaea" stroke="#9c9ad2" stroke-width="0.6"/>
<path d="M230.8,400.2 L231.4,397.9 L232.3,396.5 L232.5,394.9 L233.7,393.7 L233.8,392.1 L233.5,388.9 L231.8,388.0 L231.6,386.1 L230.1,385.1 L229.1,383.9 L225.1,382.2 L222.1,383.1 L221.3,385.0 L220.1,386.4 L219.5,388.0 L219.6,389.6 L218.2,392.1 L218.2,393.6 L216.9,395.7 L217.8,397.4 L219.6,398.8 L229.4,400.7 Z" fill="#aa90dc"/>
<path d="M231.9,393.3 L231.8,389.6 L230.4,389.0 L230.2,387.5 L229.1,386.8 L228.0,385.5 L226.6,384.6 L224.8,383.9 L223.1,384.8 L222.3,386.7 L221.4,387.7 L220.9,388.9 L221.0,390.2 L219.9,392.1 L219.9,393.2 L218.9,394.8 L219.6,396.1 L221.9,398.1 L223.5,398.4 L224.9,398.9 L226.4,398.4 L228.1,398.9 L229.6,398.3 L230.1,396.6 L230.8,395.5 L230.9,394.2 Z" fill="#8a4ad0"/>
<path d="M226.0,385.6 L225.3,386.3 L225.1,387.2 L225.3,388.1 L226.0,388.8 L226.9,389.1 L227.8,388.8 L228.5,388.1 L228.8,387.2 L228.5,386.3 L227.8,385.6 L226.9,385.4 Z M229.5,388.9 L228.1,390.4 L227.9,391.3 L228.1,392.2 L228.7,392.7 L228.5,393.3 L228.7,393.9 L229.1,394.3 L229.7,394.5 L230.4,394.3 L230.8,393.9 L231.0,393.3 L230.8,392.6 L231.9,391.4 L231.8,389.6 L230.4,389.0 L230.4,388.7 Z M219.9,396.3 L221.2,396.0 L221.7,395.4 L221.9,394.7 L221.5,393.7 L221.3,392.7 L220.7,392.0 L220.0,391.8 L219.9,393.2 L218.9,394.8 L219.6,396.1 Z M226.0,396.5 L225.8,397.2 L226.0,398.0 L226.4,398.4 L227.7,398.8 L228.2,398.6 L228.8,398.0 L229.0,397.2 L228.8,396.5 L228.2,395.9 L227.4,395.7 L226.6,395.9 Z" fill="#6a2ec0"/>
<path d="M225.0,385.5 L224.3,385.8 L224.2,386.2 L224.3,386.6 L225.0,387.0 L225.7,386.6 L225.8,386.2 L225.7,385.8 Z M228.8,390.2 L228.1,390.4 L227.6,390.9 L227.4,391.6 L227.6,392.3 L228.1,392.9 L228.8,393.0 L229.5,392.9 L230.0,392.3 L230.2,391.6 L230.0,390.9 L229.5,390.4 Z M227.4,393.0 L226.7,393.0 L226.3,393.6 L226.7,394.3 L227.0,394.4 L227.4,394.3 L227.8,393.6 Z M220.1,394.5 L219.7,395.2 L219.8,395.6 L220.1,395.9 L220.9,395.9 L221.3,395.2 L221.2,394.8 L220.9,394.5 Z M222.0,397.4 L221.7,397.9 L221.9,398.1 L223.1,398.3 L223.0,397.7 L222.8,397.4 Z" fill="#a468de"/>
<path d="M255.3,387.2 L255.2,386.3 L254.6,385.6 L245.3,381.0 L244.2,381.2 L237.7,385.0 L237.2,385.6 L237.0,386.4 L237.7,398.7 L238.0,399.5 L238.5,399.9 L239.1,400.2 L250.9,402.0 L251.5,402.0 L252.0,401.7 L252.5,401.3 L252.7,400.7 Z" fill="#cbcaea" stroke="#9c9ad2" stroke-width="0.6"/>
<path d="M239.5,394.3 L243.1,393.1 L245.2,393.6 L247.5,393.1 L250.4,394.6 L253.1,395.2 L254.7,387.1 L254.6,386.4 L254.2,386.0 L245.5,381.7 L245.1,381.5 L244.6,381.6 L238.1,385.4 L237.7,386.0 L238.1,393.9 Z" fill="#aa90dc"/>
<path d="M238.3,391.7 L240.9,392.5 L243.7,391.5 L245.5,391.9 L247.3,391.5 L249.6,392.7 L253.1,393.4 L254.3,386.7 L254.0,386.4 L245.3,382.0 L244.8,382.0 L238.1,386.0 Z" fill="#8a4ad0"/>
<path d="M239.2,385.7 L239.7,386.2 L238.9,386.8 L238.7,387.6 L238.9,388.3 L239.5,388.9 L240.3,389.1 L240.9,389.0 L241.0,389.9 L241.6,390.4 L242.3,390.6 L243.2,390.3 L243.5,390.6 L244.3,390.8 L246.0,390.1 L246.4,390.6 L247.2,390.7 L246.9,391.6 L247.3,391.5 L249.3,392.6 L249.7,391.7 L250.2,392.5 L250.8,392.6 L251.4,392.5 L251.8,392.1 L251.9,391.5 L251.8,390.9 L251.4,390.5 L250.8,390.4 L250.2,390.5 L249.8,390.9 L249.7,391.4 L249.6,390.9 L249.0,390.4 L248.1,390.2 L248.3,389.5 L248.2,388.9 L247.7,388.4 L247.1,388.3 L246.9,387.6 L246.2,386.9 L245.3,386.7 L244.4,386.9 L243.3,388.0 L242.3,387.6 L241.8,387.8 L241.6,386.8 L241.0,386.2 L241.5,385.7 L241.7,385.0 L241.5,384.3 L241.3,384.1 L239.1,385.3 Z M250.1,385.0 L249.8,385.3 L249.7,385.8 L249.8,386.3 L250.1,386.6 L250.6,386.7 L251.0,386.6 L251.4,386.3 L251.5,385.8 L251.4,385.3 L251.0,385.0 L250.6,384.9 Z" fill="#6a2ec0"/>
<path d="M245.8,382.3 L245.4,382.7 L245.3,383.1 L245.4,383.6 L245.8,384.0 L246.3,384.1 L246.8,384.0 L247.1,383.6 L247.2,383.0 Z M238.4,385.8 L238.7,386.0 L239.4,386.0 L239.8,385.4 L239.7,385.0 Z M242.7,385.9 L241.8,385.9 L241.4,386.6 L241.8,387.4 L242.3,387.5 L242.7,387.4 L243.1,386.6 Z M249.0,385.4 L248.5,385.9 L248.3,386.6 L248.5,387.3 L249.0,387.8 L249.7,388.0 L250.4,387.8 L250.9,387.3 L251.1,386.6 L250.9,385.9 L250.4,385.4 L249.7,385.2 Z M252.7,389.8 L252.2,390.3 L252.0,391.0 L252.2,391.7 L252.7,392.2 L253.3,392.4 L253.8,389.7 L253.4,389.6 Z" fill="#a468de"/>
<path d="M266.7,385.1 L266.5,384.4 L266.1,383.9 L265.6,383.6 L264.8,383.6 L258.8,386.0 L258.1,386.8 L254.9,402.9 L255.3,403.9 L257.2,406.2 L257.8,406.5 L258.4,406.7 L259.1,406.4 L265.9,402.6 L266.6,401.8 L266.7,401.2 Z" fill="#cbcaea" stroke="#9c9ad2" stroke-width="0.6"/>
<path d="M256.7,403.7 L259.2,405.7 L265.6,402.1 L266.0,401.6 L266.1,385.6 L265.2,384.7 L263.7,384.8 L262.3,385.4 L261.2,386.3 L260.1,387.5 L259.3,389.1 L258.1,389.9 L255.8,401.6 Z" fill="#aa90dc"/>
<path d="M265.7,388.1 L264.6,387.1 L263.5,387.2 L262.5,387.7 L261.6,388.4 L260.9,389.3 L260.3,390.5 L259.3,391.2 L258.8,392.6 L257.9,394.0 L257.5,396.0 L257.7,398.0 L257.6,400.3 L258.3,402.1 L260.4,404.0 L261.0,404.2 L265.4,401.8 L265.7,401.4 Z" fill="#8a4ad0"/>
<path d="M259.8,391.4 L260.3,391.9 L261.2,392.0 L261.3,392.5 L261.7,392.9 L262.1,393.0 L262.6,392.9 L262.9,392.5 L263.1,392.1 L262.9,391.6 L262.2,391.2 L262.4,390.7 L262.2,390.2 L262.7,389.7 L263.0,388.9 L262.7,388.0 L262.4,387.7 L260.9,389.3 L260.3,390.5 L259.7,390.9 Z M264.2,391.2 L263.6,391.8 L263.3,392.7 L263.7,394.4 L264.3,394.9 L265.0,395.1 L265.7,395.0 L265.7,391.2 L265.0,391.0 Z M257.6,396.3 L258.1,397.5 L258.8,398.2 L259.7,398.4 L260.7,398.2 L261.4,397.5 L261.6,396.5 L261.4,395.6 L260.7,394.9 L259.7,394.7 L258.8,394.9 L257.7,395.9 Z M265.0,395.3 L264.5,395.8 L264.3,396.4 L264.5,397.0 L265.0,397.5 L265.7,397.7 L265.7,395.2 Z M260.1,402.2 L259.9,403.1 L260.0,403.5 L261.0,404.2 L263.5,402.8 L263.3,402.2 L262.6,401.5 L261.7,401.3 L260.8,401.5 Z" fill="#6a2ec0"/>
<path d="M261.8,388.9 L261.5,389.0 L261.2,389.5 L261.3,389.8 L261.8,390.1 L262.1,390.0 L262.4,389.5 L262.4,389.2 Z M265.2,394.1 L264.7,394.2 L264.3,394.6 L264.2,395.1 L264.3,395.6 L264.8,396.0 L264.1,396.4 L264.0,396.9 L264.1,397.5 L264.5,397.8 L265.0,398.0 L265.7,397.7 L265.7,396.2 L265.4,396.0 L265.7,395.9 L265.7,394.2 Z M259.1,399.5 L259.1,400.3 L259.4,400.6 L259.8,400.7 L260.3,400.5 L260.8,401.1 L261.4,401.2 L261.9,401.1 L262.3,400.7 L262.5,400.1 L262.3,399.5 L261.9,399.1 L261.4,399.0 L260.8,399.1 L260.5,399.4 L259.8,399.1 Z" fill="#a468de"/>
<path d="M213.7,412.5 L213.8,413.4 L214.4,414.2 L223.2,418.6 L229.0,418.7 L229.6,418.6 L230.4,418.0 L230.6,417.3 L232.1,406.0 L232.0,405.2 L231.5,404.6 L230.8,404.2 L217.4,401.7 L216.5,401.8 L216.0,402.1 L215.6,402.8 Z" fill="#cbcaea" stroke="#9c9ad2" stroke-width="0.6"/>
<path d="M220.6,415.9 L222.0,416.4 L223.6,416.5 L225.3,417.1 L227.4,417.3 L229.4,416.5 L230.3,415.3 L231.5,405.9 L231.5,405.5 L231.2,405.1 L230.7,404.8 L217.3,402.3 L216.8,402.3 L216.4,402.5 L216.1,403.1 L214.3,412.6 L214.3,413.1 L214.8,413.7 L220.0,416.3 Z" fill="#aa90dc"/>
<path d="M221.1,414.2 L222.2,414.7 L223.4,414.7 L224.8,415.2 L226.4,415.3 L227.9,414.8 L228.9,413.3 L230.3,412.0 L231.1,405.9 L230.9,405.4 L230.6,405.2 L217.2,402.6 L216.6,403.0 L214.7,412.7 L214.7,413.0 L215.0,413.4 L219.2,415.5 Z" fill="#8a4ad0"/>
<path d="M215.9,406.4 L216.9,406.8 L217.7,406.6 L218.2,406.0 L218.5,405.2 L218.3,404.7 L218.6,404.4 L218.7,403.8 L218.6,403.1 L218.3,402.8 L217.2,402.6 L216.5,403.1 Z M223.6,404.8 L223.2,405.3 L223.0,405.9 L223.2,406.5 L223.6,406.9 L224.2,407.1 L224.8,406.9 L225.3,406.5 L225.4,405.9 L225.3,405.3 L224.8,404.8 L224.2,404.7 Z M229.2,405.2 L228.8,405.7 L228.6,406.3 L228.8,406.8 L229.2,407.3 L229.8,407.4 L230.4,407.3 L230.8,406.8 L231.0,406.3 L230.8,405.7 L230.4,405.2 L229.8,405.1 Z M226.5,405.7 L226.0,406.2 L225.8,407.0 L225.9,407.3 L225.2,407.2 L224.3,407.4 L223.7,408.0 L223.4,408.9 L223.7,409.8 L224.3,410.4 L225.2,410.7 L226.1,410.4 L226.7,409.8 L226.9,408.9 L226.8,408.3 L227.2,408.4 L228.0,408.2 L228.5,407.7 L228.7,407.0 L228.5,406.2 L228.0,405.7 L227.2,405.5 Z M220.6,406.3 L220.0,407.0 L219.7,408.0 L220.0,408.9 L220.6,409.6 L221.6,409.8 L222.5,409.6 L223.2,408.9 L223.5,408.0 L223.2,407.0 L222.5,406.3 L221.6,406.1 Z M215.0,411.2 L214.8,412.4 L215.1,412.7 L215.5,412.8 L216.0,412.7 L216.4,412.4 L216.5,411.9 L216.4,411.4 L216.0,411.1 L215.5,411.0 Z M224.0,413.2 L223.9,413.6 L224.0,414.1 L224.4,414.5 L224.9,414.6 L225.4,414.5 L225.7,414.1 L225.8,413.6 L225.7,413.2 L225.4,412.8 L224.9,412.7 L224.4,412.8 Z" fill="#6a2ec0"/>
<path d="M230.2,405.3 L229.5,405.5 L229.0,406.0 L228.8,406.6 L229.0,407.3 L229.5,407.8 L230.2,408.0 L230.9,407.9 L231.1,405.8 L230.9,405.5 Z M225.8,405.7 L225.2,405.9 L224.7,406.4 L224.2,408.0 L224.4,408.7 L224.9,409.2 L225.5,409.4 L226.2,409.2 L226.7,408.7 L227.0,407.0 L226.9,406.4 L226.4,405.9 Z M216.1,409.9 L215.7,410.4 L215.5,411.0 L215.7,411.7 L216.1,412.2 L216.8,412.3 L217.4,412.2 L217.9,411.7 L218.1,411.0 L217.9,410.4 L217.4,409.9 L216.8,409.8 Z M222.4,410.8 L222.0,411.2 L221.8,411.8 L222.0,412.3 L222.4,412.8 L223.0,412.9 L223.6,412.8 L224.0,412.3 L224.1,411.8 L224.0,411.2 L223.6,410.8 L223.0,410.6 Z" fill="#a468de"/>
<path d="M253.1,405.4 L252.2,404.8 L237.7,402.6 L236.6,402.8 L235.3,403.8 L234.9,404.6 L233.4,416.1 L233.6,417.2 L234.5,417.9 L238.7,418.7 L255.7,418.7 L256.6,418.4 L257.1,417.8 L257.3,417.1 L256.4,409.5 L256.1,408.9 Z" fill="#cbcaea" stroke="#9c9ad2" stroke-width="0.6"/>
<path d="M254.3,416.6 L255.1,415.3 L254.2,413.9 L253.8,412.7 L252.7,411.6 L251.9,410.5 L252.3,408.5 L250.5,407.3 L247.9,406.9 L242.8,406.3 L240.1,406.6 L237.7,407.3 L234.9,409.6 L234.0,416.3 L234.2,416.9 L234.7,417.3 L238.8,418.1 L253.9,418.1 Z" fill="#aa90dc"/>
<path d="M251.8,417.1 L252.2,415.9 L252.8,414.9 L252.1,413.9 L251.8,413.0 L250.9,412.2 L250.3,411.4 L250.5,409.9 L249.1,409.0 L243.0,408.2 L241.0,408.4 L239.1,409.0 L237.7,409.9 L236.6,410.8 L234.8,412.8 L234.6,414.4 L235.0,415.0 L235.3,416.1 L237.2,416.7 L238.5,417.4 L239.4,417.7 L251.3,417.7 Z" fill="#8a4ad0"/>
<path d="M248.2,408.8 L247.8,409.7 L247.9,410.3 L247.2,410.5 L246.5,410.3 L245.7,410.5 L245.2,411.1 L245.0,412.1 L244.4,411.3 L243.8,411.2 L243.2,411.3 L242.8,411.7 L242.7,412.3 L242.8,412.9 L243.2,413.3 L244.4,413.7 L245.1,413.3 L245.0,413.7 L245.2,414.5 L245.8,415.1 L246.6,415.3 L247.4,415.1 L248.0,414.5 L248.2,413.7 L248.0,413.2 L248.7,413.0 L249.3,412.5 L249.4,412.0 L250.1,412.2 L250.7,412.0 L250.3,411.4 L250.5,409.9 L249.1,409.0 Z M245.3,412.7 L245.3,412.8 L245.3,412.8 Z M238.8,410.0 L238.1,410.4 L238.1,411.2 L238.8,411.6 L239.2,411.5 L239.5,411.2 L239.5,410.4 Z M247.9,415.7 L247.9,416.6 L248.2,416.9 L248.7,417.0 L249.4,416.6 L249.4,415.7 L249.1,415.4 L248.7,415.3 Z" fill="#6a2ec0"/>
<path d="M249.5,409.2 L249.4,409.9 L249.6,410.1 L249.9,410.2 L250.4,409.9 Z M248.4,411.2 L247.8,411.4 L247.3,411.8 L247.2,412.4 L247.6,413.3 L247.2,414.1 L247.4,414.8 L247.9,415.3 L248.6,415.5 L249.3,415.3 L249.8,414.8 L249.9,414.1 L249.8,413.6 L250.1,413.2 L250.3,412.7 L250.1,412.2 L249.8,411.8 Z M236.6,411.6 L236.1,411.7 L235.7,412.0 L235.6,412.5 L235.7,413.0 L236.1,413.4 L236.6,413.5 L237.1,413.4 L237.4,413.0 L237.5,412.5 L237.4,412.0 L237.1,411.7 Z" fill="#a468de"/>
<path d="M264.3,342.2 L263.4,343.2 L263.3,343.8 L263.5,344.4 L263.8,344.9 L264.4,345.4 L265.0,345.5 L265.6,345.5 L266.2,345.0 L266.6,344.4 L266.7,343.6 L266.6,343.0 L266.2,342.4 L265.5,342.0 L264.9,342.0 Z" fill="#cbcaea" stroke="#9c9ad2" stroke-width="0.6"/>
<path d="M264.1,343.2 L263.9,343.9 L264.3,344.6 L265.1,344.9 L265.9,344.6 L266.1,344.1 L266.1,343.5 L265.7,342.8 L264.9,342.6 Z" fill="#aa90dc"/>
<path d="M265.1,343.0 L264.4,343.6 L264.3,343.7 L264.5,344.2 L265.1,344.5 L265.5,344.4 L265.7,344.0 L265.6,343.3 L265.4,343.1 Z" fill="#8a4ad0"/>
<path d="M265.3,343.0 L264.4,343.6 L264.3,343.9 L264.8,344.4 L265.2,344.5 L265.7,344.2 L265.7,343.5 Z" fill="#6a2ec0"/>
<path d="M265.3,343.0 L264.4,343.6 L264.3,343.9 L264.8,344.4 L265.2,344.5 L265.7,344.2 L265.7,343.5 Z" fill="#a468de"/>
<path d="M259.9,417.3 L260.4,418.2 L261.3,418.7 L265.4,418.7 L266.0,418.4 L266.5,417.9 L266.7,417.1 L266.7,407.7 L266.4,407.0 L265.8,406.5 L265.2,406.3 L264.5,406.4 L260.0,409.0 L259.4,409.6 L259.2,410.5 Z" fill="#cbcaea" stroke="#9c9ad2" stroke-width="0.6"/>
<path d="M265.1,417.6 L265.7,416.3 L266.1,416.1 L266.1,407.8 L265.8,407.2 L265.1,406.9 L264.6,407.0 L262.3,408.3 L262.0,409.1 L260.6,410.5 L260.4,412.9 L261.4,416.7 L263.0,418.1 L264.4,418.1 Z" fill="#aa90dc"/>
<path d="M263.2,408.3 L262.8,409.8 L261.8,410.8 L261.7,412.6 L262.4,415.3 L263.6,416.5 L264.3,416.6 L264.9,416.1 L265.4,415.1 L265.7,414.9 L265.6,407.6 L265.3,407.3 L264.9,407.3 Z" fill="#8a4ad0"/>
<path d="M264.6,407.6 L264.4,408.0 L264.6,408.5 L264.9,408.9 L265.7,408.9 L265.6,407.5 L265.1,407.3 Z M261.8,413.3 L262.8,412.9 L263.5,413.1 L263.0,413.7 L262.8,414.3 L263.0,415.0 L263.5,415.5 L264.1,415.6 L264.8,415.5 L265.3,415.0 L265.4,414.3 L265.3,413.7 L265.0,413.4 L265.7,413.1 L265.7,409.9 L264.9,409.7 L264.3,409.8 L264.1,409.2 L263.5,408.6 L263.2,408.5 L262.8,409.8 L261.8,410.8 L261.7,412.6 Z" fill="#6a2ec0"/>
<path d="M264.7,407.5 L263.4,408.2 L263.4,408.4 L263.7,409.1 L263.7,410.0 L264.4,410.4 L265.1,410.0 L265.1,409.2 L265.5,408.4 L265.3,407.9 Z M263.8,410.7 L263.3,410.8 L262.9,411.2 L262.8,411.7 L262.9,412.1 L262.0,411.8 L261.8,411.9 L261.7,412.6 L262.2,414.6 L262.8,414.5 L263.3,414.0 L263.5,413.2 L263.3,412.5 L263.8,412.6 L264.3,412.5 L264.6,412.1 L264.7,411.7 L264.6,411.2 L264.3,410.8 Z M265.1,413.7 L264.4,414.1 L264.4,414.9 L264.7,415.3 L265.2,415.3 L265.4,415.1 L265.7,414.9 L265.7,413.9 Z" fill="#a468de"/>
</g></g>
<g clip-path="url(#clip4)"><g filter="url(#soft)">
<rect x="290.4" y="318.2" width="101.8" height="101.5" fill="#dcdad2"/>
<path d="M308.8,382.0 L308.5,384.8 L307.7,387.3 L306.7,389.5 L305.3,391.4 L303.9,393.1 L302.2,394.0 L300.4,395.0 L298.6,394.9 L296.7,394.3 L295.1,393.1 L293.6,391.5 L292.3,389.6 L291.2,387.4 L290.3,384.8 L290.0,382.0 L290.5,379.2 L291.2,376.7 L292.4,374.6 L293.6,372.5 L295.1,371.1 L296.8,370.0 L298.6,369.4 L300.4,369.2 L302.2,370.0 L304.0,370.7 L305.7,372.1 L306.9,374.2 L308.1,376.5 L308.5,379.2 Z" fill="#d5d3e5" stroke="#aeabce" stroke-width="0.6"/>
<path d="M300.9,414.0 L300.7,415.4 L300.1,416.7 L299.5,418.0 L298.6,419.2 L297.5,420.1 L296.2,420.7 L294.7,420.9 L293.3,421.0 L291.8,420.7 L290.4,420.2 L289.2,419.3 L288.3,418.1 L287.5,416.9 L287.2,415.4 L287.0,414.0 L287.1,412.5 L287.5,411.1 L288.3,409.8 L289.4,408.9 L290.6,408.1 L291.9,407.6 L293.3,407.3 L294.7,407.2 L296.2,407.3 L297.6,407.8 L298.8,408.7 L299.8,409.8 L300.6,411.1 L301.0,412.5 Z" fill="#d5d3e5" stroke="#aeabce" stroke-width="0.6"/>
<path d="M375.0,404.0 L375.1,406.2 L374.6,408.2 L373.4,409.9 L372.0,411.4 L370.5,412.7 L368.8,413.5 L366.9,414.0 L365.1,413.9 L363.2,413.6 L361.5,412.6 L360.0,411.4 L358.9,409.8 L358.0,408.0 L357.5,406.0 L357.3,404.0 L357.3,401.9 L357.8,399.9 L358.6,398.0 L359.8,396.3 L361.3,394.9 L363.2,394.3 L365.0,393.9 L367.0,393.9 L368.8,394.4 L370.4,395.6 L371.7,396.9 L373.0,398.4 L373.9,400.1 L374.7,401.9 Z" fill="#d5d3e5" stroke="#aeabce" stroke-width="0.6"/>
<path d="M331.1,340.0 L330.8,343.4 L329.7,346.5 L327.9,349.3 L325.5,351.5 L323.1,353.6 L320.2,355.0 L317.1,355.6 L313.9,355.9 L310.6,355.6 L307.4,354.5 L304.7,352.4 L302.6,349.6 L301.3,346.5 L300.7,343.3 L300.2,340.0 L300.5,336.7 L301.3,333.5 L302.9,330.6 L305.2,328.2 L307.7,326.1 L310.8,325.1 L313.9,324.3 L317.1,324.3 L320.3,324.7 L323.1,326.4 L325.9,328.1 L328.4,330.4 L330.0,333.3 L331.2,336.6 Z" fill="#d5d3e5" stroke="#aeabce" stroke-width="0.6"/>
<path d="M346.0,362.0 L345.4,364.2 L344.8,366.4 L343.5,368.3 L341.8,370.0 L340.1,371.6 L337.8,372.6 L335.3,373.3 L332.7,373.0 L330.3,372.5 L328.2,371.2 L326.3,369.9 L324.5,368.3 L323.0,366.5 L321.9,364.4 L321.8,362.0 L322.3,359.7 L323.0,357.5 L324.4,355.6 L326.1,354.0 L328.1,352.7 L330.3,351.6 L332.8,351.2 L335.2,351.3 L337.7,351.6 L340.1,352.3 L342.3,353.6 L344.0,355.4 L345.1,357.5 L345.8,359.7 Z" fill="#d5d3e5" stroke="#aeabce" stroke-width="0.6"/>
<path d="M361.9,370.0 L361.2,372.6 L360.3,375.0 L358.8,377.1 L357.2,379.1 L355.1,380.5 L352.7,381.3 L350.3,381.9 L347.7,382.3 L345.0,382.2 L342.5,381.3 L340.2,379.8 L338.7,377.5 L337.5,375.1 L336.8,372.6 L336.6,370.0 L336.9,367.4 L337.4,364.8 L338.9,362.6 L340.8,360.8 L342.9,359.4 L345.2,358.3 L347.7,357.7 L350.3,357.6 L352.8,358.2 L355.3,359.0 L357.5,360.5 L359.3,362.5 L360.7,364.8 L361.6,367.3 Z" fill="#d5d3e5" stroke="#aeabce" stroke-width="0.6"/>
<path d="M326.0,380.5 L325.4,383.4 L324.3,386.2 L322.7,388.6 L321.1,391.0 L318.7,392.6 L316.2,393.9 L313.4,394.5 L310.6,394.6 L307.8,393.8 L305.3,392.5 L303.2,390.7 L301.3,388.5 L299.9,386.1 L299.1,383.4 L298.3,380.5 L298.3,377.5 L299.1,374.6 L300.6,371.9 L302.9,370.0 L305.2,368.4 L307.8,367.2 L310.6,366.7 L313.4,366.8 L316.0,367.7 L318.6,368.7 L320.9,370.3 L322.9,372.3 L324.6,374.7 L325.6,377.5 Z" fill="#d5d3e5" stroke="#aeabce" stroke-width="0.6"/>
<path d="M346.0,389.5 L345.8,392.5 L345.1,395.6 L343.6,398.3 L341.6,400.8 L338.9,402.4 L336.0,403.3 L333.0,403.6 L330.0,403.4 L327.2,402.9 L324.6,401.4 L322.1,400.0 L320.0,397.9 L318.5,395.3 L317.5,392.5 L316.8,389.5 L316.7,386.3 L317.7,383.3 L319.1,380.5 L321.6,378.5 L324.2,376.9 L327.1,375.9 L330.0,375.1 L333.0,375.2 L335.9,376.0 L338.6,377.3 L340.9,379.1 L342.9,381.2 L344.3,383.8 L345.7,386.5 Z" fill="#d5d3e5" stroke="#aeabce" stroke-width="0.6"/>
<path d="M385.3,357.0 L385.1,359.7 L384.8,362.4 L383.6,364.7 L382.2,366.9 L380.3,368.5 L378.3,369.5 L376.1,369.7 L373.9,370.0 L371.8,369.2 L369.7,368.3 L368.0,366.6 L366.4,364.7 L365.4,362.3 L364.8,359.7 L364.7,357.0 L365.0,354.4 L365.6,351.8 L366.6,349.5 L367.9,347.3 L369.6,345.5 L371.7,344.3 L373.9,343.8 L376.1,343.8 L378.3,344.4 L380.3,345.6 L382.2,347.2 L383.4,349.5 L384.5,351.8 L384.9,354.4 Z" fill="#d5d3e5" stroke="#aeabce" stroke-width="0.6"/>
<path d="M386.9,382.5 L386.8,385.2 L386.1,387.8 L385.1,390.2 L383.4,392.0 L381.7,393.6 L379.7,394.7 L377.6,395.4 L375.4,395.6 L373.2,395.3 L371.1,394.1 L369.4,392.3 L368.0,390.1 L367.0,387.8 L366.3,385.2 L366.1,382.5 L366.4,379.8 L367.1,377.3 L368.4,375.2 L369.7,373.1 L371.2,371.2 L373.2,369.9 L375.3,368.8 L377.7,368.9 L379.8,369.9 L381.7,371.4 L383.3,373.1 L384.7,375.1 L385.9,377.3 L386.6,379.8 Z" fill="#d5d3e5" stroke="#aeabce" stroke-width="0.6"/>
<path d="M395.0,407.0 L394.7,409.5 L393.9,411.9 L392.8,414.1 L391.1,416.0 L389.2,417.7 L386.9,418.9 L384.3,419.5 L381.7,419.1 L379.4,418.2 L377.2,417.0 L375.3,415.6 L373.4,413.9 L372.5,411.7 L371.6,409.4 L371.3,407.0 L371.7,404.6 L372.0,402.1 L372.9,399.7 L374.5,397.6 L376.7,396.1 L379.1,394.9 L381.7,394.8 L384.3,394.9 L386.7,395.6 L388.8,396.9 L390.8,398.4 L392.4,400.2 L393.7,402.2 L394.5,404.6 Z" fill="#d5d3e5" stroke="#aeabce" stroke-width="0.6"/>
<path d="M326.3,340.5 L325.6,342.9 L325.0,345.3 L324.0,347.4 L322.7,349.5 L320.7,350.9 L318.6,351.9 L316.4,352.5 L314.1,352.1 L311.8,351.8 L309.8,350.8 L307.6,349.7 L306.3,347.6 L304.7,345.6 L304.3,343.0 L303.9,340.5 L304.5,338.0 L305.0,335.6 L306.7,333.8 L308.3,332.1 L309.9,330.5 L311.9,329.4 L314.1,328.6 L316.4,328.2 L318.9,328.2 L321.0,329.6 L322.7,331.4 L324.1,333.4 L325.3,335.6 L325.7,338.1 Z" fill="#a474da"/>
<path d="M311.9,330.0 L311.5,330.4 L311.3,331.0 L311.5,331.5 L311.9,331.9 L312.4,332.0 L312.9,331.9 L313.3,331.5 L313.5,331.0 L313.3,330.4 L312.9,330.0 L312.4,329.9 Z M308.3,337.2 L308.1,338.1 L308.3,339.0 L309.0,339.7 L309.9,339.9 L310.8,339.7 L311.4,339.0 L311.7,338.1 L311.4,337.2 L310.8,336.5 L309.9,336.3 L309.0,336.5 Z M313.2,339.7 L313.0,340.2 L313.2,340.7 L313.6,341.1 L314.1,341.2 L314.6,341.1 L314.9,340.7 L315.1,340.2 L314.9,339.7 L314.6,339.3 L314.1,339.2 L313.6,339.3 Z M308.0,342.7 L307.5,343.1 L307.3,343.8 L307.5,344.4 L308.0,344.9 L308.6,345.1 L309.3,344.9 L309.7,344.4 L309.9,343.8 L309.7,343.1 L309.3,342.7 L308.6,342.5 Z M310.3,344.3 L310.2,345.0 L310.3,345.7 L310.8,346.2 L311.5,346.3 L312.2,346.2 L312.7,345.7 L312.8,345.0 L312.7,344.3 L312.2,343.8 L311.5,343.6 L310.8,343.8 Z M306.0,344.9 L306.0,345.8 L306.3,346.1 L307.2,346.1 L307.5,345.8 L307.5,344.9 L307.2,344.5 L306.3,344.5 Z M320.2,329.2 L319.7,329.8 L319.5,330.6 L319.7,331.4 L320.2,331.9 L321.0,332.1 L321.8,331.9 L322.4,331.1 L321.0,329.6 Z M322.6,334.5 L322.4,335.1 L322.6,335.7 L323.0,336.2 L323.6,336.3 L324.2,336.2 L324.7,335.7 L324.8,335.1 L324.7,334.5 L324.2,334.1 L323.6,333.9 L323.0,334.1 Z M316.5,336.6 L316.3,337.4 L316.5,338.1 L317.0,338.7 L317.8,338.9 L318.6,338.7 L319.1,338.1 L319.3,337.4 L319.1,336.6 L318.6,336.0 L317.8,335.8 L317.0,336.0 Z M324.6,339.2 L324.2,339.6 L324.1,340.1 L324.4,340.8 L323.7,341.5 L323.5,342.3 L323.7,343.1 L324.3,343.6 L325.1,343.9 L325.4,343.8 L326.1,341.1 L325.7,340.8 L326.1,340.1 L325.9,339.6 L325.6,339.2 L325.1,339.1 Z M317.2,349.4 L317.0,350.1 L317.2,350.8 L317.7,351.3 L318.5,351.5 L319.2,351.3 L319.7,350.8 L319.9,350.1 L319.7,349.4 L319.2,348.8 L318.5,348.6 L317.7,348.8 Z" fill="#8650c8"/>
<path d="M311.1,331.5 L310.7,331.8 L310.6,332.3 L310.7,332.8 L311.1,333.2 L311.6,333.3 L312.1,333.2 L312.4,332.8 L312.6,332.3 L312.4,331.8 L312.1,331.5 L311.6,331.4 Z M314.8,332.4 L314.5,333.0 L314.6,333.4 L315.2,333.7 L315.5,333.6 L315.9,333.0 L315.8,332.7 L315.2,332.3 Z M308.6,333.6 L308.3,334.1 L308.4,334.4 L308.9,334.7 L309.1,334.6 L309.4,334.1 L309.3,333.8 L308.9,333.6 Z M310.8,334.2 L310.6,334.7 L310.8,335.2 L311.1,335.5 L311.6,335.6 L312.1,335.5 L312.4,335.2 L312.6,334.7 L312.4,334.2 L312.1,333.8 L311.6,333.7 L311.1,333.8 Z M307.2,337.5 L307.2,338.2 L307.5,338.4 L308.2,338.4 L308.5,338.2 L308.5,337.5 L308.2,337.2 L307.5,337.2 Z M323.5,339.5 L323.0,339.9 L322.9,340.5 L323.0,341.1 L323.5,341.6 L324.1,341.8 L324.7,341.6 L325.2,341.1 L325.3,340.5 L325.2,339.9 L324.7,339.5 L324.1,339.3 Z M315.4,340.0 L315.1,340.6 L315.2,340.9 L315.7,341.2 L316.1,341.1 L316.4,340.6 L316.3,340.3 L315.7,340.0 Z M308.0,346.1 L307.6,346.8 L307.7,347.2 L308.4,347.7 L308.9,347.5 L309.3,346.8 L309.2,346.4 L308.4,346.0 Z M311.1,347.8 L310.9,348.5 L311.1,349.2 L311.6,349.7 L312.4,349.9 L313.1,349.7 L313.6,349.2 L313.8,348.5 L313.6,347.8 L313.1,347.2 L312.4,347.0 L311.6,347.2 Z M318.4,350.6 L318.3,351.3 L318.4,351.9 L320.9,350.8 L320.3,350.1 L319.6,349.9 L318.9,350.1 Z" fill="#c4a6ea"/>
<path d="M343.4,362.5 L343.5,364.1 L343.1,365.7 L342.3,367.2 L341.2,368.5 L339.6,369.5 L338.0,370.4 L336.2,371.1 L334.2,371.1 L332.3,370.6 L330.8,369.5 L329.1,368.6 L328.3,367.1 L327.2,365.7 L327.1,364.1 L326.9,362.5 L327.1,360.9 L327.7,359.4 L328.6,358.1 L329.5,356.7 L330.7,355.5 L332.4,354.6 L334.2,354.2 L336.2,354.0 L338.2,354.1 L339.9,355.1 L341.2,356.4 L341.9,358.1 L342.7,359.5 L343.2,361.0 Z" fill="#a474da"/>
<path d="M330.1,359.9 L329.8,360.2 L329.0,359.9 L328.2,360.1 L327.6,360.7 L327.4,361.5 L327.6,362.3 L327.5,362.9 L327.7,363.6 L327.6,363.9 L327.8,364.6 L328.3,365.1 L328.9,365.2 L329.6,365.1 L330.1,364.6 L330.2,363.9 L329.9,362.9 L330.4,362.2 L331.4,362.1 L331.9,361.7 L332.0,361.0 L331.9,360.4 L331.4,359.9 L330.8,359.7 Z M332.5,362.4 L331.9,363.0 L331.7,363.8 L331.9,364.6 L332.5,365.2 L333.3,365.4 L334.1,365.2 L334.8,364.6 L335.0,364.1 L334.7,363.0 L334.1,362.4 L333.3,362.2 Z M332.0,370.1 L332.0,370.3 L332.3,370.6 L333.4,370.9 L333.4,370.1 L333.1,369.8 L332.7,369.7 Z M333.0,354.7 L332.8,355.4 L333.0,356.2 L333.5,356.7 L334.2,356.9 L334.7,356.8 L334.9,358.0 L335.6,358.7 L336.5,358.9 L337.5,358.7 L338.2,358.0 L338.4,357.1 L338.2,356.1 L337.5,355.4 L336.5,355.2 L335.7,355.4 L335.5,354.7 L334.8,354.1 L333.3,354.4 Z M339.3,356.7 L339.0,357.6 L339.3,358.5 L339.9,359.1 L340.8,359.4 L341.7,359.1 L342.2,358.6 L341.2,356.4 L340.7,355.9 L339.9,356.1 Z M334.7,361.3 L334.3,361.6 L334.2,362.1 L334.3,362.6 L334.7,362.9 L335.2,363.1 L335.6,362.9 L336.0,362.6 L336.1,362.1 L336.0,361.6 L335.6,361.3 L335.2,361.1 Z M339.0,361.9 L338.7,362.6 L339.0,363.4 L339.5,364.0 L340.3,364.2 L341.1,364.0 L341.7,363.4 L341.9,362.6 L341.7,361.9 L341.1,361.3 L340.3,361.1 L339.5,361.3 Z" fill="#8650c8"/>
<path d="M336.5,354.1 L336.7,354.7 L337.1,355.1 L337.7,355.3 L338.2,355.1 L338.7,354.4 L338.2,354.1 Z M333.7,354.8 L333.2,355.2 L333.1,355.9 L333.2,356.5 L333.7,357.0 L334.3,357.1 L334.9,357.0 L335.4,356.5 L335.6,355.9 L335.4,355.2 L334.9,354.8 L334.3,354.6 Z M332.5,357.2 L332.1,357.9 L332.3,358.3 L332.9,358.6 L333.3,358.5 L333.6,357.9 L333.5,357.5 L332.9,357.1 Z M332.4,361.1 L332.3,361.4 L332.6,362.0 L333.0,362.1 L333.5,361.7 L333.6,361.4 L333.3,360.8 L333.0,360.8 Z M338.0,361.6 L337.9,362.1 L338.0,362.5 L338.3,362.9 L338.8,363.0 L339.3,362.9 L339.6,362.5 L339.7,362.1 L339.6,361.6 L339.3,361.3 L338.8,361.1 L338.3,361.3 Z M329.6,362.4 L329.4,363.0 L329.6,363.6 L331.1,364.7 L331.8,364.9 L332.6,364.7 L333.1,364.1 L333.3,363.4 L333.1,362.6 L332.6,362.1 L330.7,361.7 L330.1,361.9 Z M338.4,364.0 L338.1,364.5 L338.2,364.8 L338.7,365.1 L339.0,365.0 L339.3,364.5 L339.2,364.2 L338.7,363.9 Z M334.6,365.7 L334.6,366.4 L334.9,366.7 L335.6,366.7 L335.9,366.4 L335.9,365.7 L335.6,365.4 L334.9,365.4 Z M340.7,366.0 L340.5,366.7 L340.7,367.4 L341.6,368.1 L343.1,365.8 L342.7,365.5 L342.0,365.3 L341.3,365.5 Z" fill="#c4a6ea"/>
<path d="M358.7,370.5 L358.7,372.7 L358.0,374.7 L356.9,376.6 L355.0,377.7 L353.4,379.0 L351.6,379.9 L349.5,380.5 L347.4,380.6 L345.5,379.7 L343.7,378.9 L342.2,377.5 L340.8,376.1 L339.5,374.5 L338.1,372.7 L337.8,370.5 L338.0,368.3 L339.1,366.3 L340.3,364.5 L341.7,362.9 L343.7,362.1 L345.6,361.5 L347.5,361.1 L349.5,361.1 L351.6,361.0 L353.6,361.7 L355.2,363.0 L356.8,364.4 L357.6,366.4 L358.2,368.4 Z" fill="#a474da"/>
<path d="M342.0,363.1 L342.6,363.7 L343.4,364.0 L344.2,363.7 L344.8,363.1 L345.0,362.3 L344.8,361.8 L341.9,362.8 Z M340.3,367.3 L340.0,368.2 L340.3,369.2 L340.9,369.8 L341.9,370.1 L342.8,369.8 L343.4,370.1 L343.9,370.0 L344.2,369.7 L344.4,369.2 L344.2,368.7 L343.7,368.3 L343.5,367.3 L342.8,366.6 L341.9,366.4 L340.9,366.6 Z M347.2,369.9 L346.5,370.5 L346.3,371.3 L346.5,372.2 L346.9,372.6 L346.7,373.2 L347.0,374.2 L347.7,374.8 L348.6,375.1 L349.5,374.8 L350.2,374.2 L350.4,373.2 L350.2,372.3 L349.6,371.8 L349.8,371.3 L349.5,370.5 L348.9,369.9 L348.0,369.6 Z M344.0,378.5 L343.9,379.0 L347.0,380.3 L347.2,379.4 L347.0,378.5 L346.4,377.9 L345.5,377.7 L344.6,377.9 Z M355.7,365.4 L354.2,365.1 L353.3,365.3 L352.7,365.9 L352.4,366.8 L352.7,367.7 L353.3,368.3 L354.2,368.5 L355.2,368.1 L356.1,368.1 L356.5,367.7 L356.6,367.1 L356.1,365.8 Z M349.8,367.0 L349.3,367.5 L349.2,368.1 L349.3,368.7 L349.8,369.2 L350.4,369.4 L351.1,369.2 L351.5,368.7 L351.7,368.1 L351.5,367.5 L351.1,367.0 L350.4,366.8 Z M355.9,374.4 L355.7,375.2 L355.9,376.1 L356.6,376.7 L358.0,374.7 L358.3,373.8 L357.4,373.5 L356.5,373.8 Z M349.3,376.7 L349.1,377.5 L349.3,378.3 L349.8,378.8 L350.6,379.0 L351.4,378.8 L352.0,378.3 L352.2,377.5 L352.0,376.7 L351.4,376.1 L350.6,375.9 L349.8,376.1 Z" fill="#8650c8"/>
<path d="M352.8,364.7 L352.3,365.2 L352.1,365.9 L352.3,366.6 L352.8,367.1 L353.4,367.2 L354.1,367.1 L354.6,366.6 L354.8,365.9 L354.6,365.2 L354.1,364.7 L353.4,364.6 Z M351.1,366.7 L350.9,367.0 L350.9,367.6 L351.1,367.8 L351.7,367.8 L352.0,367.6 L352.0,367.0 L351.7,366.7 Z M355.9,368.3 L355.6,368.6 L355.5,369.1 L355.6,369.5 L355.9,369.8 L356.4,370.0 L356.8,369.8 L357.2,369.5 L357.3,369.1 L357.2,368.6 L356.8,368.3 L356.4,368.1 Z M338.4,369.4 L338.2,370.1 L338.4,370.7 L338.9,371.3 L339.6,371.4 L340.3,371.3 L340.8,370.7 L341.0,370.1 L340.8,369.4 L340.3,368.8 L339.6,368.7 L338.9,368.8 Z M353.9,370.5 L353.9,371.3 L354.2,371.6 L355.0,371.6 L355.3,371.3 L355.3,370.5 L355.0,370.1 L354.2,370.1 Z M338.5,372.2 L338.3,373.0 L339.2,374.1 L339.7,374.3 L340.6,374.2 L341.2,374.0 L341.7,373.5 L341.8,372.9 L341.7,372.3 L341.2,371.9 L339.7,371.5 L339.0,371.7 Z M350.7,374.9 L350.2,375.5 L350.0,376.4 L349.5,376.8 L349.4,377.2 L349.5,377.7 L349.8,378.0 L350.3,378.1 L350.7,378.0 L351.1,377.7 L351.5,377.8 L352.2,377.6 L352.8,377.0 L353.0,376.3 L352.8,375.5 L352.2,374.9 L351.5,374.7 Z M353.3,376.1 L353.2,376.5 L353.3,377.0 L353.7,377.3 L354.1,377.5 L354.6,377.3 L354.9,377.0 L355.1,376.5 L354.9,376.1 L354.6,375.7 L354.1,375.6 L353.7,375.7 Z" fill="#c4a6ea"/>
<path d="M320.5,378.5 L320.4,380.2 L319.7,381.7 L319.3,383.3 L318.0,384.5 L316.9,385.7 L315.3,386.2 L313.8,386.5 L312.2,386.5 L310.7,386.0 L309.3,385.4 L307.7,384.7 L306.9,383.2 L306.3,381.7 L306.1,380.1 L305.9,378.5 L306.0,376.9 L306.2,375.3 L306.7,373.6 L307.9,372.5 L309.2,371.6 L310.6,370.8 L312.2,370.3 L313.8,370.4 L315.4,370.5 L316.9,371.3 L317.9,372.7 L318.9,373.9 L319.7,375.3 L320.1,376.9 Z" fill="#a474da"/>
<path d="M309.4,371.8 L308.8,372.4 L308.5,373.2 L308.8,374.0 L309.5,374.6 L309.4,375.4 L309.0,375.5 L308.5,376.0 L308.3,376.6 L308.5,377.3 L309.0,377.7 L310.5,377.9 L309.9,378.3 L309.7,378.7 L309.9,379.2 L310.2,379.5 L310.7,379.7 L311.1,379.5 L311.5,379.2 L311.6,378.7 L311.5,378.3 L310.8,377.9 L311.5,377.4 L311.6,376.9 L311.5,376.4 L311.2,376.1 L311.6,375.7 L311.7,375.1 L311.6,374.5 L311.3,374.3 L311.6,374.0 L311.8,373.2 L311.6,372.4 L311.0,371.8 L310.2,371.6 Z M312.5,381.4 L312.3,382.2 L312.5,383.1 L313.1,383.7 L314.0,383.9 L314.9,383.7 L315.5,383.1 L315.7,382.2 L315.5,381.4 L314.9,380.7 L314.0,380.5 L313.1,380.7 Z M316.6,371.2 L316.3,371.9 L316.4,372.5 L316.8,372.8 L317.3,373.0 L317.9,372.7 L316.9,371.3 Z M312.5,374.7 L312.3,375.6 L312.5,376.5 L313.2,377.1 L314.2,377.3 L314.6,377.7 L315.2,377.9 L315.4,378.8 L315.9,379.3 L316.6,379.5 L317.3,379.3 L317.9,378.8 L318.0,378.1 L317.9,377.4 L317.3,376.8 L317.0,376.7 L317.4,376.0 L317.3,375.5 L316.9,375.1 L315.4,374.5 L314.9,374.1 L314.1,373.8 L313.2,374.1 Z M316.5,381.3 L316.3,382.0 L316.5,382.8 L317.0,383.3 L317.8,383.5 L318.5,383.3 L319.0,382.8 L319.2,382.0 L319.0,381.3 L318.5,380.8 L317.8,380.6 L317.0,380.8 Z" fill="#8650c8"/>
<path d="M310.8,370.7 L310.8,371.4 L311.2,371.7 L311.6,371.8 L311.5,372.4 L311.7,373.1 L312.2,373.6 L312.8,373.8 L313.5,373.6 L314.0,373.1 L314.2,372.4 L314.0,371.7 L313.5,371.2 L312.8,371.0 L312.5,371.1 L312.3,370.3 Z M313.0,374.3 L311.8,375.6 L311.7,376.2 L311.8,376.9 L312.3,377.4 L313.0,377.6 L313.7,377.4 L314.2,376.9 L314.8,375.3 L314.6,374.7 L314.2,374.3 L313.6,374.1 Z M318.6,375.3 L318.4,375.9 L318.6,376.5 L319.1,377.0 L319.7,377.2 L320.1,377.0 L319.4,374.8 Z M308.4,377.7 L307.9,378.2 L307.8,378.8 L307.9,379.5 L308.4,380.0 L309.1,380.1 L309.7,380.0 L310.2,379.5 L310.4,378.8 L310.2,378.2 L309.7,377.7 L309.1,377.5 Z M318.3,378.8 L317.8,379.2 L317.8,380.1 L317.3,380.4 L317.2,380.8 L317.3,381.1 L317.9,381.5 L318.3,381.4 L318.6,380.9 L319.4,380.8 L319.8,380.4 L320.0,379.8 L319.8,379.2 L319.4,378.8 L318.8,378.6 Z M311.0,384.9 L310.8,385.4 L311.1,386.1 L312.2,386.5 L314.2,386.4 L314.1,385.5 L313.7,385.1 L312.9,385.0 L312.5,384.5 L311.9,384.3 L311.4,384.5 Z" fill="#c4a6ea"/>
<path d="M343.5,388.5 L343.0,390.9 L342.5,393.4 L341.1,395.5 L339.5,397.4 L337.3,398.6 L334.9,399.0 L332.7,399.5 L330.4,399.1 L328.0,399.3 L325.8,398.4 L323.8,397.0 L322.1,395.3 L321.3,393.0 L320.7,390.8 L320.1,388.5 L320.0,386.0 L320.5,383.6 L321.7,381.4 L323.6,379.8 L325.6,378.3 L327.9,377.3 L330.3,377.0 L332.6,377.6 L334.9,378.1 L336.9,379.1 L339.0,380.2 L340.7,381.9 L342.1,383.8 L342.8,386.1 Z" fill="#a474da"/>
<path d="M326.3,378.0 L326.8,378.7 L327.3,378.8 L327.8,378.7 L328.2,378.3 L328.4,377.7 L328.2,377.3 Z M322.9,381.7 L322.7,382.3 L322.9,382.9 L323.3,383.3 L323.9,383.5 L324.5,383.3 L325.0,382.9 L325.1,382.3 L325.0,381.7 L324.5,381.3 L323.9,381.1 L323.3,381.3 Z M326.6,384.5 L326.4,385.4 L326.6,386.2 L327.2,386.8 L328.1,387.0 L328.9,386.8 L329.6,386.2 L329.8,385.2 L329.7,384.5 L328.9,383.9 L328.1,383.7 L327.2,383.9 Z M320.3,389.2 L321.0,392.0 L321.6,391.8 L322.2,391.3 L322.4,390.5 L322.2,389.8 L321.6,389.2 L320.9,389.0 Z M325.6,390.7 L325.4,391.5 L325.6,392.4 L326.2,393.0 L327.0,393.2 L327.9,393.0 L328.5,392.3 L329.0,392.8 L330.0,393.0 L330.9,392.8 L331.6,392.1 L331.8,391.2 L331.6,390.2 L330.9,389.6 L330.0,389.3 L329.0,389.6 L328.3,390.5 L327.9,390.1 L327.0,389.9 L326.2,390.1 Z M321.7,392.1 L321.5,393.0 L321.7,393.9 L322.4,394.5 L323.3,394.7 L324.1,394.5 L324.8,393.9 L325.0,393.0 L324.8,392.1 L324.1,391.4 L323.3,391.2 L322.4,391.4 Z M332.0,378.9 L331.7,379.9 L332.0,380.8 L332.7,381.5 L334.6,381.8 L335.3,381.6 L335.9,381.0 L336.1,380.2 L335.9,379.4 L334.5,378.3 L333.6,378.0 L332.7,378.3 Z M341.1,391.0 L340.9,391.6 L341.1,392.3 L341.5,392.8 L342.2,392.9 L342.6,392.8 L343.0,390.7 L342.2,390.3 L341.5,390.5 Z" fill="#8650c8"/>
<path d="M322.9,381.0 L323.4,381.5 L324.0,381.6 L324.7,381.5 L325.2,381.0 L325.4,380.3 L325.2,379.6 L324.6,379.1 L322.7,380.5 Z M339.6,386.0 L339.2,386.5 L339.0,387.1 L339.2,387.6 L339.6,388.1 L340.2,388.2 L340.7,388.1 L341.2,387.6 L341.3,387.1 L341.2,386.5 L340.7,386.0 L340.2,385.9 Z M333.6,386.4 L333.2,386.8 L333.1,387.3 L333.2,387.8 L333.6,388.1 L334.1,388.3 L334.6,388.1 L334.9,387.8 L335.1,387.3 L334.9,386.8 L334.6,386.4 L334.1,386.3 Z M327.9,388.7 L327.7,389.3 L327.9,389.9 L328.3,390.4 L329.0,390.5 L329.6,390.4 L330.0,389.9 L330.2,389.3 L330.0,388.7 L329.6,388.2 L329.0,388.1 L328.3,388.2 Z M324.4,390.9 L324.3,391.3 L324.7,392.0 L325.1,392.1 L325.8,391.7 L325.9,391.3 L325.5,390.6 L325.1,390.5 Z M331.2,390.9 L330.9,391.3 L330.9,392.1 L331.2,392.5 L332.1,392.5 L332.5,392.1 L332.5,391.3 L332.1,390.9 Z M333.1,392.8 L332.8,393.1 L332.6,393.6 L332.8,394.0 L333.1,394.3 L333.5,394.5 L334.0,394.3 L334.3,394.0 L334.5,393.6 L334.3,393.1 L334.0,392.8 L333.5,392.7 Z M337.8,392.7 L337.4,393.1 L337.2,393.7 L337.4,394.2 L337.8,394.6 L338.4,394.8 L338.9,394.6 L339.3,394.2 L339.5,393.7 L339.3,393.1 L338.9,392.7 L338.4,392.5 Z M323.1,395.5 L323.3,394.8 L323.1,394.2 L322.7,393.7 L322.0,393.5 L321.6,393.7 L322.1,395.3 L322.7,395.9 Z M325.4,395.5 L325.2,395.9 L325.7,396.6 L326.1,396.8 L326.8,396.3 L326.9,395.9 L326.5,395.2 L326.1,395.1 Z" fill="#c4a6ea"/>
<path d="M381.1,356.0 L381.2,358.2 L380.4,360.1 L379.5,361.8 L378.3,363.1 L376.9,364.0 L375.6,364.6 L374.2,364.9 L372.8,365.5 L371.1,365.8 L369.4,365.5 L368.2,363.9 L367.0,362.3 L366.6,360.1 L366.0,358.1 L366.1,356.0 L366.0,353.9 L366.5,351.9 L367.4,350.1 L368.6,348.7 L369.8,347.4 L371.2,346.6 L372.8,346.5 L374.3,346.2 L375.8,346.7 L377.2,347.4 L378.6,348.4 L379.8,349.9 L380.6,351.8 L381.0,353.9 Z" fill="#a474da"/>
<path d="M368.3,350.8 L367.6,351.5 L367.4,352.4 L367.6,353.3 L368.0,353.7 L367.9,354.0 L368.1,354.8 L367.8,354.5 L367.0,354.2 L366.0,354.6 L366.1,357.0 L367.0,357.4 L367.8,357.2 L368.3,356.6 L368.5,355.8 L368.3,355.1 L368.7,355.4 L369.4,355.6 L370.2,355.4 L370.8,354.8 L371.0,354.0 L370.8,353.4 L371.1,352.4 L370.8,351.5 L370.2,350.8 L369.2,350.5 Z M372.1,354.7 L371.9,355.7 L372.1,356.6 L372.8,357.3 L373.8,357.6 L374.7,357.3 L375.4,356.6 L375.7,355.7 L375.4,354.7 L374.7,354.0 L373.8,353.8 L372.8,354.0 Z M366.6,359.2 L366.5,359.7 L366.8,361.3 L367.3,361.7 L368.2,362.0 L369.1,361.7 L369.8,361.1 L370.1,360.1 L369.8,359.2 L369.1,358.5 L368.2,358.3 L367.3,358.5 Z M371.6,363.7 L371.6,364.5 L371.9,364.8 L372.7,364.8 L373.0,364.5 L373.0,363.7 L372.7,363.4 L371.9,363.4 Z M379.2,349.2 L378.6,349.6 L378.5,350.1 L378.6,350.6 L379.0,350.9 L379.4,351.0 L379.9,350.9 L380.1,350.7 L379.8,349.9 Z M374.6,350.4 L374.4,351.2 L374.6,352.0 L374.9,352.2 L374.7,353.0 L374.9,353.8 L375.4,354.3 L376.1,354.5 L376.9,354.3 L377.2,353.9 L377.5,354.2 L378.4,354.4 L378.9,354.3 L379.0,355.1 L379.3,355.4 L379.8,355.5 L380.3,355.4 L380.6,355.1 L380.8,354.6 L380.6,354.1 L380.3,353.7 L379.8,353.6 L380.1,352.7 L379.9,351.8 L379.2,351.2 L378.4,350.9 L377.6,351.2 L377.4,350.4 L376.8,349.8 L376.0,349.6 L375.2,349.8 Z M376.0,360.0 L375.8,360.7 L376.0,361.4 L376.5,361.9 L377.2,362.1 L377.9,361.9 L378.4,361.4 L378.6,360.7 L378.4,360.0 L377.9,359.5 L377.2,359.3 L376.5,359.5 Z" fill="#8650c8"/>
<path d="M375.5,347.1 L375.1,347.9 L375.2,348.3 L375.9,348.7 L376.4,348.6 L376.8,347.9 L376.7,347.4 L375.9,347.0 Z M374.9,348.7 L374.5,349.4 L374.6,349.8 L374.9,350.1 L375.4,350.2 L375.5,350.6 L376.0,351.1 L376.7,351.3 L377.3,351.1 L377.8,350.6 L378.0,349.9 L377.8,349.3 L377.3,348.8 L376.7,348.6 L375.9,348.9 L375.3,348.6 Z M371.0,350.3 L371.1,350.9 L371.6,351.4 L373.1,351.9 L373.8,351.7 L374.3,351.2 L374.5,350.6 L374.3,349.9 L373.8,349.4 L372.2,349.1 L371.6,349.3 L371.1,349.7 Z M369.4,355.5 L369.0,355.9 L368.9,356.5 L369.0,357.0 L369.4,357.5 L370.0,357.6 L370.6,357.5 L371.0,357.0 L371.1,356.5 L371.0,355.9 L370.6,355.5 L370.0,355.3 Z M380.2,357.3 L379.8,357.8 L379.6,358.3 L379.8,358.9 L380.2,359.3 L380.7,359.5 L381.2,358.2 L381.2,357.3 L380.8,357.2 Z M373.1,359.5 L372.8,359.8 L372.8,360.7 L373.1,361.0 L374.0,361.0 L374.3,360.7 L374.3,359.8 L374.0,359.5 Z M374.8,362.6 L374.7,363.0 L374.3,362.5 L373.7,362.4 L373.1,362.5 L372.7,363.0 L372.5,363.6 L372.7,364.2 L373.1,364.6 L373.7,364.8 L374.3,364.6 L374.8,363.9 L375.3,364.4 L375.9,364.5 L377.1,363.8 L377.3,363.2 L377.1,362.6 L376.6,362.1 L376.0,361.9 L375.3,362.1 Z" fill="#c4a6ea"/>
<path d="M384.7,383.5 L384.9,385.7 L384.1,387.7 L383.4,389.8 L382.0,391.2 L380.5,392.2 L379.0,393.0 L377.3,393.5 L375.7,393.3 L374.2,392.5 L372.7,391.7 L371.6,390.3 L370.4,389.1 L369.5,387.4 L368.6,385.6 L368.2,383.5 L368.0,381.2 L368.7,379.2 L369.3,377.0 L370.9,375.7 L372.5,374.8 L374.2,374.5 L375.7,374.2 L377.3,373.9 L378.9,374.4 L380.4,375.0 L381.7,376.3 L382.8,377.8 L383.5,379.6 L384.3,381.4 Z" fill="#a474da"/>
<path d="M369.7,377.3 L369.1,377.8 L368.9,378.5 L369.1,379.2 L369.7,379.8 L370.4,380.0 L371.1,379.8 L371.7,379.2 L371.9,378.5 L371.7,377.8 L371.1,377.3 L370.4,377.1 Z M370.9,381.6 L370.6,382.6 L370.9,383.5 L371.7,384.3 L371.8,385.1 L372.2,385.5 L372.7,385.6 L373.2,385.5 L373.6,385.1 L373.7,384.6 L373.6,384.1 L374.2,383.5 L374.4,382.6 L374.2,381.6 L373.5,380.9 L372.5,380.7 L371.6,380.9 Z M370.7,386.1 L370.2,386.6 L370.0,387.5 L369.8,387.9 L370.4,389.1 L371.8,390.4 L372.3,390.3 L373.0,389.6 L373.2,388.7 L373.0,387.3 L372.1,386.1 L371.4,385.9 Z M377.7,382.6 L377.2,383.1 L377.1,383.7 L377.2,384.3 L376.9,384.0 L376.2,383.8 L375.4,384.0 L374.4,384.9 L374.2,385.6 L374.4,386.3 L374.9,386.8 L375.6,386.9 L376.9,386.5 L377.5,386.0 L377.7,385.3 L377.5,384.5 L378.3,384.9 L378.9,384.7 L379.3,384.3 L379.5,383.7 L379.3,383.1 L378.9,382.6 L378.3,382.5 Z M374.3,388.1 L373.9,388.5 L373.9,389.3 L373.2,389.9 L373.0,390.7 L373.2,391.4 L373.8,392.0 L374.5,392.2 L375.3,392.0 L375.5,391.8 L375.6,392.1 L376.3,392.8 L377.3,393.1 L378.2,392.8 L378.9,392.1 L379.1,391.2 L378.9,390.3 L378.2,389.6 L377.3,389.3 L376.3,389.6 L375.9,390.0 L375.5,389.5 L375.7,388.9 L375.6,388.5 L375.2,388.1 L374.8,388.0 Z" fill="#8650c8"/>
<path d="M378.2,374.6 L377.9,374.9 L377.9,375.8 L378.2,376.1 L379.1,376.1 L379.4,375.8 L379.4,374.9 L379.1,374.6 Z M381.2,376.4 L380.9,377.0 L381.0,377.3 L381.6,377.7 L381.9,377.6 L382.2,377.0 L381.8,376.4 Z M374.0,379.1 L373.6,379.5 L373.5,380.0 L373.6,380.5 L374.0,380.9 L374.5,381.0 L375.0,380.9 L375.4,380.5 L375.5,380.0 L375.4,379.5 L375.0,379.1 L374.5,379.0 Z M373.8,382.7 L373.9,383.2 L374.3,383.5 L374.9,383.6 L375.4,384.2 L376.1,384.3 L376.7,384.2 L377.2,383.7 L377.4,383.0 L377.2,382.4 L376.7,381.9 L376.1,381.8 L375.4,381.9 L374.8,381.7 L374.3,381.8 L373.9,382.2 Z M370.0,382.3 L369.5,382.8 L369.4,383.5 L369.5,384.2 L370.0,384.6 L370.7,384.8 L371.4,384.6 L371.8,384.2 L372.0,383.5 L371.8,382.8 L371.4,382.3 L370.7,382.2 Z M383.0,382.8 L381.8,383.9 L381.7,384.5 L381.8,385.1 L382.3,385.5 L382.9,385.7 L383.5,385.5 L384.2,384.9 L384.7,384.5 L384.7,384.1 L384.6,383.3 L384.2,382.8 L383.6,382.6 Z M379.1,383.0 L378.8,383.4 L378.6,383.9 L378.8,384.5 L379.1,384.9 L379.7,385.0 L380.2,384.9 L380.6,384.5 L380.7,383.9 L380.6,383.4 L380.2,383.0 L379.7,382.9 Z M377.3,392.1 L377.1,392.9 L377.3,393.5 L379.0,393.0 L380.0,392.5 L379.9,392.1 L379.4,391.6 L378.6,391.4 L377.9,391.6 Z" fill="#c4a6ea"/>
<path d="M393.9,408.5 L393.5,410.3 L393.1,412.1 L392.2,413.7 L391.1,415.1 L389.4,415.7 L387.9,416.2 L386.3,416.4 L384.7,416.4 L383.2,416.1 L381.5,415.9 L380.2,414.8 L378.8,413.7 L378.1,412.0 L377.4,410.3 L377.4,408.5 L377.4,406.7 L377.8,404.9 L379.0,403.5 L380.2,402.3 L381.5,401.1 L383.1,400.6 L384.7,400.4 L386.3,400.4 L387.9,400.8 L389.3,401.4 L390.7,402.3 L392.0,403.5 L393.2,404.9 L393.8,406.6 Z" fill="#a474da"/>
<path d="M379.0,403.8 L379.6,404.4 L380.4,404.6 L381.2,404.4 L381.8,403.8 L382.1,402.9 L381.8,402.1 L381.1,401.5 L379.0,403.5 Z M386.9,404.6 L386.8,405.1 L386.9,405.6 L387.3,405.9 L387.8,406.1 L388.3,405.9 L388.7,405.6 L388.8,405.1 L388.7,404.6 L388.3,404.2 L387.8,404.1 L387.3,404.2 Z M377.4,406.8 L377.9,406.9 L378.3,406.8 L378.7,406.4 L378.8,406.0 L378.7,405.5 L378.3,405.1 L377.8,405.0 Z M379.7,406.9 L379.2,407.4 L379.0,408.2 L379.2,409.9 L379.8,410.5 L380.5,410.7 L381.3,410.5 L381.8,409.9 L382.0,409.2 L381.7,407.4 L381.1,406.9 L380.4,406.7 Z M387.7,409.5 L387.5,410.1 L387.7,410.6 L388.1,411.1 L388.6,411.2 L389.2,411.1 L389.6,410.6 L389.7,410.1 L389.6,409.5 L389.2,409.1 L388.6,409.0 L388.1,409.1 Z M391.5,404.9 L391.0,405.4 L390.8,406.1 L391.0,406.8 L391.5,407.3 L392.2,407.5 L392.9,407.3 L393.4,406.8 L393.6,406.1 L393.3,405.3 L392.9,404.9 L392.2,404.7 Z M388.2,406.0 L387.4,406.6 L387.2,407.4 L387.4,408.2 L388.0,408.8 L388.8,409.0 L389.9,408.8 L390.5,408.2 L390.7,407.4 L390.5,406.6 L389.9,406.0 L389.1,405.7 Z M391.7,407.8 L391.1,408.4 L390.9,409.2 L391.1,410.0 L391.9,410.7 L392.0,410.9 L391.3,411.5 L391.1,412.2 L391.3,412.9 L391.8,413.4 L392.3,413.5 L393.1,412.1 L393.9,408.7 L393.3,407.8 L392.5,407.6 Z" fill="#8650c8"/>
<path d="M386.1,400.8 L385.6,401.3 L385.4,402.0 L385.6,402.7 L386.1,403.2 L386.8,403.4 L387.5,403.2 L388.0,402.7 L388.1,402.0 L388.0,401.3 L387.5,400.8 L386.8,400.6 Z M378.4,404.2 L379.1,404.5 L379.6,404.4 L380.0,404.0 L380.2,403.5 L379.8,402.7 Z M384.3,404.8 L383.9,405.2 L383.7,405.7 L384.0,406.7 L384.7,407.1 L385.2,407.0 L385.7,406.2 L385.9,405.7 L385.7,405.2 L385.3,404.8 L384.8,404.6 Z M379.7,407.1 L379.6,407.5 L380.0,408.2 L380.4,408.3 L381.1,407.9 L381.2,407.5 L380.8,406.8 L380.4,406.7 Z M390.1,407.5 L389.7,407.9 L389.5,408.5 L389.6,408.9 L388.8,408.6 L388.1,408.8 L387.7,409.2 L387.5,409.9 L387.0,409.7 L386.9,409.0 L386.5,408.6 L385.9,408.4 L385.4,408.6 L385.0,409.0 L384.8,409.5 L385.1,410.3 L384.7,410.4 L384.3,410.7 L384.2,411.2 L384.3,411.7 L384.7,412.0 L385.2,412.2 L385.7,412.0 L385.9,412.3 L386.7,412.5 L387.4,412.3 L387.9,411.8 L388.1,411.0 L388.8,411.2 L389.5,411.0 L389.9,410.6 L390.1,409.9 L390.0,409.3 L390.6,409.6 L391.2,409.4 L391.6,409.0 L391.7,408.5 L391.6,407.9 L391.2,407.5 L390.6,407.4 Z" fill="#c4a6ea"/>
</g></g>
<g clip-path="url(#clip5)"><g filter="url(#soft)">
<rect x="416.7" y="319.2" width="101.5" height="101.9" fill="#dfdfdc"/>
<path d="M435.0,350.0 L435.1,356.0 L434.4,361.7 L433.8,367.9 L432.2,372.3 L430.0,374.2 L428.0,375.5 L426.0,376.8 L424.0,376.0 L422.1,375.2 L420.2,373.1 L418.6,369.9 L417.2,365.9 L415.9,361.3 L415.4,355.7 L414.4,350.0 L414.5,343.8 L414.9,337.4 L416.1,331.9 L418.0,328.2 L419.8,324.9 L422.0,324.6 L424.1,325.0 L425.9,325.3 L427.8,325.7 L429.7,327.2 L431.5,329.8 L433.5,332.8 L434.7,337.9 L434.9,344.1 Z" fill="#d5d7e6" stroke="#a2a7cc" stroke-width="0.7"/>
<path d="M439.8,395.0 L439.9,399.6 L438.7,403.7 L437.6,407.8 L435.3,409.9 L433.5,412.3 L431.4,414.4 L429.3,417.1 L426.7,417.7 L424.0,417.5 L421.5,415.5 L419.3,412.6 L417.9,408.4 L417.1,403.9 L416.6,399.5 L416.8,395.0 L417.3,390.8 L417.5,386.5 L418.6,382.5 L420.0,378.8 L421.9,375.5 L424.3,373.9 L426.7,372.8 L429.3,372.6 L431.8,373.5 L434.3,375.0 L436.1,378.6 L437.8,381.9 L439.0,386.0 L439.6,390.5 Z" fill="#d5d7e6" stroke="#a2a7cc" stroke-width="0.7"/>
<path d="M453.1,370.0 L453.3,373.0 L452.5,376.0 L451.0,378.6 L449.1,380.9 L446.6,382.3 L443.9,383.1 L441.3,383.5 L438.7,383.4 L436.0,383.1 L433.8,381.5 L431.9,379.6 L430.3,377.6 L428.4,375.5 L427.0,373.0 L425.8,370.0 L426.2,366.8 L427.1,363.8 L429.0,361.4 L431.2,359.5 L433.7,358.3 L436.2,357.4 L438.7,356.7 L441.3,356.6 L443.8,357.4 L446.3,358.3 L448.4,359.9 L450.4,361.8 L452.3,364.1 L452.8,367.1 Z" fill="#d5d7e6" stroke="#a2a7cc" stroke-width="0.7"/>
<path d="M475.5,376.0 L475.8,379.4 L475.1,382.7 L473.2,385.6 L471.0,388.2 L468.2,390.2 L465.1,391.8 L461.6,391.5 L458.4,391.6 L455.2,390.8 L452.3,389.4 L449.6,387.6 L447.8,384.9 L446.1,382.2 L444.7,379.2 L444.1,376.0 L444.4,372.7 L444.7,369.2 L446.3,366.1 L448.4,363.2 L451.7,361.6 L455.0,360.5 L458.3,360.2 L461.6,360.3 L464.8,361.4 L467.7,362.6 L470.5,364.4 L472.8,366.7 L474.3,369.6 L475.8,372.7 Z" fill="#d5d7e6" stroke="#a2a7cc" stroke-width="0.7"/>
<path d="M465.0,400.0 L465.8,402.5 L465.0,404.9 L464.3,407.6 L462.1,409.7 L459.6,411.3 L456.6,412.1 L453.5,411.9 L450.6,411.3 L448.0,410.6 L445.3,410.0 L442.8,408.8 L440.8,407.0 L439.2,404.9 L438.4,402.5 L438.4,400.0 L438.7,397.6 L439.0,395.0 L440.6,392.9 L442.2,390.7 L444.7,389.1 L447.5,388.2 L450.5,388.1 L453.5,388.0 L456.5,388.2 L459.0,389.6 L461.5,391.0 L462.7,393.4 L464.2,395.3 L464.4,397.7 Z" fill="#d5d7e6" stroke="#a2a7cc" stroke-width="0.7"/>
<path d="M461.6,414.0 L461.8,415.7 L460.6,417.2 L459.5,418.8 L457.3,419.9 L454.9,420.9 L452.4,421.7 L449.5,422.2 L446.5,422.3 L443.4,422.1 L440.7,421.2 L438.9,419.8 L436.8,418.6 L436.0,417.1 L435.0,415.6 L434.7,414.0 L434.8,412.4 L435.3,410.8 L435.8,408.9 L437.6,407.4 L440.4,406.5 L443.6,406.2 L446.5,405.9 L449.4,406.1 L452.3,406.5 L455.0,407.0 L457.5,408.0 L459.3,409.3 L460.4,410.8 L461.4,412.4 Z" fill="#d5d7e6" stroke="#a2a7cc" stroke-width="0.7"/>
<path d="M474.6,332.0 L475.5,334.1 L474.6,336.0 L473.2,337.8 L471.3,339.4 L469.0,340.7 L466.5,341.8 L463.5,342.4 L460.4,342.8 L457.4,342.1 L454.7,341.0 L452.5,339.5 L451.1,337.6 L449.7,335.9 L448.6,334.0 L449.0,332.0 L449.2,330.1 L450.3,328.3 L451.0,326.3 L453.0,324.9 L455.1,323.4 L457.5,322.1 L460.5,321.6 L463.6,321.3 L466.8,321.5 L469.6,322.6 L471.7,324.3 L472.9,326.4 L473.5,328.3 L474.1,330.2 Z" fill="#d5d7e6" stroke="#a2a7cc" stroke-width="0.7"/>
<path d="M494.6,345.0 L493.7,347.5 L493.0,350.0 L491.4,352.3 L489.1,354.2 L485.7,355.0 L482.7,355.7 L479.6,356.1 L476.4,356.6 L473.0,356.5 L470.0,355.4 L467.7,353.6 L465.5,351.8 L463.9,349.7 L462.1,347.5 L460.8,345.0 L461.2,342.3 L462.6,339.9 L465.0,337.9 L467.6,336.3 L470.2,334.9 L473.4,334.4 L476.4,333.7 L479.6,333.9 L482.6,334.3 L485.7,335.0 L489.0,335.8 L491.8,337.5 L493.6,339.8 L494.6,342.3 Z" fill="#d5d7e6" stroke="#a2a7cc" stroke-width="0.7"/>
<path d="M513.9,345.0 L514.3,348.0 L513.1,350.8 L511.7,353.5 L510.0,356.2 L507.4,357.8 L504.2,358.0 L501.4,358.3 L498.6,358.5 L495.9,357.5 L493.2,356.7 L490.7,355.3 L488.7,353.2 L487.5,350.6 L485.9,348.0 L485.3,345.0 L485.7,342.0 L486.6,339.0 L488.1,336.4 L490.3,334.2 L493.0,332.8 L495.9,332.3 L498.6,331.2 L501.4,331.3 L504.4,331.5 L507.1,332.7 L509.2,334.8 L511.3,336.8 L512.9,339.3 L513.4,342.2 Z" fill="#d5d7e6" stroke="#a2a7cc" stroke-width="0.7"/>
<path d="M510.1,370.0 L509.0,373.0 L507.4,375.5 L506.0,378.0 L503.7,379.7 L501.9,382.0 L499.4,383.5 L496.5,383.9 L493.6,383.7 L490.9,382.6 L488.4,381.5 L485.6,380.4 L483.4,378.5 L481.7,375.9 L481.1,373.0 L480.4,370.0 L480.6,366.9 L481.5,364.0 L483.0,361.3 L485.3,359.2 L488.0,357.9 L491.0,357.7 L493.7,357.8 L496.3,357.2 L499.0,357.8 L501.8,358.3 L504.6,359.3 L507.4,361.0 L509.2,363.7 L510.0,366.8 Z" fill="#d5d7e6" stroke="#a2a7cc" stroke-width="0.7"/>
<path d="M495.8,385.0 L495.7,387.1 L495.0,389.0 L494.3,391.2 L492.8,392.9 L490.6,393.9 L488.6,394.9 L486.2,395.2 L483.8,395.0 L481.6,394.6 L479.5,393.7 L477.9,392.2 L476.6,390.6 L475.6,388.8 L474.8,387.0 L474.4,385.0 L474.2,382.9 L474.5,380.8 L475.2,378.5 L476.8,376.7 L479.0,375.6 L481.6,375.4 L483.9,375.1 L486.1,375.4 L488.3,375.7 L490.5,376.4 L492.1,377.8 L493.5,379.4 L494.5,381.2 L495.2,383.0 Z" fill="#d5d7e6" stroke="#a2a7cc" stroke-width="0.7"/>
<path d="M498.8,400.0 L498.5,402.4 L498.1,405.0 L496.8,407.1 L495.1,409.0 L493.0,410.4 L490.7,411.3 L488.3,412.2 L485.7,412.6 L483.1,411.9 L480.6,411.1 L478.9,409.0 L477.3,407.0 L476.9,404.5 L476.2,402.3 L475.9,400.0 L475.5,397.6 L476.0,395.1 L477.3,393.0 L478.8,390.9 L480.7,389.1 L483.1,388.1 L485.7,387.5 L488.3,387.3 L490.8,388.2 L492.7,390.1 L494.4,391.7 L496.3,393.3 L497.8,395.2 L498.6,397.5 Z" fill="#d5d7e6" stroke="#a2a7cc" stroke-width="0.7"/>
<path d="M517.7,330.0 L517.2,331.9 L516.9,333.9 L516.1,335.6 L515.1,337.1 L513.8,338.3 L512.4,339.2 L510.8,339.9 L509.1,340.2 L507.5,339.5 L505.9,338.9 L504.5,337.7 L503.2,336.2 L502.4,334.2 L501.9,332.1 L501.6,330.0 L502.2,327.9 L502.9,326.0 L503.8,324.4 L505.1,323.2 L506.2,321.9 L507.7,321.0 L509.2,320.7 L510.8,320.3 L512.6,320.1 L514.3,320.7 L515.8,321.9 L517.3,323.3 L518.0,325.6 L518.0,327.9 Z" fill="#d5d7e6" stroke="#a2a7cc" stroke-width="0.7"/>
<path d="M496,376 Q505,368 518,368 L518,416 Q505,420 498,412 Q492,395 496,376 Z" fill="#c9b4da" opacity="0.6"/>
<path d="M471.6,328.0 L471.3,329.4 L470.7,330.8 L469.9,332.0 L468.8,333.0 L467.3,333.6 L465.8,334.0 L464.4,334.4 L462.8,335.0 L461.0,335.1 L459.1,334.7 L457.7,333.7 L456.9,332.3 L456.3,330.8 L455.7,329.5 L455.8,328.0 L456.3,326.6 L456.6,325.3 L457.6,324.2 L458.6,323.1 L459.6,322.0 L461.1,321.2 L462.7,320.9 L464.5,320.9 L466.1,321.2 L467.7,321.8 L469.1,322.6 L470.2,323.8 L471.0,325.1 L471.6,326.5 Z" fill="#6c48c4"/>
<path d="M462.4,321.4 L462.2,322.2 L462.4,323.0 L463.0,323.5 L463.8,323.7 L464.6,323.5 L465.2,323.0 L465.3,323.5 L465.7,323.9 L466.2,324.0 L466.8,323.9 L467.2,323.5 L467.3,322.9 L467.2,322.4 L466.8,322.0 L466.2,321.8 L465.7,322.0 L465.4,322.3 L465.2,321.4 L464.8,321.0 L462.9,320.9 Z M461.0,323.5 L460.4,324.0 L460.2,324.8 L460.4,325.5 L461.0,326.0 L461.7,326.2 L462.4,326.0 L462.9,325.5 L463.1,324.8 L462.9,324.0 L462.4,323.5 L461.7,323.3 Z M466.1,324.7 L465.7,325.1 L465.6,325.7 L465.7,326.2 L466.1,326.6 L466.6,326.7 L467.2,326.6 L467.6,326.2 L467.7,325.7 L467.6,325.1 L467.2,324.7 L466.6,324.6 Z M466.1,328.4 L465.7,328.8 L465.5,329.4 L465.7,330.0 L466.1,330.5 L466.7,330.6 L467.3,330.5 L467.7,330.0 L467.9,329.4 L467.7,328.8 L467.3,328.4 L466.7,328.2 Z M462.6,329.1 L462.1,329.6 L462.0,330.2 L462.1,330.9 L462.6,331.3 L463.3,331.5 L463.9,331.3 L464.4,330.9 L464.6,330.2 L464.4,329.6 L463.9,329.1 L463.3,328.9 Z M457.9,333.1 L457.6,333.4 L457.7,333.7 L458.7,334.4 L459.0,334.1 L459.0,333.4 L458.7,333.1 Z" fill="#5a36b0"/>
<path d="M462.4,322.1 L461.8,322.4 L461.7,322.8 L462.1,323.4 L462.4,323.5 L463.1,323.2 L463.2,322.8 L462.8,322.1 Z M465.6,322.2 L465.1,322.3 L464.7,322.7 L464.6,323.2 L464.7,323.7 L465.1,324.1 L465.6,324.2 L466.1,324.1 L466.5,323.7 L466.6,323.2 L466.5,322.7 L466.1,322.3 Z M466.3,325.2 L465.9,325.3 L465.5,325.9 L465.6,326.3 L466.3,326.7 L466.7,326.6 L467.0,325.9 L466.9,325.5 Z M468.3,325.8 L467.9,326.6 L468.0,327.0 L468.7,327.4 L469.1,327.3 L469.5,326.6 L469.4,326.1 L468.7,325.7 Z M464.8,327.0 L464.5,327.2 L464.5,328.0 L464.8,328.3 L465.6,328.3 L465.9,328.0 L465.9,327.2 L465.6,327.0 Z" fill="#a890e0"/>
<path d="M488.6,343.1 L488.1,344.8 L487.4,346.4 L486.4,348.0 L484.8,349.3 L482.9,350.4 L480.7,351.2 L478.3,351.1 L476.0,351.0 L473.8,350.4 L472.1,349.4 L470.5,348.4 L469.0,347.4 L467.2,346.3 L465.9,344.8 L465.6,343.1 L465.4,341.3 L466.4,339.7 L467.8,338.2 L469.6,337.0 L471.5,336.0 L473.7,335.5 L476.0,335.5 L478.2,335.7 L480.2,336.1 L482.3,336.5 L484.4,337.2 L485.7,338.6 L487.1,339.9 L488.3,341.4 Z" fill="#7650c8"/>
<path d="M482.1,337.1 L482.3,337.7 L482.7,338.1 L483.3,338.3 L483.9,338.1 L484.4,337.3 L482.3,336.5 Z M471.2,339.8 L470.9,340.0 L470.3,340.2 L469.9,340.6 L469.8,341.5 L469.5,342.2 L469.7,342.7 L470.0,343.1 L470.5,343.2 L470.6,343.7 L471.2,344.3 L471.9,344.5 L472.7,344.3 L473.3,343.7 L473.5,343.0 L473.3,342.2 L472.8,341.7 L473.1,340.9 L472.9,340.2 L472.5,339.8 L471.8,339.6 Z M483.5,341.6 L483.3,342.2 L483.6,342.9 L483.6,343.7 L484.2,344.1 L484.6,344.0 L484.9,343.3 L485.5,342.8 L485.7,342.2 L485.5,341.6 L485.1,341.2 L484.5,341.1 L483.9,341.2 Z M466.2,341.9 L465.7,342.7 L465.8,343.1 L466.6,343.6 L467.1,343.5 L467.5,342.7 L467.4,342.2 L466.6,341.8 Z M480.7,345.7 L480.7,346.5 L481.0,346.8 L481.8,346.8 L482.1,346.5 L482.1,345.7 L481.8,345.4 L481.0,345.4 Z M468.9,346.0 L468.9,346.8 L469.2,347.1 L469.9,347.1 L470.2,346.8 L470.2,346.0 L469.9,345.8 L469.2,345.8 Z" fill="#5a36b0"/>
<path d="M466.0,341.6 L466.5,341.5 L466.9,341.1 L467.1,340.5 L466.9,340.0 L466.5,339.6 L465.4,341.3 L465.4,341.5 Z M486.5,340.6 L486.2,341.2 L486.3,341.5 L486.9,341.8 L487.2,341.7 L487.5,341.2 L487.4,340.9 L486.9,340.6 Z M477.1,342.1 L476.8,342.5 L476.7,343.0 L476.8,343.5 L477.1,343.8 L477.6,344.0 L478.1,343.8 L478.5,343.5 L478.6,343.0 L478.5,342.5 L478.1,342.1 L477.6,342.0 Z M465.8,344.1 L465.9,344.8 L467.1,346.1 L467.4,345.8 L467.6,345.2 L467.4,344.6 L467.0,344.1 L466.3,343.9 Z M484.4,344.9 L484.1,345.2 L484.1,345.9 L484.4,346.1 L485.0,346.1 L485.3,345.9 L485.3,345.2 L485.0,344.9 Z M471.2,346.9 L471.0,347.2 L471.0,348.0 L471.6,348.4 L472.0,348.3 L472.4,347.6 L472.3,347.2 L472.0,346.9 Z M482.5,349.4 L482.3,349.8 L482.3,350.1 L482.8,350.3 L483.0,350.2 L483.3,349.8 L483.2,349.6 L482.8,349.3 Z M476.3,350.0 L476.0,350.2 L476.0,350.8 L476.2,351.0 L476.9,351.0 L477.2,350.5 L477.1,350.2 L476.9,350.0 Z" fill="#a890e0"/>
<path d="M507.8,345.4 L507.5,346.6 L506.9,347.6 L506.5,348.6 L505.9,349.6 L505.2,350.3 L504.3,351.1 L503.4,351.7 L502.3,351.6 L501.2,351.3 L500.2,350.8 L499.5,349.8 L498.7,348.9 L497.9,348.0 L497.6,346.7 L497.6,345.4 L498.0,344.2 L498.4,343.1 L499.0,342.1 L499.7,341.3 L500.4,340.4 L501.3,339.9 L502.3,339.6 L503.3,339.4 L504.4,339.5 L505.6,339.7 L506.5,340.5 L507.2,341.6 L507.6,342.8 L507.9,344.1 Z" fill="#3a1aa0"/>
<path d="M506.5,340.5 L506.0,340.9 L505.9,341.4 L505.3,342.0 L505.1,342.8 L505.3,343.6 L505.8,344.1 L506.6,344.3 L507.4,344.1 L507.8,343.7 L507.2,341.6 Z M499.8,341.9 L499.4,342.1 L499.0,342.4 L498.9,342.9 L499.0,343.3 L499.4,343.7 L499.8,343.8 L500.3,343.7 L500.6,343.3 L500.8,342.9 L500.6,342.4 L500.3,342.1 Z M504.2,347.2 L504.1,347.4 L503.6,346.8 L502.9,346.6 L502.3,346.8 L501.8,347.3 L501.6,348.0 L501.8,348.6 L502.3,349.1 L502.9,349.3 L503.6,349.1 L504.1,348.5 L504.7,348.7 L505.1,348.6 L505.4,348.3 L505.4,347.5 L505.1,347.2 Z" fill="#5a36b0"/>
<path d="M507.1,344.0 L506.4,344.0 L506.2,344.2 L506.2,344.9 L506.4,345.1 L507.1,345.1 L507.3,344.9 L507.3,344.2 Z M504.1,349.5 L503.4,349.6 L503.0,350.1 L502.9,350.9 L502.1,350.5 L501.6,350.6 L501.2,351.3 L503.0,351.7 L503.0,351.4 L503.4,351.7 L504.3,351.1 L505.2,350.3 L504.7,349.6 Z" fill="#a890e0"/>
<path d="M518.3,336.0 L518.1,337.5 L517.9,339.0 L517.4,340.3 L516.8,341.4 L516.0,342.2 L515.3,342.9 L514.4,342.8 L513.6,342.7 L512.9,342.0 L512.2,341.4 L511.5,340.8 L510.8,340.0 L510.4,338.8 L510.1,337.4 L509.9,336.0 L510.1,334.5 L510.1,333.0 L510.6,331.6 L511.2,330.5 L511.8,329.4 L512.7,328.9 L513.6,329.0 L514.4,329.1 L515.1,329.9 L515.8,330.4 L516.4,331.3 L517.0,332.1 L517.5,333.3 L517.9,334.5 Z" fill="#4a2ab0"/>
<path d="M512.8,332.7 L512.1,332.9 L511.6,333.4 L511.4,334.1 L511.6,334.8 L512.1,335.3 L512.8,335.4 L513.5,335.3 L514.0,334.8 L514.1,334.1 L514.0,333.4 L513.5,332.9 Z M516.3,333.5 L515.6,333.7 L515.2,334.1 L515.0,334.8 L515.2,335.4 L515.6,335.8 L516.3,336.0 L516.9,335.8 L517.3,335.4 L517.5,334.8 L517.3,334.1 L516.9,333.7 Z M517.4,338.7 L516.8,338.9 L516.4,339.3 L516.3,340.2 L515.8,340.1 L515.1,340.3 L514.6,340.8 L514.4,341.5 L514.6,342.2 L515.1,342.7 L515.3,342.8 L516.8,341.4 L517.4,340.3 L517.9,338.8 Z" fill="#5a36b0"/>
<path d="M511.3,333.5 L510.7,333.1 L510.1,333.4 L510.1,334.3 L510.3,334.5 L511.0,334.5 L511.3,334.2 Z M518.1,337.7 L517.3,337.7 L516.9,338.1 L516.8,338.5 L516.9,339.0 L517.3,339.3 L517.7,339.5 Z M514.4,339.1 L513.7,339.5 L513.6,339.9 L513.7,340.3 L514.4,340.7 L515.0,340.3 L515.1,339.9 L515.0,339.5 Z" fill="#a890e0"/>
<path d="M423.5,346.5 L423.5,348.0 L423.2,349.3 L422.9,350.6 L422.5,351.8 L422.0,352.7 L421.5,353.4 L420.8,353.9 L420.2,353.6 L419.6,353.0 L419.0,352.4 L418.7,351.2 L418.3,350.2 L418.0,349.1 L417.7,347.9 L417.4,346.5 L417.5,345.0 L417.6,343.5 L417.9,342.0 L418.4,341.1 L418.9,340.2 L419.6,339.8 L420.2,339.5 L420.8,339.7 L421.4,340.0 L421.9,340.7 L422.5,341.4 L422.9,342.4 L423.2,343.7 L423.4,345.1 Z" fill="#7a56c8"/>
<path d="M421.6,340.2 L420.6,340.3 L420.2,340.7 L420.0,341.3 L420.2,341.9 L420.6,342.3 L421.2,342.5 L421.8,342.3 L422.2,341.9 L422.4,341.3 Z M419.9,342.8 L419.2,343.0 L418.8,343.5 L418.6,344.2 L418.8,344.8 L419.2,345.3 L419.9,345.5 L420.6,345.3 L420.8,345.1 L420.9,345.6 L421.2,346.0 L421.7,346.1 L422.2,346.0 L422.5,345.6 L422.6,345.2 L422.5,344.7 L422.2,344.4 L421.7,344.3 L421.1,344.5 L421.0,343.5 L420.6,343.0 Z M419.3,348.1 L418.6,348.3 L418.1,348.8 L418.0,349.3 L418.4,350.5 L419.3,350.9 L420.0,350.7 L420.5,350.2 L420.7,349.5 L420.5,348.8 L420.0,348.3 Z" fill="#5a36b0"/>
<path d="M418.0,345.8 L417.4,345.7 L417.6,347.4 L418.3,346.9 L418.4,346.5 Z M421.8,352.2 L421.1,352.2 L420.8,352.5 L420.8,353.3 L421.1,353.6 L421.5,353.4 L422.0,352.7 L422.1,352.5 Z" fill="#a890e0"/>
<path d="M443.3,367.2 L443.5,369.1 L443.1,370.9 L442.6,372.7 L441.8,374.4 L440.6,375.5 L439.2,376.3 L437.8,376.2 L436.4,376.2 L435.1,375.6 L433.8,375.0 L432.8,373.8 L431.9,372.5 L431.7,370.6 L431.3,368.9 L431.2,367.2 L431.0,365.4 L430.9,363.4 L431.4,361.5 L432.3,359.8 L433.7,358.9 L435.0,358.3 L436.4,358.1 L437.8,357.9 L439.1,358.6 L440.2,359.8 L441.2,360.9 L442.0,362.3 L442.6,363.8 L443.2,365.4 Z" fill="#7650c8"/>
<path d="M441.0,361.5 L440.6,361.9 L440.4,362.5 L440.6,363.1 L441.0,363.5 L441.6,363.6 L442.1,363.5 L442.4,363.2 L441.5,361.4 Z M433.1,362.6 L432.6,363.2 L432.4,363.9 L432.6,364.7 L433.0,365.1 L432.3,365.4 L431.9,365.8 L431.7,366.4 L431.9,367.1 L432.3,367.5 L432.9,367.7 L433.6,367.5 L434.0,367.1 L434.3,365.9 L434.2,365.4 L434.7,365.3 L435.3,364.7 L435.5,363.9 L435.3,363.2 L434.7,362.6 L433.9,362.4 Z M430.9,363.6 L431.0,365.4 L431.0,365.5 L431.5,365.4 L431.8,365.0 L431.9,364.5 L431.8,364.1 L431.5,363.7 Z M441.9,366.0 L441.4,366.4 L441.2,367.1 L441.4,367.8 L441.9,368.3 L442.5,368.4 L443.2,368.3 L443.4,368.0 L443.2,366.0 L442.5,365.8 Z M432.7,369.3 L432.3,369.7 L432.2,370.2 L432.3,370.7 L432.7,371.0 L433.2,371.2 L433.7,371.0 L434.0,370.7 L434.2,370.2 L434.0,369.7 L433.7,369.3 L433.2,369.2 Z" fill="#5a36b0"/>
<path d="M440.2,362.9 L439.4,363.4 L439.3,363.8 L439.7,364.6 L440.2,364.7 L440.9,364.3 L441.0,363.8 L440.6,363.1 Z M439.4,368.8 L438.8,369.0 L438.2,369.7 L437.5,369.7 L437.2,370.0 L437.2,370.8 L437.6,371.1 L437.0,371.5 L436.9,371.9 L437.3,372.6 L437.7,372.7 L438.4,372.3 L438.4,371.5 L438.0,371.2 L438.5,370.9 L438.8,371.2 L439.4,371.3 L440.0,371.2 L440.5,370.7 L440.7,370.1 L440.5,369.5 L440.0,369.0 Z M441.4,372.6 L441.1,372.8 L441.1,373.5 L441.4,373.8 L442.0,373.8 L442.4,373.1 L442.3,372.8 L442.0,372.6 Z" fill="#a890e0"/>
<path d="M471.0,377.6 L470.1,379.7 L469.7,381.7 L468.7,383.6 L467.5,385.4 L466.1,387.2 L464.1,388.2 L461.9,388.9 L459.6,389.2 L457.4,388.5 L455.4,387.5 L453.8,385.7 L452.2,384.2 L451.3,382.0 L450.7,379.9 L450.2,377.6 L450.7,375.4 L451.7,373.3 L452.7,371.5 L454.2,369.9 L455.8,368.4 L457.6,367.1 L459.7,366.9 L461.9,366.3 L464.2,366.8 L466.3,367.6 L468.1,369.1 L470.0,370.6 L470.6,373.0 L471.2,375.3 Z" fill="#7c56cc"/>
<path d="M456.3,368.1 L455.9,368.5 L455.7,369.2 L455.9,369.8 L456.3,370.3 L457.0,370.5 L457.6,370.3 L458.1,369.8 L458.3,369.2 L458.1,368.5 L457.6,368.1 L457.0,367.9 Z M453.2,371.3 L453.0,372.1 L453.2,372.9 L453.8,373.5 L454.5,373.7 L455.3,373.5 L455.9,372.9 L456.1,372.1 L455.9,371.3 L455.3,370.8 L454.5,370.6 L453.8,370.8 Z M457.1,372.9 L457.0,373.3 L457.4,374.0 L457.8,374.2 L458.5,373.7 L458.6,373.3 L458.2,372.6 L457.8,372.5 Z M454.5,378.0 L454.2,378.3 L454.0,378.8 L454.2,379.2 L454.5,379.6 L455.0,379.7 L455.4,379.6 L455.8,379.2 L455.9,378.8 L455.8,378.3 L455.4,378.0 L455.0,377.8 Z M456.9,382.7 L456.8,383.1 L456.9,383.6 L457.3,384.0 L457.8,384.1 L458.3,384.0 L458.6,383.6 L458.7,383.1 L458.6,382.7 L458.3,382.3 L457.8,382.2 L457.3,382.3 Z M457.1,385.6 L456.9,386.3 L457.1,386.9 L456.2,386.5 L455.6,386.7 L455.2,387.1 L455.4,387.5 L457.2,388.4 L457.5,387.8 L457.4,387.3 L457.7,387.6 L458.4,387.8 L459.2,387.6 L459.7,387.1 L459.9,386.3 L459.7,385.6 L459.4,385.2 L459.4,384.4 L459.1,384.1 L458.2,384.1 L457.9,384.4 L457.8,385.0 Z M459.8,367.5 L460.0,368.2 L460.5,368.8 L461.2,369.0 L461.9,368.8 L462.5,368.2 L462.7,367.5 L462.5,366.8 L461.9,366.3 L459.9,366.9 Z M466.4,370.4 L466.2,371.1 L466.4,371.9 L467.0,372.4 L467.7,372.6 L468.5,372.4 L469.0,371.9 L469.2,371.1 L469.0,370.4 L468.5,369.8 L467.7,369.6 L467.0,369.8 Z M457.9,374.5 L457.7,375.0 L457.9,375.5 L458.3,375.9 L458.8,376.0 L459.3,375.9 L459.7,375.5 L459.8,375.0 L459.7,374.5 L459.3,374.1 L458.8,374.0 L458.3,374.1 Z M466.7,379.5 L466.5,380.2 L466.7,380.9 L467.2,381.5 L467.9,381.7 L468.6,381.5 L469.2,380.9 L469.3,380.2 L469.2,379.5 L468.6,379.0 L467.9,378.8 L467.2,379.0 Z M458.1,380.0 L458.0,380.5 L458.1,380.9 L458.4,381.3 L458.9,381.4 L459.4,381.3 L459.7,380.9 L459.8,380.5 L459.7,380.0 L459.4,379.6 L458.9,379.5 L458.4,379.6 Z" fill="#5a36b0"/>
<path d="M453.6,370.9 L454.2,371.2 L454.6,371.1 L455.0,370.5 L454.9,370.1 L454.3,369.8 L453.5,370.6 Z M463.1,374.5 L462.8,374.8 L462.8,375.6 L463.1,375.9 L463.8,376.0 L463.9,376.5 L464.2,376.8 L465.0,376.8 L465.4,376.1 L465.3,375.7 L465.0,375.4 L464.3,375.3 L464.3,374.8 L464.0,374.5 Z M468.6,377.0 L468.5,377.6 L468.6,378.1 L469.1,378.6 L469.7,378.7 L470.2,378.6 L470.7,378.1 L470.8,377.6 L470.7,377.0 L470.2,376.6 L469.7,376.4 L469.1,376.6 Z M463.9,378.2 L463.9,379.0 L464.2,379.3 L465.0,379.3 L465.4,379.0 L465.4,378.2 L465.0,377.9 L464.2,377.9 Z M468.1,379.7 L467.8,380.2 L467.8,380.5 L468.3,380.8 L468.6,380.7 L468.9,380.2 L468.8,379.9 L468.3,379.6 Z M460.1,380.4 L460.1,381.3 L460.7,382.1 L460.4,382.7 L460.5,383.0 L461.1,383.4 L461.4,383.3 L461.8,382.7 L461.6,382.3 L462.3,381.8 L462.4,381.2 L462.3,380.7 L461.9,380.3 L460.8,380.0 Z M453.0,382.3 L452.9,382.7 L453.3,383.3 L453.7,383.4 L454.3,383.1 L454.4,382.7 L454.0,382.1 L453.7,382.0 Z" fill="#a890e0"/>
<path d="M491.9,383.3 L491.8,384.8 L491.1,386.1 L490.7,387.5 L489.6,388.6 L488.6,389.9 L487.0,390.5 L485.3,390.4 L483.7,390.4 L482.3,389.5 L481.1,388.8 L479.8,388.2 L478.5,387.4 L477.9,386.1 L476.9,384.8 L476.7,383.3 L476.9,381.8 L477.4,380.4 L478.2,379.0 L479.4,378.0 L480.7,377.2 L482.3,376.9 L483.8,376.8 L485.2,376.7 L486.7,377.0 L488.3,377.1 L489.5,378.1 L490.6,379.2 L491.4,380.4 L491.9,381.8 Z" fill="#7a56cc"/>
<path d="M479.2,378.2 L479.4,378.9 L479.9,379.4 L480.5,379.6 L481.2,379.4 L481.7,378.9 L481.8,378.3 L481.7,377.6 L481.3,377.1 L480.7,377.2 Z M483.3,378.4 L482.8,378.9 L482.6,379.5 L482.8,380.2 L483.3,380.7 L484.0,380.9 L484.6,380.7 L485.2,380.2 L485.3,379.5 L485.2,378.9 L484.6,378.4 L484.0,378.2 Z M482.7,383.3 L482.3,383.7 L482.2,384.2 L482.3,384.7 L482.7,385.0 L483.2,385.2 L483.7,385.0 L484.0,384.7 L484.2,384.2 L484.0,383.7 L483.7,383.3 L483.2,383.2 Z M485.2,385.8 L484.7,386.3 L484.5,387.1 L484.7,387.8 L485.2,388.3 L485.8,388.5 L485.3,388.6 L484.7,389.2 L484.5,390.0 L484.6,390.4 L487.0,390.5 L488.6,389.9 L488.8,389.6 L488.4,389.1 L488.1,389.0 L487.5,389.4 L486.9,388.6 L486.2,388.5 L486.7,388.3 L487.2,387.8 L487.4,387.1 L487.2,386.3 L486.7,385.8 L486.0,385.6 Z" fill="#5a36b0"/>
<path d="M480.2,382.3 L479.7,382.4 L479.3,382.8 L479.1,383.3 L479.3,383.9 L479.7,384.3 L480.2,384.4 L480.7,384.3 L481.1,383.9 L481.3,383.3 L481.1,382.8 L480.7,382.4 Z M485.8,385.4 L485.6,385.5 L485.3,385.9 L485.4,386.2 L485.8,386.4 L486.1,386.3 L486.3,385.9 L486.3,385.7 Z M489.3,386.4 L488.9,386.5 L488.5,387.1 L488.6,387.5 L489.3,387.9 L489.7,387.8 L490.0,387.1 L489.9,386.7 Z M481.9,387.5 L481.4,387.9 L481.3,388.6 L481.4,388.9 L482.8,389.8 L483.2,389.7 L483.6,389.2 L483.8,388.6 L483.6,387.9 L483.2,387.5 L482.5,387.3 Z M488.0,388.9 L487.6,389.5 L487.9,390.1 L488.6,389.9 L489.1,389.3 L488.7,388.9 Z" fill="#a890e0"/>
<path d="M442.6,398.3 L442.4,399.6 L441.7,400.7 L440.7,401.7 L439.7,402.7 L438.5,403.6 L436.9,404.2 L435.3,404.5 L433.6,404.3 L432.0,403.9 L430.6,403.3 L429.1,402.7 L427.8,401.9 L426.9,400.8 L426.8,399.5 L426.8,398.3 L426.9,397.1 L427.1,395.9 L427.7,394.6 L428.9,393.7 L430.1,392.8 L431.9,392.5 L433.5,392.2 L435.2,392.5 L436.8,392.7 L438.2,393.4 L439.6,393.9 L440.7,394.9 L441.7,395.9 L442.3,397.0 Z" fill="#7050c4"/>
<path d="M434.4,393.3 L433.8,393.5 L433.3,394.0 L433.2,394.6 L433.3,395.2 L433.8,395.7 L434.4,395.9 L435.1,395.7 L435.5,395.2 L435.7,394.6 L435.5,394.0 L435.1,393.5 Z M434.8,395.9 L434.4,396.2 L434.3,396.7 L434.4,397.1 L434.8,397.5 L435.2,397.6 L435.7,397.5 L436.0,397.1 L436.1,396.7 L436.0,396.2 L435.7,395.9 L435.2,395.8 Z M430.3,396.7 L430.0,397.4 L430.1,397.8 L430.7,398.2 L431.1,398.1 L431.5,397.4 L431.4,397.0 L430.7,396.6 Z M432.9,398.9 L432.4,399.1 L432.0,399.8 L432.1,400.2 L432.9,400.6 L433.3,400.5 L433.7,399.8 L433.6,399.4 Z M438.0,399.3 L437.6,400.0 L437.7,400.4 L438.4,400.9 L438.8,400.7 L439.3,400.0 L439.2,399.6 L438.4,399.1 Z M434.6,402.8 L434.1,403.3 L433.9,404.0 L434.1,404.4 L435.3,404.5 L436.6,404.2 L436.5,403.3 L436.0,402.8 L435.3,402.6 Z" fill="#5a36b0"/>
<path d="M433.1,394.0 L432.4,394.4 L432.3,394.7 L432.6,395.3 L432.1,395.6 L432.0,396.0 L432.4,396.7 L432.7,396.8 L433.4,396.4 L433.5,396.0 L433.2,395.4 L433.7,395.1 L433.8,394.7 L433.7,394.4 Z M434.7,397.3 L434.4,397.3 L434.1,397.9 L434.2,398.2 L434.7,398.5 L435.0,398.4 L435.3,397.9 L435.2,397.6 Z M435.4,398.6 L435.0,398.7 L434.6,399.1 L434.5,399.6 L434.6,400.0 L435.0,400.4 L435.4,400.5 L435.9,400.4 L436.2,400.0 L436.4,399.6 L436.2,399.1 L435.9,398.7 Z" fill="#a890e0"/>
<path d="M455.4,415.5 L454.8,416.4 L454.4,417.4 L453.3,418.2 L452.4,419.1 L450.8,419.8 L449.1,420.4 L447.0,420.6 L444.8,420.8 L442.6,420.5 L440.9,419.8 L439.3,419.2 L437.8,418.4 L436.5,417.6 L435.5,416.6 L435.9,415.5 L436.1,414.5 L437.6,413.6 L438.9,412.9 L440.1,412.3 L441.4,411.6 L442.9,410.8 L444.8,410.5 L447.0,410.1 L449.3,410.3 L451.3,410.8 L453.1,411.5 L454.4,412.4 L455.2,413.4 L455.1,414.5 Z" fill="#6c4cc4"/>
<path d="M448.9,410.9 L448.4,411.0 L448.0,411.4 L447.8,412.0 L448.0,412.5 L448.4,412.9 L448.9,413.0 L449.5,412.9 L449.9,412.5 L450.0,412.0 L449.9,411.4 L449.5,411.0 Z M440.1,413.7 L440.3,414.3 L440.8,414.8 L441.7,414.9 L442.2,415.3 L442.1,415.6 L442.3,416.3 L442.8,416.8 L443.4,416.9 L444.1,416.8 L444.5,416.3 L444.7,415.6 L444.5,415.0 L444.2,414.6 L444.4,413.9 L444.2,413.1 L443.6,412.5 L442.8,412.3 L442.0,412.5 L441.4,412.4 L440.8,412.6 L440.3,413.0 Z M436.6,416.6 L436.2,417.3 L437.2,418.0 L437.4,418.0 L437.6,417.7 L437.6,416.9 L437.4,416.6 Z M439.7,417.4 L439.1,418.0 L438.9,419.0 L441.4,420.0 L441.6,419.9 L441.9,419.6 L442.0,419.1 L441.9,418.0 L441.3,417.4 L440.5,417.2 Z" fill="#5a36b0"/>
<path d="M450.5,411.8 L450.0,411.9 L449.7,412.2 L449.6,412.7 L449.7,413.1 L450.0,413.5 L450.5,413.6 L450.9,413.5 L451.3,413.1 L451.4,412.7 L451.3,412.2 L450.9,411.9 Z M444.8,412.9 L444.2,413.1 L443.9,413.4 L443.7,414.0 L443.9,414.5 L444.2,414.9 L444.8,415.0 L445.3,414.9 L445.7,414.5 L445.8,414.0 L445.7,413.4 L445.3,413.1 Z M447.3,414.0 L446.6,414.2 L446.2,414.6 L446.0,415.2 L446.2,415.9 L446.6,416.3 L447.3,416.5 L447.9,416.3 L448.3,415.9 L448.5,415.2 L448.3,414.6 L447.9,414.2 Z M438.9,416.1 L438.5,416.5 L438.4,417.0 L438.5,417.4 L438.9,417.8 L439.4,417.9 L439.9,417.8 L440.3,417.4 L440.4,417.0 L440.3,416.5 L439.9,416.1 L439.4,416.0 Z M444.2,419.5 L443.9,419.8 L443.9,420.6 L444.1,420.7 L445.1,420.8 L445.4,420.2 L445.3,419.8 L445.0,419.5 Z" fill="#a890e0"/>
<path d="M430.1,415.0 L429.7,416.0 L429.3,417.0 L428.7,417.8 L427.7,418.4 L426.8,419.1 L425.8,419.6 L424.6,419.8 L423.4,420.0 L422.0,420.0 L420.7,419.8 L419.7,419.0 L419.0,418.0 L418.2,417.1 L418.0,416.1 L418.2,415.0 L418.3,414.0 L418.7,413.0 L419.4,412.2 L420.1,411.4 L421.1,410.7 L422.2,410.3 L423.4,410.1 L424.6,410.0 L425.9,410.1 L427.2,410.4 L428.2,411.1 L429.3,411.8 L429.6,412.9 L429.8,414.0 Z" fill="#6c4cc4"/>
<path d="M421.8,411.5 L421.2,411.6 L420.8,412.0 L420.7,412.6 L420.8,413.1 L421.2,413.5 L421.8,413.6 L422.3,413.5 L422.7,413.1 L422.8,412.6 L422.7,412.0 L422.3,411.6 Z M426.7,413.7 L426.1,413.9 L425.6,414.4 L425.5,415.0 L425.6,415.7 L426.1,416.1 L426.7,416.3 L427.4,416.1 L427.9,415.7 L428.0,415.0 L427.9,414.4 L427.4,413.9 Z M425.4,416.1 L424.9,416.3 L424.5,416.7 L424.4,417.2 L424.5,417.7 L424.9,418.0 L425.4,418.2 L425.9,418.0 L426.3,417.7 L426.4,417.2 L426.3,416.7 L425.9,416.3 Z M419.3,417.5 L418.9,417.9 L419.7,419.0 L420.3,419.3 L420.7,418.9 L420.9,418.4 L420.7,417.9 L420.3,417.5 L419.8,417.3 Z M421.9,418.4 L421.4,419.0 L421.2,419.9 L423.4,420.0 L424.2,419.9 L424.0,419.0 L423.4,418.4 L422.7,418.2 Z" fill="#5a36b0"/>
<path d="M419.7,412.5 L419.2,412.5 L418.8,412.9 L418.9,413.4 L419.1,413.6 L419.7,413.6 L419.9,413.4 L419.9,412.7 Z M423.9,414.8 L423.3,415.0 L422.8,415.4 L422.7,416.0 L422.8,416.6 L423.3,417.1 L423.9,417.2 L424.5,417.1 L425.0,416.6 L425.1,416.0 L425.0,415.4 L424.5,415.0 Z M419.4,417.6 L418.9,417.9 L419.8,419.0 L420.2,418.3 L419.8,417.7 Z" fill="#a890e0"/>
<circle cx="487.2" cy="399.9" r="9.0" fill="#5a34b8"/>
<circle cx="487.2" cy="399.9" r="3.6" fill="#d6d4e8"/>
</g></g>
<text x="1.6" y="16.3" font-size="18" text-anchor="start" font-weight="bold" font-style="normal" fill="#000" >A</text>
<line x1="31.3" y1="35.0" x2="31.3" y2="128.1" stroke="#111" stroke-width="1.1"/>
<line x1="31.3" y1="128.1" x2="146.3" y2="128.1" stroke="#111" stroke-width="1.1"/>
<line x1="29.5" y1="38.6" x2="31.3" y2="38.6" stroke="#111" stroke-width="0.9"/>
<text x="28.6" y="41.0" font-size="6.8" text-anchor="end" font-weight="normal" font-style="normal" fill="#000" >1500</text>
<line x1="29.5" y1="48.0" x2="31.3" y2="48.0" stroke="#111" stroke-width="0.9"/>
<text x="28.6" y="50.4" font-size="6.8" text-anchor="end" font-weight="normal" font-style="normal" fill="#000" >1200</text>
<line x1="29.5" y1="57.5" x2="31.3" y2="57.5" stroke="#111" stroke-width="0.9"/>
<text x="28.6" y="59.9" font-size="6.8" text-anchor="end" font-weight="normal" font-style="normal" fill="#000" >900</text>
<line x1="29.5" y1="72.2" x2="31.3" y2="72.2" stroke="#111" stroke-width="0.9"/>
<text x="28.6" y="74.6" font-size="6.8" text-anchor="end" font-weight="normal" font-style="normal" fill="#000" >400</text>
<line x1="29.5" y1="85.7" x2="31.3" y2="85.7" stroke="#111" stroke-width="0.9"/>
<text x="28.6" y="88.1" font-size="6.8" text-anchor="end" font-weight="normal" font-style="normal" fill="#000" >300</text>
<line x1="29.5" y1="99.0" x2="31.3" y2="99.0" stroke="#111" stroke-width="0.9"/>
<text x="28.6" y="101.4" font-size="6.8" text-anchor="end" font-weight="normal" font-style="normal" fill="#000" >200</text>
<line x1="29.5" y1="111.6" x2="31.3" y2="111.6" stroke="#111" stroke-width="0.9"/>
<text x="28.6" y="114.0" font-size="6.8" text-anchor="end" font-weight="normal" font-style="normal" fill="#000" >100</text>
<line x1="29.5" y1="124.7" x2="31.3" y2="124.7" stroke="#111" stroke-width="0.9"/>
<text x="28.6" y="127.1" font-size="6.8" text-anchor="end" font-weight="normal" font-style="normal" fill="#000" >0</text>
<path d="M29.1,57.0 L33.5,56.0 M29.1,58.8 L33.5,57.8" stroke="#333" stroke-width="0.8" fill="none" />
<line x1="37.3" y1="128.1" x2="37.3" y2="129.9" stroke="#111" stroke-width="0.9"/>
<text x="37.3" y="136.6" font-size="6.9" text-anchor="middle" font-weight="normal" font-style="normal" fill="#000" >1</text>
<line x1="48.7" y1="128.1" x2="48.7" y2="129.9" stroke="#111" stroke-width="0.9"/>
<text x="48.7" y="136.6" font-size="6.9" text-anchor="middle" font-weight="normal" font-style="normal" fill="#000" >2</text>
<line x1="60.1" y1="128.1" x2="60.1" y2="129.9" stroke="#111" stroke-width="0.9"/>
<text x="60.1" y="136.6" font-size="6.9" text-anchor="middle" font-weight="normal" font-style="normal" fill="#000" >3</text>
<line x1="71.5" y1="128.1" x2="71.5" y2="129.9" stroke="#111" stroke-width="0.9"/>
<text x="71.5" y="136.6" font-size="6.9" text-anchor="middle" font-weight="normal" font-style="normal" fill="#000" >4</text>
<line x1="82.9" y1="128.1" x2="82.9" y2="129.9" stroke="#111" stroke-width="0.9"/>
<text x="82.9" y="136.6" font-size="6.9" text-anchor="middle" font-weight="normal" font-style="normal" fill="#000" >5</text>
<line x1="94.3" y1="128.1" x2="94.3" y2="129.9" stroke="#111" stroke-width="0.9"/>
<text x="94.3" y="136.6" font-size="6.9" text-anchor="middle" font-weight="normal" font-style="normal" fill="#000" >6</text>
<line x1="105.7" y1="128.1" x2="105.7" y2="129.9" stroke="#111" stroke-width="0.9"/>
<text x="105.7" y="136.6" font-size="6.9" text-anchor="middle" font-weight="normal" font-style="normal" fill="#000" >7</text>
<line x1="117.1" y1="128.1" x2="117.1" y2="129.9" stroke="#111" stroke-width="0.9"/>
<text x="117.1" y="136.6" font-size="6.9" text-anchor="middle" font-weight="normal" font-style="normal" fill="#000" >8</text>
<line x1="128.5" y1="128.1" x2="128.5" y2="129.9" stroke="#111" stroke-width="0.9"/>
<text x="128.5" y="136.6" font-size="6.9" text-anchor="middle" font-weight="normal" font-style="normal" fill="#000" >9</text>
<line x1="139.9" y1="128.1" x2="139.9" y2="129.9" stroke="#111" stroke-width="0.9"/>
<text x="139.9" y="136.6" font-size="6.9" text-anchor="middle" font-weight="normal" font-style="normal" fill="#000" >10</text>
<text x="88.1" y="144.6" font-size="6.9" text-anchor="middle" font-weight="normal" font-style="normal" fill="#000" >days</text>
<text x="0" y="0" font-size="7.55" text-anchor="middle" fill="#000" transform="translate(8.0,75.8) rotate(-90)">cell number (*10<tspan dy="-2" font-size="5">6</tspan><tspan dy="2">)</tspan></text>
<path d="M37.3,124.7 L48.7,124.7 L60.1,123.4 L71.5,120.2 L82.9,111.2 L94.3,104.9 L105.7,47.0" stroke="#111" stroke-width="1.1" fill="none" />
<rect x="35.7" y="123.1" width="3.2" height="3.2" rx="0.6" fill="#111"/>
<rect x="47.1" y="123.1" width="3.2" height="3.2" rx="0.6" fill="#111"/>
<rect x="58.5" y="121.8" width="3.2" height="3.2" rx="0.6" fill="#111"/>
<rect x="69.9" y="118.6" width="3.2" height="3.2" rx="0.6" fill="#111"/>
<rect x="81.3" y="109.6" width="3.2" height="3.2" rx="0.6" fill="#111"/>
<rect x="92.7" y="103.3" width="3.2" height="3.2" rx="0.6" fill="#111"/>
<rect x="104.1" y="45.4" width="3.2" height="3.2" rx="0.6" fill="#111"/>
<path d="M37.3,124.7 L48.7,124.7 L60.1,124.3 L71.5,123.7 L82.9,123.1 L94.3,122.3 L105.7,120.0 L117.1,109.7 L128.5,106.5 L139.9,77.6" stroke="#858585" stroke-width="1.1" fill="none" />
<rect x="35.7" y="123.1" width="3.2" height="3.2" rx="0.6" fill="#858585"/>
<rect x="47.1" y="123.1" width="3.2" height="3.2" rx="0.6" fill="#858585"/>
<rect x="58.5" y="122.7" width="3.2" height="3.2" rx="0.6" fill="#858585"/>
<rect x="69.9" y="122.1" width="3.2" height="3.2" rx="0.6" fill="#858585"/>
<rect x="81.3" y="121.5" width="3.2" height="3.2" rx="0.6" fill="#858585"/>
<rect x="92.7" y="120.7" width="3.2" height="3.2" rx="0.6" fill="#858585"/>
<rect x="104.1" y="118.4" width="3.2" height="3.2" rx="0.6" fill="#858585"/>
<rect x="115.5" y="108.1" width="3.2" height="3.2" rx="0.6" fill="#858585"/>
<rect x="126.9" y="104.9" width="3.2" height="3.2" rx="0.6" fill="#858585"/>
<rect x="138.3" y="76.0" width="3.2" height="3.2" rx="0.6" fill="#858585"/>
<path d="M37.3,124.7 L48.7,124.7 L60.1,124.3 L71.5,123.9 L82.9,123.5 L94.3,123.1 L105.7,122.1 L117.1,121.2 L128.5,120.8 L139.9,115.3" stroke="#8a8a8a" stroke-width="1.0" fill="none" />
<path d="M37.3,122.5 L39.3,126.2 L35.3,126.2 Z" fill="#8a8a8a"/>
<path d="M48.7,122.5 L50.7,126.2 L46.7,126.2 Z" fill="#8a8a8a"/>
<path d="M60.1,122.1 L62.1,125.8 L58.1,125.8 Z" fill="#8a8a8a"/>
<path d="M71.5,121.7 L73.5,125.4 L69.5,125.4 Z" fill="#8a8a8a"/>
<path d="M82.9,121.3 L84.9,125.0 L80.9,125.0 Z" fill="#8a8a8a"/>
<path d="M94.3,120.9 L96.3,124.6 L92.3,124.6 Z" fill="#8a8a8a"/>
<path d="M105.7,119.9 L107.7,123.6 L103.7,123.6 Z" fill="#8a8a8a"/>
<path d="M117.1,119.0 L119.1,122.7 L115.1,122.7 Z" fill="#8a8a8a"/>
<path d="M128.5,118.6 L130.5,122.3 L126.5,122.3 Z" fill="#8a8a8a"/>
<path d="M139.9,113.1 L141.9,116.8 L137.9,116.8 Z" fill="#8a8a8a"/>
<path d="M37.3,124.7 L48.7,124.7 L60.1,124.3 L71.5,124.2 L82.9,124.0 L94.3,124.0 L105.7,124.2 L117.1,124.6 L128.5,124.6 L139.9,124.7" stroke="#1a1acc" stroke-width="1.4" fill="none" />
<path d="M37.3,122.5 L39.3,126.2 L35.3,126.2 Z" fill="#1a1acc"/>
<path d="M48.7,122.5 L50.7,126.2 L46.7,126.2 Z" fill="#1a1acc"/>
<path d="M60.1,122.1 L62.1,125.8 L58.1,125.8 Z" fill="#1a1acc"/>
<path d="M71.5,122.0 L73.5,125.7 L69.5,125.7 Z" fill="#1a1acc"/>
<path d="M82.9,121.8 L84.9,125.5 L80.9,125.5 Z" fill="#1a1acc"/>
<path d="M94.3,121.8 L96.3,125.5 L92.3,125.5 Z" fill="#1a1acc"/>
<path d="M105.7,122.0 L107.7,125.7 L103.7,125.7 Z" fill="#1a1acc"/>
<path d="M117.1,122.4 L119.1,126.1 L115.1,126.1 Z" fill="#1a1acc"/>
<path d="M128.5,122.4 L130.5,126.1 L126.5,126.1 Z" fill="#1a1acc"/>
<path d="M139.9,122.5 L141.9,126.2 L137.9,126.2 Z" fill="#1a1acc"/>
<path d="M37.3,124.7 L48.7,124.7 L60.1,124.2 L71.5,123.8 L82.9,123.5 L94.3,123.3 L105.7,120.9 L117.1,119.2 L128.5,118.0 L139.9,114.5" stroke="#1a1acc" stroke-width="1.4" fill="none" />
<rect x="35.7" y="123.1" width="3.2" height="3.2" rx="0.6" fill="#1a1acc"/>
<rect x="47.1" y="123.1" width="3.2" height="3.2" rx="0.6" fill="#1a1acc"/>
<rect x="58.5" y="122.6" width="3.2" height="3.2" rx="0.6" fill="#1a1acc"/>
<rect x="69.9" y="122.2" width="3.2" height="3.2" rx="0.6" fill="#1a1acc"/>
<rect x="81.3" y="121.9" width="3.2" height="3.2" rx="0.6" fill="#1a1acc"/>
<rect x="92.7" y="121.7" width="3.2" height="3.2" rx="0.6" fill="#1a1acc"/>
<rect x="104.1" y="119.3" width="3.2" height="3.2" rx="0.6" fill="#1a1acc"/>
<rect x="115.5" y="117.6" width="3.2" height="3.2" rx="0.6" fill="#1a1acc"/>
<rect x="126.9" y="116.4" width="3.2" height="3.2" rx="0.6" fill="#1a1acc"/>
<rect x="138.3" y="112.9" width="3.2" height="3.2" rx="0.6" fill="#1a1acc"/>
<line x1="139.9" y1="66.6" x2="139.9" y2="89.2" stroke="#8d8d8d" stroke-width="0.9"/>
<line x1="138.7" y1="66.6" x2="141.1" y2="66.6" stroke="#8d8d8d" stroke-width="0.9"/>
<line x1="138.7" y1="89.2" x2="141.1" y2="89.2" stroke="#8d8d8d" stroke-width="0.9"/>
<line x1="105.7" y1="38.5" x2="105.7" y2="55.2" stroke="#111" stroke-width="0.9"/>
<line x1="104.5" y1="38.5" x2="106.9" y2="38.5" stroke="#111" stroke-width="0.9"/>
<line x1="104.5" y1="55.2" x2="106.9" y2="55.2" stroke="#111" stroke-width="0.9"/>
<line x1="105.7" y1="47.0" x2="107.8" y2="35.6" stroke="#111" stroke-width="1.0"/>
<line x1="118.5" y1="29.2" x2="137.0" y2="29.2" stroke="#111" stroke-width="1.6"/>
<rect x="125.1" y="27.7" width="5.4" height="3" fill="#fff"/>
<rect x="126.3" y="27.7" width="3" height="3" rx="0.5" fill="#111"/>
<text x="141.0" y="31.7" font-size="6.9" text-anchor="start" font-weight="normal" font-style="normal" fill="#000" >DMSO</text>
<line x1="149.0" y1="69.1" x2="166.4" y2="69.1" stroke="#747474" stroke-width="1.4"/>
<rect x="155.0" y="67.6" width="5.4" height="3" fill="#fff"/>
<rect x="156.2" y="67.6" width="3" height="3" rx="0.5" fill="#747474"/>
<text x="168.8" y="71.6" font-size="6.9" text-anchor="start" font-weight="normal" font-style="normal" fill="#000" >MI-2 (6µM)</text>
<line x1="149.0" y1="102.6" x2="166.4" y2="102.6" stroke="#606060" stroke-width="1.1"/>
<rect x="155.0" y="101.1" width="5.4" height="3" fill="#fff"/>
<path d="M157.7,100.4 L159.8,104.1 L155.6,104.1 Z" fill="#606060"/>
<text x="168.8" y="105.1" font-size="6.9" text-anchor="start" font-weight="normal" font-style="normal" fill="#000" >MI-2 (12µM)</text>
<line x1="149.0" y1="113.3" x2="166.4" y2="113.3" stroke="#1a1acc" stroke-width="1.6"/>
<rect x="155.0" y="111.8" width="5.4" height="3" fill="#fff"/>
<rect x="156.2" y="111.8" width="3" height="3" rx="0.5" fill="#1a1acc"/>
<text x="168.8" y="115.8" font-size="6.9" text-anchor="start" font-weight="normal" font-style="normal" fill="#000" >MI-2-2 (6µM)</text>
<line x1="149.0" y1="123.2" x2="166.4" y2="123.2" stroke="#1a1acc" stroke-width="1.6"/>
<rect x="155.0" y="121.7" width="5.4" height="3" fill="#fff"/>
<path d="M157.7,121.0 L159.8,124.7 L155.6,124.7 Z" fill="#1a1acc"/>
<text x="168.8" y="125.7" font-size="6.9" text-anchor="start" font-weight="normal" font-style="normal" fill="#000" >MI-2-2 (12µM)</text>
<text x="222.6" y="16.3" font-size="17.5" text-anchor="start" font-weight="bold" font-style="normal" fill="#000" >B</text>
<text x="294.2" y="12.0" font-size="10.5" text-anchor="start" font-weight="normal" font-style="italic" fill="#000" >Hoxa9</text>
<text x="295.7" y="22.8" font-size="6.6" fill="#000"><tspan font-style="italic">p</tspan>=0.014</text>
<path d="M270.5,34.2 H290.8 M280.8,34.2 V25.7 H328.5 V65.7 M310.5,65.7 H348.6" stroke="#444" stroke-width="0.9" fill="none" />
<line x1="261.6" y1="38.3" x2="261.6" y2="114.2" stroke="#111" stroke-width="1.0"/>
<line x1="261.6" y1="114.2" x2="356.9" y2="114.2" stroke="#111" stroke-width="1.0"/>
<line x1="260.0" y1="114.2" x2="261.6" y2="114.2" stroke="#111" stroke-width="0.8"/>
<text x="259.7" y="116.2" font-size="5.8" text-anchor="end" font-weight="normal" font-style="normal" fill="#000" >0.0</text>
<line x1="260.0" y1="99.5" x2="261.6" y2="99.5" stroke="#111" stroke-width="0.8"/>
<text x="259.7" y="101.5" font-size="5.8" text-anchor="end" font-weight="normal" font-style="normal" fill="#000" >0.2</text>
<line x1="260.0" y1="84.8" x2="261.6" y2="84.8" stroke="#111" stroke-width="0.8"/>
<text x="259.7" y="86.8" font-size="5.8" text-anchor="end" font-weight="normal" font-style="normal" fill="#000" >0.4</text>
<line x1="260.0" y1="70.2" x2="261.6" y2="70.2" stroke="#111" stroke-width="0.8"/>
<text x="259.7" y="72.2" font-size="5.8" text-anchor="end" font-weight="normal" font-style="normal" fill="#000" >0.6</text>
<line x1="260.0" y1="55.5" x2="261.6" y2="55.5" stroke="#111" stroke-width="0.8"/>
<text x="259.7" y="57.5" font-size="5.8" text-anchor="end" font-weight="normal" font-style="normal" fill="#000" >0.8</text>
<line x1="260.0" y1="40.8" x2="261.6" y2="40.8" stroke="#111" stroke-width="0.8"/>
<text x="259.7" y="42.8" font-size="5.8" text-anchor="end" font-weight="normal" font-style="normal" fill="#000" >1.0</text>
<rect x="265.7" y="100.3" width="11.3" height="13.9" fill="#ababab" stroke="#3a3a3a" stroke-width="0.9" />
<line x1="271.4" y1="97.0" x2="271.4" y2="104.3" stroke="#111" stroke-width="0.9"/>
<line x1="270.2" y1="97.0" x2="272.6" y2="97.0" stroke="#111" stroke-width="0.9"/>
<line x1="270.2" y1="104.3" x2="272.6" y2="104.3" stroke="#111" stroke-width="0.9"/>
<rect x="284.0" y="51.1" width="11.8" height="63.1" fill="#ababab" stroke="#3a3a3a" stroke-width="0.9" />
<line x1="289.9" y1="37.9" x2="289.9" y2="64.3" stroke="#111" stroke-width="0.9"/>
<line x1="288.7" y1="37.9" x2="291.1" y2="37.9" stroke="#111" stroke-width="0.9"/>
<line x1="288.7" y1="64.3" x2="291.1" y2="64.3" stroke="#111" stroke-width="0.9"/>
<rect x="306.0" y="103.9" width="11.0" height="10.3" fill="#0a0ad2" stroke="#00006a" stroke-width="0.9" />
<line x1="311.5" y1="101.1" x2="311.5" y2="106.9" stroke="#111" stroke-width="0.9"/>
<line x1="310.3" y1="101.1" x2="312.7" y2="101.1" stroke="#111" stroke-width="0.9"/>
<line x1="310.3" y1="106.9" x2="312.7" y2="106.9" stroke="#111" stroke-width="0.9"/>
<rect x="324.8" y="96.6" width="11.2" height="17.6" fill="#0a0ad2" stroke="#00006a" stroke-width="0.9" />
<line x1="330.4" y1="94.4" x2="330.4" y2="98.8" stroke="#111" stroke-width="0.9"/>
<line x1="329.2" y1="94.4" x2="331.6" y2="94.4" stroke="#111" stroke-width="0.9"/>
<line x1="329.2" y1="98.8" x2="331.6" y2="98.8" stroke="#111" stroke-width="0.9"/>
<rect x="343.9" y="76.0" width="11.1" height="38.2" fill="#0a0ad2" stroke="#00006a" stroke-width="0.9" />
<line x1="349.4" y1="74.9" x2="349.4" y2="77.1" stroke="#111" stroke-width="0.9"/>
<line x1="348.2" y1="74.9" x2="350.6" y2="74.9" stroke="#111" stroke-width="0.9"/>
<line x1="348.2" y1="77.1" x2="350.6" y2="77.1" stroke="#111" stroke-width="0.9"/>
<text x="271.6" y="123.2" font-size="6.1" text-anchor="middle" font-weight="normal" font-style="normal" fill="#000" >12</text>
<text x="290.0" y="123.2" font-size="6.1" text-anchor="middle" font-weight="normal" font-style="normal" fill="#000" >6</text>
<text x="311.8" y="123.2" font-size="6.1" text-anchor="middle" font-weight="normal" font-style="normal" fill="#000" >12</text>
<text x="330.5" y="123.2" font-size="6.1" text-anchor="middle" font-weight="normal" font-style="normal" fill="#000" >6</text>
<text x="349.3" y="123.2" font-size="6.1" text-anchor="middle" font-weight="normal" font-style="normal" fill="#000" >3</text>
<path d="M265.5,125.8 L295.5,125.8 L265.5,130.1 Z" stroke="#222" stroke-width="0.9" fill="#fff" stroke-linejoin="miter"/>
<path d="M310.0,125.6 L350.9,125.6 L310.0,130.1 Z" stroke="#222" stroke-width="0.9" fill="#fff" stroke-linejoin="miter"/>
<text x="281.5" y="140.1" font-size="7.0" text-anchor="middle" font-weight="normal" font-style="normal" fill="#000" >MI-2 (µM)</text>
<text x="330.2" y="140.1" font-size="7.0" text-anchor="middle" font-weight="normal" font-style="normal" fill="#000" >MI-2-2 (µM)</text>
<text x="0" y="0" font-size="9.0" text-anchor="middle" fill="#000" transform="translate(233.5,80.5) rotate(-90)">average fold difference</text>
<text x="0" y="0" font-size="9.2" text-anchor="middle" fill="#000" transform="translate(244.3,80.5) rotate(-90)">relative to DMSO</text>
<text x="377.2" y="16.3" font-size="17.5" text-anchor="start" font-weight="bold" font-style="normal" fill="#000" >C</text>
<text x="443.8" y="13.0" font-size="10.5" text-anchor="start" font-weight="normal" font-style="italic" fill="#000" >Meis1</text>
<text x="445.8" y="21.6" font-size="6.6" fill="#000"><tspan font-style="italic">p</tspan>=0.009</text>
<path d="M424,34 H443.8 M434.2,34 V25 H482.7 V65.4 M463.7,65.4 H502" stroke="#444" stroke-width="0.9" fill="none" />
<line x1="414.5" y1="34.3" x2="414.5" y2="114.1" stroke="#111" stroke-width="1.0"/>
<line x1="414.5" y1="114.1" x2="509.4" y2="114.1" stroke="#111" stroke-width="1.0"/>
<line x1="412.9" y1="114.1" x2="414.5" y2="114.1" stroke="#111" stroke-width="0.8"/>
<text x="412.6" y="116.1" font-size="5.8" text-anchor="end" font-weight="normal" font-style="normal" fill="#000" >0.0</text>
<line x1="412.9" y1="98.6" x2="414.5" y2="98.6" stroke="#111" stroke-width="0.8"/>
<text x="412.6" y="100.6" font-size="5.8" text-anchor="end" font-weight="normal" font-style="normal" fill="#000" >0.2</text>
<line x1="412.9" y1="83.2" x2="414.5" y2="83.2" stroke="#111" stroke-width="0.8"/>
<text x="412.6" y="85.2" font-size="5.8" text-anchor="end" font-weight="normal" font-style="normal" fill="#000" >0.4</text>
<line x1="412.9" y1="67.7" x2="414.5" y2="67.7" stroke="#111" stroke-width="0.8"/>
<text x="412.6" y="69.7" font-size="5.8" text-anchor="end" font-weight="normal" font-style="normal" fill="#000" >0.6</text>
<line x1="412.9" y1="52.3" x2="414.5" y2="52.3" stroke="#111" stroke-width="0.8"/>
<text x="412.6" y="54.3" font-size="5.8" text-anchor="end" font-weight="normal" font-style="normal" fill="#000" >0.8</text>
<line x1="412.9" y1="36.8" x2="414.5" y2="36.8" stroke="#111" stroke-width="0.8"/>
<text x="412.6" y="38.8" font-size="5.8" text-anchor="end" font-weight="normal" font-style="normal" fill="#000" >1.0</text>
<rect x="419.4" y="105.1" width="11.6" height="9.0" fill="#ababab" stroke="#3a3a3a" stroke-width="0.9" />
<line x1="425.2" y1="103.3" x2="425.2" y2="106.8" stroke="#111" stroke-width="0.9"/>
<line x1="424.0" y1="103.3" x2="426.4" y2="103.3" stroke="#111" stroke-width="0.9"/>
<line x1="424.0" y1="106.8" x2="426.4" y2="106.8" stroke="#111" stroke-width="0.9"/>
<rect x="438.0" y="52.3" width="11.8" height="61.8" fill="#ababab" stroke="#3a3a3a" stroke-width="0.9" />
<line x1="443.9" y1="36.8" x2="443.9" y2="67.7" stroke="#111" stroke-width="0.9"/>
<line x1="442.7" y1="36.8" x2="445.1" y2="36.8" stroke="#111" stroke-width="0.9"/>
<line x1="442.7" y1="67.7" x2="445.1" y2="67.7" stroke="#111" stroke-width="0.9"/>
<rect x="459.4" y="113.0" width="11.6" height="1.1" fill="#0a0ad2" stroke="#00006a" stroke-width="0.9" />
<line x1="465.2" y1="112.6" x2="465.2" y2="113.5" stroke="#111" stroke-width="0.9"/>
<line x1="464.0" y1="112.6" x2="466.4" y2="112.6" stroke="#111" stroke-width="0.9"/>
<line x1="464.0" y1="113.5" x2="466.4" y2="113.5" stroke="#111" stroke-width="0.9"/>
<rect x="478.0" y="111.0" width="11.6" height="3.1" fill="#0a0ad2" stroke="#00006a" stroke-width="0.9" />
<line x1="483.8" y1="110.5" x2="483.8" y2="111.5" stroke="#111" stroke-width="0.9"/>
<line x1="482.6" y1="110.5" x2="485.0" y2="110.5" stroke="#111" stroke-width="0.9"/>
<line x1="482.6" y1="111.5" x2="485.0" y2="111.5" stroke="#111" stroke-width="0.9"/>
<rect x="497.9" y="89.4" width="11.3" height="24.7" fill="#0a0ad2" stroke="#00006a" stroke-width="0.9" />
<line x1="503.5" y1="88.4" x2="503.5" y2="90.1" stroke="#111" stroke-width="0.9"/>
<line x1="502.3" y1="88.4" x2="504.7" y2="88.4" stroke="#111" stroke-width="0.9"/>
<line x1="502.3" y1="90.1" x2="504.7" y2="90.1" stroke="#111" stroke-width="0.9"/>
<text x="424.2" y="123.2" font-size="6.1" text-anchor="middle" font-weight="normal" font-style="normal" fill="#000" >12</text>
<text x="443.5" y="123.2" font-size="6.1" text-anchor="middle" font-weight="normal" font-style="normal" fill="#000" >6</text>
<text x="465.0" y="123.2" font-size="6.1" text-anchor="middle" font-weight="normal" font-style="normal" fill="#000" >12</text>
<text x="483.8" y="123.2" font-size="6.1" text-anchor="middle" font-weight="normal" font-style="normal" fill="#000" >6</text>
<text x="502.6" y="123.2" font-size="6.1" text-anchor="middle" font-weight="normal" font-style="normal" fill="#000" >3</text>
<path d="M418.5,126.8 L447.7,126.8 L418.5,131.2 Z" stroke="#222" stroke-width="0.9" fill="#fff" stroke-linejoin="miter"/>
<path d="M463.0,126.5 L509.4,126.5 L463.0,131.2 Z" stroke="#222" stroke-width="0.9" fill="#fff" stroke-linejoin="miter"/>
<text x="434.5" y="140.1" font-size="7.0" text-anchor="middle" font-weight="normal" font-style="normal" fill="#000" >MI-2 (µM)</text>
<text x="482.5" y="140.1" font-size="7.0" text-anchor="middle" font-weight="normal" font-style="normal" fill="#000" >MI-2-2 (µM)</text>
<text x="0" y="0" font-size="9.0" text-anchor="middle" fill="#000" transform="translate(389.8,81.0) rotate(-90)">average fold difference</text>
<text x="0" y="0" font-size="9.2" text-anchor="middle" fill="#000" transform="translate(400.2,81.0) rotate(-90)">relative to DMSO</text>
<text x="4.1" y="176.2" font-size="17.5" text-anchor="start" font-weight="bold" font-style="normal" fill="#000" >D</text>
<line x1="41.0" y1="177.5" x2="41.0" y2="263.3" stroke="#111" stroke-width="1.0"/>
<line x1="41.0" y1="263.3" x2="145.4" y2="263.3" stroke="#111" stroke-width="1.0"/>
<line x1="39.4" y1="263.3" x2="41.0" y2="263.3" stroke="#111" stroke-width="0.8"/>
<text x="39.0" y="265.4" font-size="6.1" text-anchor="end" font-weight="normal" font-style="normal" fill="#000" >0</text>
<line x1="39.4" y1="246.4" x2="41.0" y2="246.4" stroke="#111" stroke-width="0.8"/>
<text x="39.0" y="248.5" font-size="6.1" text-anchor="end" font-weight="normal" font-style="normal" fill="#000" >20</text>
<line x1="39.4" y1="229.6" x2="41.0" y2="229.6" stroke="#111" stroke-width="0.8"/>
<text x="39.0" y="231.7" font-size="6.1" text-anchor="end" font-weight="normal" font-style="normal" fill="#000" >40</text>
<line x1="39.4" y1="212.7" x2="41.0" y2="212.7" stroke="#111" stroke-width="0.8"/>
<text x="39.0" y="214.8" font-size="6.1" text-anchor="end" font-weight="normal" font-style="normal" fill="#000" >60</text>
<line x1="39.4" y1="195.9" x2="41.0" y2="195.9" stroke="#111" stroke-width="0.8"/>
<text x="39.0" y="198.0" font-size="6.1" text-anchor="end" font-weight="normal" font-style="normal" fill="#000" >80</text>
<line x1="39.4" y1="179.0" x2="41.0" y2="179.0" stroke="#111" stroke-width="0.8"/>
<text x="39.0" y="181.1" font-size="6.1" text-anchor="end" font-weight="normal" font-style="normal" fill="#000" >100</text>
<rect x="44.5" y="240.8" width="7.8" height="22.5" fill="#ababab" stroke="#3a3a3a" stroke-width="0.9" />
<line x1="48.4" y1="239.8" x2="48.4" y2="241.8" stroke="#111" stroke-width="0.9"/>
<line x1="47.3" y1="239.8" x2="49.5" y2="239.8" stroke="#111" stroke-width="0.9"/>
<line x1="47.3" y1="241.8" x2="49.5" y2="241.8" stroke="#111" stroke-width="0.9"/>
<rect x="57.3" y="234.5" width="7.8" height="28.8" fill="#ababab" stroke="#3a3a3a" stroke-width="0.9" />
<line x1="61.2" y1="233.2" x2="61.2" y2="235.7" stroke="#111" stroke-width="0.9"/>
<line x1="60.1" y1="233.2" x2="62.3" y2="233.2" stroke="#111" stroke-width="0.9"/>
<line x1="60.1" y1="235.7" x2="62.3" y2="235.7" stroke="#111" stroke-width="0.9"/>
<rect x="70.4" y="224.4" width="7.8" height="38.9" fill="#ababab" stroke="#3a3a3a" stroke-width="0.9" />
<line x1="74.3" y1="222.5" x2="74.3" y2="226.2" stroke="#111" stroke-width="0.9"/>
<line x1="73.2" y1="222.5" x2="75.4" y2="222.5" stroke="#111" stroke-width="0.9"/>
<line x1="73.2" y1="226.2" x2="75.4" y2="226.2" stroke="#111" stroke-width="0.9"/>
<rect x="83.2" y="205.6" width="7.8" height="57.7" fill="#ababab" stroke="#3a3a3a" stroke-width="0.9" />
<line x1="87.1" y1="204.5" x2="87.1" y2="206.7" stroke="#111" stroke-width="0.9"/>
<line x1="86.0" y1="204.5" x2="88.2" y2="204.5" stroke="#111" stroke-width="0.9"/>
<line x1="86.0" y1="206.7" x2="88.2" y2="206.7" stroke="#111" stroke-width="0.9"/>
<rect x="97.4" y="259.9" width="7.8" height="3.4" fill="#0a0ad2" stroke="#00006a" stroke-width="0.9" />
<line x1="101.3" y1="259.4" x2="101.3" y2="260.4" stroke="#111" stroke-width="0.9"/>
<line x1="100.2" y1="259.4" x2="102.4" y2="259.4" stroke="#111" stroke-width="0.9"/>
<line x1="100.2" y1="260.4" x2="102.4" y2="260.4" stroke="#111" stroke-width="0.9"/>
<rect x="110.3" y="248.1" width="7.8" height="15.2" fill="#0a0ad2" stroke="#00006a" stroke-width="0.9" />
<line x1="114.2" y1="247.3" x2="114.2" y2="249.0" stroke="#111" stroke-width="0.9"/>
<line x1="113.1" y1="247.3" x2="115.3" y2="247.3" stroke="#111" stroke-width="0.9"/>
<line x1="113.1" y1="249.0" x2="115.3" y2="249.0" stroke="#111" stroke-width="0.9"/>
<rect x="123.3" y="233.2" width="7.8" height="30.1" fill="#0a0ad2" stroke="#00006a" stroke-width="0.9" />
<line x1="127.2" y1="231.9" x2="127.2" y2="234.6" stroke="#111" stroke-width="0.9"/>
<line x1="126.1" y1="231.9" x2="128.3" y2="231.9" stroke="#111" stroke-width="0.9"/>
<line x1="126.1" y1="234.6" x2="128.3" y2="234.6" stroke="#111" stroke-width="0.9"/>
<rect x="136.3" y="216.3" width="7.8" height="47.0" fill="#0a0ad2" stroke="#00006a" stroke-width="0.9" />
<line x1="140.2" y1="214.2" x2="140.2" y2="218.5" stroke="#111" stroke-width="0.9"/>
<line x1="139.1" y1="214.2" x2="141.3" y2="214.2" stroke="#111" stroke-width="0.9"/>
<line x1="139.1" y1="218.5" x2="141.3" y2="218.5" stroke="#111" stroke-width="0.9"/>
<text x="48.4" y="270.5" font-size="5.5" text-anchor="middle" font-weight="normal" font-style="normal" fill="#000" >25</text>
<text x="61.2" y="270.5" font-size="5.5" text-anchor="middle" font-weight="normal" font-style="normal" fill="#000" >12</text>
<text x="74.3" y="270.5" font-size="5.5" text-anchor="middle" font-weight="normal" font-style="normal" fill="#000" >6</text>
<text x="87.1" y="270.5" font-size="5.5" text-anchor="middle" font-weight="normal" font-style="normal" fill="#000" >3</text>
<text x="101.3" y="270.5" font-size="5.5" text-anchor="middle" font-weight="normal" font-style="normal" fill="#000" >25</text>
<text x="114.2" y="270.5" font-size="5.5" text-anchor="middle" font-weight="normal" font-style="normal" fill="#000" >12</text>
<text x="127.2" y="270.5" font-size="5.5" text-anchor="middle" font-weight="normal" font-style="normal" fill="#000" >6</text>
<text x="140.2" y="270.5" font-size="5.5" text-anchor="middle" font-weight="normal" font-style="normal" fill="#000" >3</text>
<path d="M46.4,273.2 L86.8,273.2 L46.4,277.2 Z" stroke="#222" stroke-width="0.9" fill="#fff" stroke-linejoin="miter"/>
<path d="M100.3,272.8 L140.5,272.8 L100.3,276.8 Z" stroke="#222" stroke-width="0.9" fill="#fff" stroke-linejoin="miter"/>
<text x="65.6" y="286.6" font-size="6.9" text-anchor="middle" font-weight="normal" font-style="normal" fill="#000" >MI-2 (µM)</text>
<text x="117.3" y="287.4" font-size="6.4" text-anchor="middle" font-weight="normal" font-style="normal" fill="#000" >MI-2-2 (µM)</text>
<text x="0" y="0" font-size="9.2" text-anchor="middle" fill="#000" transform="translate(22.2,222.7) rotate(-90)">% of colonies</text>
<path d="M48.6,199.3 H86.8 M67.5,199.3 V189.1 H118.8 V207.8 M100.3,207.8 H138.1" stroke="#555" stroke-width="0.9" fill="none" />
<text x="80.5" y="184.7" font-size="6.9" fill="#000"><tspan font-style="italic">p</tspan>=0.013</text>
<text x="5.2" y="322.4" font-size="17.5" text-anchor="start" font-weight="bold" font-style="normal" fill="#000" >F</text>
<line x1="28.2" y1="329.5" x2="28.2" y2="416.3" stroke="#111" stroke-width="1.0"/>
<line x1="28.2" y1="416.3" x2="134.6" y2="416.3" stroke="#111" stroke-width="1.0"/>
<line x1="26.6" y1="416.3" x2="28.2" y2="416.3" stroke="#111" stroke-width="0.8"/>
<text x="26.2" y="418.6" font-size="6.4" text-anchor="end" font-weight="normal" font-style="normal" fill="#000" >0</text>
<line x1="26.6" y1="387.9" x2="28.2" y2="387.9" stroke="#111" stroke-width="0.8"/>
<text x="26.2" y="390.2" font-size="6.4" text-anchor="end" font-weight="normal" font-style="normal" fill="#000" >20</text>
<line x1="26.6" y1="359.5" x2="28.2" y2="359.5" stroke="#111" stroke-width="0.8"/>
<text x="26.2" y="361.8" font-size="6.4" text-anchor="end" font-weight="normal" font-style="normal" fill="#000" >40</text>
<line x1="26.6" y1="331.1" x2="28.2" y2="331.1" stroke="#111" stroke-width="0.8"/>
<text x="26.2" y="333.4" font-size="6.4" text-anchor="end" font-weight="normal" font-style="normal" fill="#000" >60</text>
<rect x="30.1" y="409.1" width="9.2" height="7.2" fill="#3c3c3c" stroke="#1a1a1a" stroke-width="0.9" />
<line x1="34.7" y1="408.6" x2="34.7" y2="409.5" stroke="#111" stroke-width="0.9"/>
<line x1="33.4" y1="408.6" x2="36.0" y2="408.6" stroke="#111" stroke-width="0.9"/>
<line x1="33.4" y1="409.5" x2="36.0" y2="409.5" stroke="#111" stroke-width="0.9"/>
<rect x="46.9" y="377.2" width="9.7" height="39.1" fill="#ababab" stroke="#3a3a3a" stroke-width="0.9" />
<line x1="51.8" y1="372.7" x2="51.8" y2="381.8" stroke="#111" stroke-width="0.9"/>
<line x1="50.5" y1="372.7" x2="53.0" y2="372.7" stroke="#111" stroke-width="0.9"/>
<line x1="50.5" y1="381.8" x2="53.0" y2="381.8" stroke="#111" stroke-width="0.9"/>
<rect x="61.9" y="381.8" width="9.7" height="34.5" fill="#ababab" stroke="#3a3a3a" stroke-width="0.9" />
<line x1="66.8" y1="379.5" x2="66.8" y2="384.1" stroke="#111" stroke-width="0.9"/>
<line x1="65.5" y1="379.5" x2="68.0" y2="379.5" stroke="#111" stroke-width="0.9"/>
<line x1="65.5" y1="384.1" x2="68.0" y2="384.1" stroke="#111" stroke-width="0.9"/>
<rect x="76.9" y="389.3" width="9.7" height="27.0" fill="#ababab" stroke="#3a3a3a" stroke-width="0.9" />
<line x1="81.8" y1="388.5" x2="81.8" y2="390.2" stroke="#111" stroke-width="0.9"/>
<line x1="80.5" y1="388.5" x2="83.0" y2="388.5" stroke="#111" stroke-width="0.9"/>
<line x1="80.5" y1="390.2" x2="83.0" y2="390.2" stroke="#111" stroke-width="0.9"/>
<rect x="93.8" y="340.5" width="9.7" height="75.8" fill="#0a0ad2" stroke="#00006a" stroke-width="0.9" />
<line x1="98.7" y1="335.9" x2="98.7" y2="345.0" stroke="#111" stroke-width="0.9"/>
<line x1="97.4" y1="335.9" x2="100.0" y2="335.9" stroke="#111" stroke-width="0.9"/>
<line x1="97.4" y1="345.0" x2="100.0" y2="345.0" stroke="#111" stroke-width="0.9"/>
<rect x="108.5" y="357.5" width="9.8" height="58.8" fill="#0a0ad2" stroke="#00006a" stroke-width="0.9" />
<line x1="113.4" y1="355.5" x2="113.4" y2="359.5" stroke="#111" stroke-width="0.9"/>
<line x1="112.1" y1="355.5" x2="114.7" y2="355.5" stroke="#111" stroke-width="0.9"/>
<line x1="112.1" y1="359.5" x2="114.7" y2="359.5" stroke="#111" stroke-width="0.9"/>
<rect x="123.8" y="383.1" width="9.7" height="33.2" fill="#0a0ad2" stroke="#00006a" stroke-width="0.9" />
<line x1="128.7" y1="379.1" x2="128.7" y2="387.0" stroke="#111" stroke-width="0.9"/>
<line x1="127.4" y1="379.1" x2="130.0" y2="379.1" stroke="#111" stroke-width="0.9"/>
<line x1="127.4" y1="387.0" x2="130.0" y2="387.0" stroke="#111" stroke-width="0.9"/>
<text x="51.0" y="425.4" font-size="6.5" text-anchor="middle" font-weight="normal" font-style="normal" fill="#000" >12</text>
<text x="66.5" y="425.4" font-size="6.5" text-anchor="middle" font-weight="normal" font-style="normal" fill="#000" >6</text>
<text x="81.5" y="425.4" font-size="6.5" text-anchor="middle" font-weight="normal" font-style="normal" fill="#000" >3</text>
<text x="98.6" y="425.4" font-size="6.5" text-anchor="middle" font-weight="normal" font-style="normal" fill="#000" >12</text>
<text x="113.6" y="425.4" font-size="6.5" text-anchor="middle" font-weight="normal" font-style="normal" fill="#000" >6</text>
<text x="128.8" y="425.4" font-size="6.5" text-anchor="middle" font-weight="normal" font-style="normal" fill="#000" >3</text>
<path d="M45.3,426.1 L86.2,426.1 L45.3,430.5 Z" stroke="#222" stroke-width="0.9" fill="#fff" stroke-linejoin="miter"/>
<path d="M93.8,426.1 L133.5,426.1 L93.8,430.5 Z" stroke="#222" stroke-width="0.9" fill="#fff" stroke-linejoin="miter"/>
<text x="66.3" y="440.2" font-size="7.1" text-anchor="middle" font-weight="normal" font-style="normal" fill="#000" >MI-2 (µM)</text>
<text x="113.9" y="440.2" font-size="7.0" text-anchor="middle" font-weight="normal" font-style="normal" fill="#000" >MI-2-2 (µM)</text>
<text x="0" y="0" font-size="8.45" text-anchor="middle" fill="#000" transform="translate(14.8,373.2) rotate(-90)">% CD11b (+) cells</text>
<path d="M51.5,364 H83.8 M66.3,364 V322.7 H113.5 V332.1 M97.7,332.1 H130" stroke="#555" stroke-width="0.9" fill="none" />
<text x="75.2" y="318.6" font-size="6.7" fill="#000"><tspan font-style="italic">p</tspan>=0.0027</text>
<text x="181.1" y="176.6" font-size="17.0" text-anchor="start" font-weight="bold" font-style="normal" fill="#000" >E</text>
<text x="242.1" y="172.8" font-size="10.1" text-anchor="middle" font-weight="normal" font-style="normal" fill="#000" >DMSO</text>
<text x="350.4" y="171.9" font-size="10.7" text-anchor="middle" font-weight="normal" font-style="normal" fill="#000" >MI-2 (12µM)</text>
<text x="455.6" y="172.1" font-size="10.7" text-anchor="middle" font-weight="normal" font-style="normal" fill="#000" >MI-2-2 (12µM)</text>
<line x1="240.1" y1="272.6" x2="283.3" y2="272.6" stroke="#000" stroke-width="1.6"/>
<line x1="345.6" y1="271.6" x2="388.9" y2="271.6" stroke="#000" stroke-width="1.6"/>
<line x1="452.7" y1="272.0" x2="496.0" y2="272.0" stroke="#000" stroke-width="1.6"/>
<text x="262.0" y="283.3" font-size="7.4" text-anchor="middle" font-weight="normal" font-style="normal" fill="#000" >500µm</text>
<text x="366.5" y="283.3" font-size="7.4" text-anchor="middle" font-weight="normal" font-style="normal" fill="#000" >500µm</text>
<text x="474.6" y="283.3" font-size="7.4" text-anchor="middle" font-weight="normal" font-style="normal" fill="#000" >500µm</text>
<text x="148.6" y="321.0" font-size="17.0" text-anchor="start" font-weight="bold" font-style="normal" fill="#000" >G</text>
<text x="216.9" y="315.5" font-size="11.6" text-anchor="middle" font-weight="normal" font-style="normal" fill="#000" >DMSO</text>
<text x="344.1" y="315.0" font-size="11.8" text-anchor="middle" font-weight="normal" font-style="normal" fill="#000" >MI-2 (12µM)</text>
<text x="468.3" y="316.3" font-size="11.7" text-anchor="middle" font-weight="normal" font-style="normal" fill="#000" >MI-2-2 (12µM)</text>
<line x1="211.9" y1="423.2" x2="260.4" y2="423.2" stroke="#000" stroke-width="1.8"/>
<line x1="335.2" y1="422.6" x2="383.1" y2="422.6" stroke="#000" stroke-width="1.8"/>
<line x1="466.2" y1="423.2" x2="513.8" y2="423.2" stroke="#000" stroke-width="1.8"/>
<text x="236.8" y="435.4" font-size="8.9" text-anchor="middle" font-weight="normal" font-style="normal" fill="#000" >50µm</text>
<text x="357.4" y="435.4" font-size="8.9" text-anchor="middle" font-weight="normal" font-style="normal" fill="#000" >50µm</text>
<text x="490.5" y="435.4" font-size="8.9" text-anchor="middle" font-weight="normal" font-style="normal" fill="#000" >50µm</text>
</svg>
</body></html>
